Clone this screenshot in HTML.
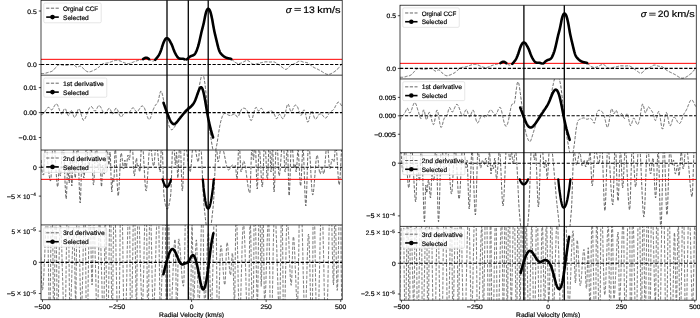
<!DOCTYPE html>
<html><head><meta charset="utf-8"><style>
html,body{margin:0;padding:0;background:#fff;}
svg{display:block;will-change:transform;}
text{font-family:"Liberation Sans",sans-serif;fill:#000;stroke:#000;stroke-width:0.18px;text-rendering:geometricPrecision;}
</style></head><body>
<svg width="700" height="318" viewBox="0 0 700 318">
<defs><filter id="tb" x="-5%" y="-20%" width="110%" height="140%"><feGaussianBlur stdDeviation="0.22"/></filter></defs>
<rect width="700" height="318" fill="#fff"/>
<clipPath id="cL0"><rect x="41.00" y="0.30" width="301.20" height="74.87"/></clipPath>
<clipPath id="cL1"><rect x="41.00" y="75.17" width="301.20" height="74.87"/></clipPath>
<clipPath id="cL2"><rect x="41.00" y="150.04" width="301.20" height="74.87"/></clipPath>
<clipPath id="cL3"><rect x="41.00" y="224.91" width="301.20" height="74.87"/></clipPath>
<g clip-path="url(#cL0)">
<path d="M41.0,73.5 L41.2,73.5 L41.3,73.5 L41.5,73.5 L41.7,73.5 L41.8,73.5 L42.0,73.5 L42.2,73.5 L42.3,73.5 L42.5,73.5 L42.7,73.5 L42.8,73.5 L43.0,73.5 L43.2,73.5 L43.3,73.5 L43.5,73.5 L43.7,73.5 L43.8,73.5 L44.0,73.5 L44.2,73.4 L44.3,73.4 L44.5,73.4 L44.7,73.4 L44.8,73.3 L45.0,73.3 L45.2,73.3 L45.3,73.2 L45.5,73.2 L45.7,73.2 L45.8,73.1 L46.0,73.1 L46.2,73.0 L46.3,73.0 L46.5,72.9 L46.7,72.9 L46.8,72.8 L47.0,72.8 L47.2,72.7 L47.3,72.7 L47.5,72.6 L47.7,72.6 L47.8,72.5 L48.0,72.5 L48.2,72.4 L48.3,72.4 L48.5,72.3 L48.7,72.3 L48.8,72.2 L49.0,72.2 L49.2,72.2 L49.3,72.1 L49.5,72.1 L49.7,72.0 L49.8,72.0 L50.0,72.0 L50.2,71.9 L50.3,71.9 L50.5,71.8 L50.7,71.8 L50.8,71.7 L51.0,71.7 L51.2,71.6 L51.3,71.5 L51.5,71.5 L51.7,71.4 L51.8,71.3 L52.0,71.2 L52.2,71.1 L52.3,71.0 L52.5,70.9 L52.7,70.8 L52.8,70.6 L53.0,70.5 L53.2,70.4 L53.3,70.2 L53.5,70.0 L53.7,69.9 L53.8,69.7 L54.0,69.5 L54.2,69.3 L54.3,69.1 L54.5,68.9 L54.7,68.7 L54.8,68.5 L55.0,68.3 L55.2,68.1 L55.3,67.9 L55.5,67.7 L55.7,67.5 L55.8,67.3 L56.0,67.1 L56.2,66.9 L56.3,66.7 L56.5,66.5 L56.7,66.3 L56.8,66.2 L57.0,66.0 L57.2,65.8 L57.3,65.7 L57.5,65.6 L57.7,65.4 L57.8,65.3 L58.0,65.2 L58.2,65.1 L58.3,65.0 L58.5,64.9 L58.7,64.9 L58.8,64.8 L59.0,64.8 L59.2,64.7 L59.3,64.7 L59.5,64.7 L59.7,64.7 L59.8,64.6 L60.0,64.6 L60.2,64.6 L60.3,64.7 L60.5,64.7 L60.7,64.7 L60.8,64.7 L61.0,64.7 L61.2,64.8 L61.3,64.8 L61.5,64.8 L61.7,64.9 L61.8,64.9 L62.0,64.9 L62.2,65.0 L62.3,65.0 L62.5,65.0 L62.7,65.1 L62.8,65.1 L63.0,65.1 L63.2,65.2 L63.3,65.2 L63.5,65.2 L63.7,65.3 L63.8,65.3 L64.0,65.3 L64.2,65.3 L64.3,65.3 L64.5,65.4 L64.7,65.4 L64.8,65.4 L65.0,65.4 L65.2,65.4 L65.3,65.4 L65.5,65.4 L65.7,65.4 L65.8,65.4 L66.0,65.4 L66.2,65.4 L66.4,65.4 L66.5,65.3 L66.7,65.3 L66.9,65.3 L67.0,65.3 L67.2,65.3 L67.4,65.2 L67.5,65.2 L67.7,65.2 L67.9,65.2 L68.0,65.1 L68.2,65.1 L68.4,65.1 L68.5,65.0 L68.7,65.0 L68.9,65.0 L69.0,65.0 L69.2,64.9 L69.4,64.9 L69.5,64.9 L69.7,64.8 L69.9,64.8 L70.0,64.8 L70.2,64.8 L70.4,64.7 L70.5,64.7 L70.7,64.7 L70.9,64.7 L71.0,64.7 L71.2,64.7 L71.4,64.7 L71.5,64.7 L71.7,64.7 L71.9,64.7 L72.0,64.7 L72.2,64.7 L72.4,64.7 L72.5,64.7 L72.7,64.7 L72.9,64.8 L73.0,64.8 L73.2,64.9 L73.4,64.9 L73.5,65.0 L73.7,65.0 L73.9,65.1 L74.0,65.2 L74.2,65.3 L74.4,65.4 L74.5,65.5 L74.7,65.6 L74.9,65.7 L75.0,65.8 L75.2,66.0 L75.4,66.1 L75.5,66.3 L75.7,66.4 L75.9,66.6 L76.0,66.7 L76.2,66.9 L76.4,67.0 L76.5,67.1 L76.7,67.2 L76.9,67.2 L77.0,67.2 L77.2,67.3 L77.4,67.2 L77.5,67.2 L77.7,67.2 L77.9,67.1 L78.0,67.0 L78.2,66.9 L78.4,66.8 L78.5,66.7 L78.7,66.6 L78.9,66.5 L79.0,66.4 L79.2,66.3 L79.4,66.3 L79.5,66.2 L79.7,66.1 L79.9,66.1 L80.0,66.0 L80.2,66.0 L80.4,66.0 L80.5,66.0 L80.7,66.1 L80.9,66.1 L81.0,66.2 L81.2,66.3 L81.4,66.4 L81.5,66.6 L81.7,66.7 L81.9,66.9 L82.0,67.0 L82.2,67.2 L82.4,67.4 L82.5,67.6 L82.7,67.7 L82.9,67.9 L83.0,68.1 L83.2,68.3 L83.4,68.5 L83.5,68.7 L83.7,68.9 L83.9,69.1 L84.0,69.3 L84.2,69.4 L84.4,69.6 L84.5,69.8 L84.7,69.9 L84.9,70.1 L85.0,70.2 L85.2,70.3 L85.4,70.5 L85.5,70.6 L85.7,70.7 L85.9,70.8 L86.0,70.9 L86.2,71.1 L86.4,71.2 L86.5,71.2 L86.7,71.3 L86.9,71.4 L87.0,71.5 L87.2,71.6 L87.4,71.6 L87.5,71.7 L87.7,71.7 L87.9,71.8 L88.0,71.8 L88.2,71.8 L88.4,71.9 L88.5,71.9 L88.7,71.9 L88.9,71.9 L89.0,71.9 L89.2,71.9 L89.4,71.9 L89.5,71.9 L89.7,71.8 L89.9,71.8 L90.0,71.8 L90.2,71.7 L90.4,71.7 L90.5,71.6 L90.7,71.6 L90.9,71.5 L91.0,71.5 L91.2,71.4 L91.4,71.4 L91.5,71.3 L91.7,71.2 L91.9,71.2 L92.0,71.1 L92.2,71.0 L92.4,70.9 L92.5,70.9 L92.7,70.8 L92.9,70.7 L93.0,70.6 L93.2,70.6 L93.4,70.5 L93.5,70.4 L93.7,70.3 L93.9,70.3 L94.0,70.2 L94.2,70.1 L94.4,70.0 L94.5,69.9 L94.7,69.9 L94.9,69.8 L95.0,69.7 L95.2,69.6 L95.4,69.5 L95.5,69.4 L95.7,69.4 L95.9,69.3 L96.0,69.2 L96.2,69.1 L96.4,69.0 L96.5,68.9 L96.7,68.8 L96.9,68.7 L97.0,68.6 L97.2,68.4 L97.4,68.3 L97.5,68.2 L97.7,68.1 L97.9,68.0 L98.0,67.8 L98.2,67.7 L98.4,67.5 L98.5,67.4 L98.7,67.2 L98.9,67.1 L99.0,66.9 L99.2,66.8 L99.4,66.6 L99.5,66.5 L99.7,66.3 L99.9,66.1 L100.0,66.0 L100.2,65.8 L100.4,65.7 L100.5,65.5 L100.7,65.4 L100.9,65.2 L101.0,65.1 L101.2,64.9 L101.4,64.8 L101.5,64.7 L101.7,64.5 L101.9,64.4 L102.0,64.3 L102.2,64.2 L102.4,64.1 L102.5,64.0 L102.7,63.9 L102.9,63.9 L103.0,63.8 L103.2,63.7 L103.4,63.7 L103.5,63.6 L103.7,63.6 L103.9,63.5 L104.0,63.5 L104.2,63.4 L104.4,63.4 L104.5,63.4 L104.7,63.3 L104.9,63.3 L105.0,63.3 L105.2,63.3 L105.4,63.2 L105.5,63.2 L105.7,63.2 L105.9,63.2 L106.0,63.2 L106.2,63.1 L106.4,63.1 L106.5,63.1 L106.7,63.1 L106.9,63.1 L107.0,63.0 L107.2,63.0 L107.4,63.0 L107.5,63.0 L107.7,62.9 L107.9,62.9 L108.0,62.9 L108.2,62.8 L108.4,62.8 L108.5,62.7 L108.7,62.7 L108.9,62.7 L109.0,62.6 L109.2,62.5 L109.4,62.5 L109.5,62.4 L109.7,62.4 L109.9,62.3 L110.0,62.3 L110.2,62.2 L110.4,62.1 L110.5,62.1 L110.7,62.0 L110.9,61.9 L111.0,61.9 L111.2,61.8 L111.4,61.7 L111.5,61.7 L111.7,61.6 L111.9,61.5 L112.0,61.5 L112.2,61.4 L112.4,61.3 L112.5,61.3 L112.7,61.2 L112.9,61.1 L113.0,61.1 L113.2,61.0 L113.4,61.0 L113.5,60.9 L113.7,60.8 L113.9,60.8 L114.0,60.7 L114.2,60.7 L114.4,60.6 L114.5,60.6 L114.7,60.6 L114.9,60.5 L115.0,60.5 L115.2,60.4 L115.4,60.4 L115.5,60.4 L115.7,60.3 L115.9,60.3 L116.0,60.3 L116.2,60.3 L116.4,60.3 L116.6,60.3 L116.7,60.3 L116.9,60.3 L117.1,60.3 L117.2,60.3 L117.4,60.3 L117.6,60.3 L117.7,60.3 L117.9,60.3 L118.1,60.4 L118.2,60.4 L118.4,60.4 L118.6,60.5 L118.7,60.5 L118.9,60.5 L119.1,60.6 L119.2,60.6 L119.4,60.7 L119.6,60.8 L119.7,60.8 L119.9,60.9 L120.1,60.9 L120.2,61.0 L120.4,61.1 L120.6,61.2 L120.7,61.2 L120.9,61.3 L121.1,61.4 L121.2,61.4 L121.4,61.5 L121.6,61.6 L121.7,61.7 L121.9,61.8 L122.1,61.8 L122.2,61.9 L122.4,62.0 L122.6,62.1 L122.7,62.1 L122.9,62.2 L123.1,62.3 L123.2,62.4 L123.4,62.4 L123.6,62.5 L123.7,62.6 L123.9,62.6 L124.1,62.7 L124.2,62.8 L124.4,62.8 L124.6,62.9 L124.7,63.0 L124.9,63.0 L125.1,63.1 L125.2,63.1 L125.4,63.2 L125.6,63.2 L125.7,63.3 L125.9,63.3 L126.1,63.3 L126.2,63.4 L126.4,63.4 L126.6,63.4 L126.7,63.5 L126.9,63.5 L127.1,63.5 L127.2,63.5 L127.4,63.6 L127.6,63.6 L127.7,63.6 L127.9,63.6 L128.1,63.6 L128.2,63.6 L128.4,63.6 L128.6,63.6 L128.7,63.6 L128.9,63.6 L129.1,63.5 L129.2,63.5 L129.4,63.5 L129.6,63.5 L129.7,63.4 L129.9,63.4 L130.1,63.3 L130.2,63.3 L130.4,63.2 L130.6,63.2 L130.7,63.1 L130.9,63.1 L131.1,63.0 L131.2,62.9 L131.4,62.9 L131.6,62.8 L131.7,62.8 L131.9,62.7 L132.1,62.6 L132.2,62.5 L132.4,62.5 L132.6,62.4 L132.7,62.3 L132.9,62.2 L133.1,62.2 L133.2,62.1 L133.4,62.0 L133.6,62.0 L133.7,61.9 L133.9,61.8 L134.1,61.7 L134.2,61.7 L134.4,61.6 L134.6,61.5 L134.7,61.5 L134.9,61.4 L135.1,61.3 L135.2,61.3 L135.4,61.2 L135.6,61.2 L135.7,61.1 L135.9,61.1 L136.1,61.0 L136.2,61.0 L136.4,60.9 L136.6,60.8 L136.7,60.8 L136.9,60.8 L137.1,60.7 L137.2,60.7 L137.4,60.6 L137.6,60.6 L137.7,60.5 L137.9,60.5 L138.1,60.4 L138.2,60.4 L138.4,60.4 L138.6,60.3 L138.7,60.3 L138.9,60.2 L139.1,60.2 L139.2,60.2 L139.4,60.1 L139.6,60.1 L139.7,60.0 L139.9,60.0 L140.1,60.0 L140.2,59.9 L140.4,59.9 L140.6,59.9 L140.7,59.8 L140.9,59.8 L141.1,59.8 L141.2,59.7 L141.4,59.7 L141.6,59.6 L141.7,59.6 L141.9,59.5 L142.1,59.5 L142.2,59.4 L142.4,59.4 L142.6,59.3 L142.7,59.2 L142.9,59.1 L143.1,59.1 L143.2,59.0 L143.4,58.9 L143.6,58.8 L143.7,58.7 L143.9,58.6 L144.1,58.5 L144.2,58.4 L144.4,58.3 L144.6,58.2 L144.7,58.1 L144.9,58.0 L145.1,58.0 L145.2,57.9 L145.4,57.8 L145.6,57.8 L145.7,57.7 L145.9,57.7 L146.1,57.7 L146.2,57.7 L146.4,57.7 L146.6,57.7 L146.7,57.8 L146.9,57.8 L147.1,57.9 L147.2,57.9 L147.4,58.0 L147.6,58.1 L147.7,58.2 L147.9,58.3 L148.1,58.4 L148.2,58.5 L148.4,58.6 L148.6,58.8 L148.7,58.9 L148.9,59.0 L149.1,59.2 L149.2,59.3 L149.4,59.4 L149.6,59.6 L149.7,59.7 L149.9,59.8 L150.1,60.0 L150.2,60.1 L150.4,60.2 L150.6,60.3 L150.7,60.4 L150.9,60.5 L151.1,60.6 L151.2,60.7 L151.4,60.8 L151.6,60.9 L151.7,60.9 L151.9,61.0 L152.1,61.0 L152.2,61.1 L152.4,61.1 L152.6,61.1 L152.7,61.1 L152.9,61.1 L153.1,61.0 L153.2,61.0 L153.4,61.0 L153.6,60.9 L153.7,60.8 L153.9,60.7 L154.1,60.7 L154.2,60.6 L154.4,60.5 L154.6,60.3 L154.7,60.2 L154.9,60.1 L155.1,59.9 L155.2,59.8 L155.4,59.6 L155.6,59.4 L155.7,59.2 L155.9,59.0 L156.1,58.8 L156.2,58.6 L156.4,58.4 L156.6,58.2 L156.7,58.0 L156.9,57.8 L157.1,57.6 L157.2,57.3 L157.4,57.1 L157.6,56.9 L157.7,56.7 L157.9,56.5 L158.1,56.2 L158.2,56.0 L158.4,55.8 L158.6,55.5 L158.7,55.3 L158.9,55.0 L159.1,54.7 L159.2,54.4 L159.4,54.0 L159.6,53.7 L159.7,53.3 L159.9,52.9 L160.1,52.5 L160.2,52.2 L160.4,51.8 L160.6,51.4 L160.7,50.9 L160.9,50.5 L161.1,50.1 L161.2,49.6 L161.4,49.1 L161.6,48.6 L161.7,48.0 L161.9,47.5 L162.1,47.0 L162.2,46.4 L162.4,45.9 L162.6,45.4 L162.7,44.9 L162.9,44.4 L163.1,43.9 L163.2,43.5 L163.4,43.0 L163.6,42.6 L163.7,42.2 L163.9,41.8 L164.1,41.5 L164.2,41.1 L164.4,40.8 L164.6,40.4 L164.7,40.1 L164.9,39.8 L165.1,39.6 L165.2,39.3 L165.4,39.1 L165.6,38.9 L165.7,38.7 L165.9,38.6 L166.1,38.5 L166.2,38.4 L166.4,38.3 L166.6,38.2 L166.8,38.2 L166.9,38.2 L167.1,38.2 L167.3,38.2 L167.4,38.3 L167.6,38.4 L167.8,38.4 L167.9,38.6 L168.1,38.7 L168.3,38.8 L168.4,39.0 L168.6,39.2 L168.8,39.4 L168.9,39.6 L169.1,39.8 L169.3,40.1 L169.4,40.3 L169.6,40.6 L169.8,40.9 L169.9,41.2 L170.1,41.5 L170.3,41.8 L170.4,42.1 L170.6,42.4 L170.8,42.7 L170.9,43.0 L171.1,43.3 L171.3,43.6 L171.4,44.0 L171.6,44.3 L171.8,44.7 L171.9,45.0 L172.1,45.4 L172.3,45.9 L172.4,46.3 L172.6,46.7 L172.8,47.2 L172.9,47.6 L173.1,48.1 L173.3,48.5 L173.4,49.0 L173.6,49.4 L173.8,49.9 L173.9,50.3 L174.1,50.7 L174.3,51.1 L174.4,51.5 L174.6,51.9 L174.8,52.2 L174.9,52.6 L175.1,52.9 L175.3,53.3 L175.4,53.6 L175.6,53.9 L175.8,54.2 L175.9,54.5 L176.1,54.8 L176.3,55.1 L176.4,55.4 L176.6,55.6 L176.8,55.9 L176.9,56.2 L177.1,56.4 L177.3,56.6 L177.4,56.9 L177.6,57.1 L177.8,57.3 L177.9,57.5 L178.1,57.7 L178.3,57.8 L178.4,58.0 L178.6,58.1 L178.8,58.2 L178.9,58.3 L179.1,58.4 L179.3,58.5 L179.4,58.5 L179.6,58.6 L179.8,58.6 L179.9,58.6 L180.1,58.7 L180.3,58.7 L180.4,58.7 L180.6,58.7 L180.8,58.7 L180.9,58.7 L181.1,58.7 L181.3,58.7 L181.4,58.7 L181.6,58.7 L181.8,58.7 L181.9,58.7 L182.1,58.7 L182.3,58.7 L182.4,58.7 L182.6,58.7 L182.8,58.8 L182.9,58.8 L183.1,58.8 L183.3,58.9 L183.4,58.9 L183.6,59.0 L183.8,59.0 L183.9,59.1 L184.1,59.1 L184.3,59.2 L184.4,59.3 L184.6,59.3 L184.8,59.4 L184.9,59.4 L185.1,59.5 L185.3,59.5 L185.4,59.6 L185.6,59.6 L185.8,59.6 L185.9,59.6 L186.1,59.6 L186.3,59.6 L186.4,59.5 L186.6,59.4 L186.8,59.4 L186.9,59.3 L187.1,59.1 L187.3,59.0 L187.4,58.9 L187.6,58.7 L187.8,58.5 L187.9,58.4 L188.1,58.2 L188.3,58.0 L188.4,57.9 L188.6,57.7 L188.8,57.6 L188.9,57.4 L189.1,57.3 L189.3,57.1 L189.4,57.0 L189.6,56.9 L189.8,56.8 L189.9,56.6 L190.1,56.5 L190.3,56.4 L190.4,56.4 L190.6,56.3 L190.8,56.2 L190.9,56.1 L191.1,56.0 L191.3,56.0 L191.4,55.9 L191.6,55.9 L191.8,55.8 L191.9,55.8 L192.1,55.7 L192.3,55.7 L192.4,55.6 L192.6,55.5 L192.8,55.5 L192.9,55.4 L193.1,55.4 L193.3,55.3 L193.4,55.2 L193.6,55.1 L193.8,55.0 L193.9,54.9 L194.1,54.8 L194.3,54.6 L194.4,54.5 L194.6,54.3 L194.8,54.1 L194.9,53.9 L195.1,53.6 L195.3,53.4 L195.4,53.1 L195.6,52.8 L195.8,52.5 L195.9,52.2 L196.1,51.8 L196.3,51.4 L196.4,51.1 L196.6,50.7 L196.8,50.2 L196.9,49.8 L197.1,49.4 L197.3,48.9 L197.4,48.4 L197.6,47.9 L197.8,47.4 L197.9,46.9 L198.1,46.4 L198.3,45.8 L198.4,45.2 L198.6,44.6 L198.8,44.0 L198.9,43.3 L199.1,42.6 L199.3,42.0 L199.4,41.2 L199.6,40.5 L199.8,39.8 L199.9,39.0 L200.1,38.3 L200.3,37.5 L200.4,36.7 L200.6,36.0 L200.8,35.2 L200.9,34.5 L201.1,33.7 L201.3,33.0 L201.4,32.3 L201.6,31.6 L201.8,30.9 L201.9,30.2 L202.1,29.6 L202.3,28.9 L202.4,28.3 L202.6,27.7 L202.8,27.0 L202.9,26.4 L203.1,25.7 L203.3,25.1 L203.4,24.4 L203.6,23.7 L203.8,22.9 L203.9,22.1 L204.1,21.3 L204.3,20.5 L204.4,19.6 L204.6,18.8 L204.8,17.9 L204.9,17.1 L205.1,16.2 L205.3,15.4 L205.4,14.7 L205.6,14.0 L205.8,13.3 L205.9,12.7 L206.1,12.2 L206.3,11.7 L206.4,11.2 L206.6,10.8 L206.8,10.4 L206.9,10.0 L207.1,9.7 L207.3,9.5 L207.4,9.2 L207.6,9.1 L207.8,8.9 L207.9,8.9 L208.1,8.8 L208.3,8.8 L208.4,8.8 L208.6,8.9 L208.8,9.0 L208.9,9.1 L209.1,9.3 L209.3,9.5 L209.4,9.8 L209.6,10.0 L209.8,10.3 L209.9,10.7 L210.1,11.1 L210.3,11.6 L210.4,12.1 L210.6,12.6 L210.8,13.2 L210.9,13.8 L211.1,14.5 L211.3,15.2 L211.4,15.9 L211.6,16.6 L211.8,17.4 L211.9,18.2 L212.1,19.0 L212.3,19.9 L212.4,20.8 L212.6,21.7 L212.8,22.7 L212.9,23.7 L213.1,24.7 L213.3,25.6 L213.4,26.6 L213.6,27.5 L213.8,28.4 L213.9,29.2 L214.1,30.1 L214.3,30.9 L214.4,31.7 L214.6,32.4 L214.8,33.2 L214.9,33.9 L215.1,34.6 L215.3,35.3 L215.4,36.1 L215.6,36.7 L215.8,37.4 L215.9,38.1 L216.1,38.8 L216.3,39.5 L216.4,40.2 L216.6,40.9 L216.8,41.6 L217.0,42.3 L217.1,43.0 L217.3,43.7 L217.5,44.4 L217.6,45.1 L217.8,45.7 L218.0,46.4 L218.1,47.0 L218.3,47.7 L218.5,48.3 L218.6,48.8 L218.8,49.4 L219.0,49.9 L219.1,50.3 L219.3,50.8 L219.5,51.2 L219.6,51.5 L219.8,51.9 L220.0,52.2 L220.1,52.4 L220.3,52.7 L220.5,53.0 L220.6,53.2 L220.8,53.4 L221.0,53.6 L221.1,53.8 L221.3,54.0 L221.5,54.2 L221.6,54.3 L221.8,54.5 L222.0,54.7 L222.1,54.9 L222.3,55.0 L222.5,55.2 L222.6,55.3 L222.8,55.5 L223.0,55.6 L223.1,55.8 L223.3,55.9 L223.5,56.1 L223.6,56.2 L223.8,56.3 L224.0,56.4 L224.1,56.6 L224.3,56.7 L224.5,56.8 L224.6,56.9 L224.8,57.0 L225.0,57.1 L225.1,57.2 L225.3,57.3 L225.5,57.4 L225.6,57.4 L225.8,57.5 L226.0,57.6 L226.1,57.7 L226.3,57.7 L226.5,57.8 L226.6,57.8 L226.8,57.9 L227.0,57.9 L227.1,58.0 L227.3,58.0 L227.5,58.1 L227.6,58.1 L227.8,58.2 L228.0,58.2 L228.1,58.3 L228.3,58.3 L228.5,58.3 L228.6,58.4 L228.8,58.4 L229.0,58.4 L229.1,58.5 L229.3,58.5 L229.5,58.5 L229.6,58.5 L229.8,58.6 L230.0,58.6 L230.1,58.6 L230.3,58.7 L230.5,58.7 L230.6,58.8 L230.8,58.8 L231.0,58.9 L231.1,59.0 L231.3,59.1 L231.5,59.2 L231.6,59.3 L231.8,59.5 L232.0,59.6 L232.1,59.8 L232.3,59.9 L232.5,60.1 L232.6,60.2 L232.8,60.4 L233.0,60.6 L233.1,60.7 L233.3,60.9 L233.5,61.0 L233.6,61.2 L233.8,61.3 L234.0,61.5 L234.1,61.6 L234.3,61.7 L234.5,61.9 L234.6,62.0 L234.8,62.1 L235.0,62.2 L235.1,62.3 L235.3,62.4 L235.5,62.5 L235.6,62.6 L235.8,62.7 L236.0,62.8 L236.1,62.9 L236.3,63.0 L236.5,63.0 L236.6,63.1 L236.8,63.2 L237.0,63.2 L237.1,63.3 L237.3,63.3 L237.5,63.4 L237.6,63.4 L237.8,63.4 L238.0,63.5 L238.1,63.5 L238.3,63.5 L238.5,63.5 L238.6,63.5 L238.8,63.5 L239.0,63.5 L239.1,63.5 L239.3,63.5 L239.5,63.5 L239.6,63.4 L239.8,63.4 L240.0,63.4 L240.1,63.3 L240.3,63.3 L240.5,63.3 L240.6,63.2 L240.8,63.2 L241.0,63.1 L241.1,63.0 L241.3,63.0 L241.5,62.9 L241.6,62.9 L241.8,62.8 L242.0,62.7 L242.1,62.6 L242.3,62.6 L242.5,62.5 L242.6,62.4 L242.8,62.3 L243.0,62.2 L243.1,62.1 L243.3,62.1 L243.5,62.0 L243.6,61.9 L243.8,61.8 L244.0,61.7 L244.1,61.6 L244.3,61.5 L244.5,61.4 L244.6,61.3 L244.8,61.2 L245.0,61.2 L245.1,61.1 L245.3,61.0 L245.5,60.9 L245.6,60.9 L245.8,60.8 L246.0,60.8 L246.1,60.7 L246.3,60.7 L246.5,60.6 L246.6,60.6 L246.8,60.6 L247.0,60.6 L247.1,60.5 L247.3,60.5 L247.5,60.6 L247.6,60.6 L247.8,60.6 L248.0,60.7 L248.1,60.7 L248.3,60.8 L248.5,60.9 L248.6,60.9 L248.8,61.0 L249.0,61.1 L249.1,61.3 L249.3,61.4 L249.5,61.5 L249.6,61.6 L249.8,61.8 L250.0,61.9 L250.1,62.0 L250.3,62.2 L250.5,62.3 L250.6,62.5 L250.8,62.6 L251.0,62.8 L251.1,62.9 L251.3,63.1 L251.5,63.2 L251.6,63.3 L251.8,63.4 L252.0,63.6 L252.1,63.7 L252.3,63.8 L252.5,63.9 L252.6,64.0 L252.8,64.1 L253.0,64.1 L253.1,64.2 L253.3,64.2 L253.5,64.3 L253.6,64.3 L253.8,64.3 L254.0,64.3 L254.1,64.3 L254.3,64.3 L254.5,64.3 L254.6,64.3 L254.8,64.3 L255.0,64.3 L255.1,64.2 L255.3,64.2 L255.5,64.2 L255.6,64.1 L255.8,64.1 L256.0,64.0 L256.1,64.0 L256.3,63.9 L256.5,63.9 L256.6,63.8 L256.8,63.8 L257.0,63.7 L257.1,63.7 L257.3,63.6 L257.5,63.6 L257.6,63.6 L257.8,63.5 L258.0,63.5 L258.1,63.4 L258.3,63.4 L258.5,63.3 L258.6,63.3 L258.8,63.3 L259.0,63.2 L259.1,63.2 L259.3,63.2 L259.5,63.1 L259.6,63.1 L259.8,63.1 L260.0,63.0 L260.1,63.0 L260.3,62.9 L260.5,62.9 L260.6,62.9 L260.8,62.8 L261.0,62.8 L261.1,62.8 L261.3,62.7 L261.5,62.7 L261.6,62.6 L261.8,62.6 L262.0,62.6 L262.1,62.5 L262.3,62.5 L262.5,62.4 L262.6,62.4 L262.8,62.3 L263.0,62.3 L263.1,62.3 L263.3,62.2 L263.5,62.2 L263.6,62.1 L263.8,62.1 L264.0,62.1 L264.1,62.0 L264.3,62.0 L264.5,62.0 L264.6,61.9 L264.8,61.9 L265.0,61.9 L265.1,61.9 L265.3,61.8 L265.5,61.8 L265.6,61.8 L265.8,61.8 L266.0,61.8 L266.1,61.8 L266.3,61.8 L266.5,61.8 L266.6,61.8 L266.8,61.8 L267.0,61.8 L267.2,61.8 L267.3,61.8 L267.5,61.8 L267.7,61.8 L267.8,61.9 L268.0,61.9 L268.2,61.9 L268.3,61.9 L268.5,61.9 L268.7,61.9 L268.8,61.9 L269.0,62.0 L269.2,62.0 L269.3,62.0 L269.5,62.0 L269.7,62.0 L269.8,62.0 L270.0,62.0 L270.2,62.0 L270.3,62.0 L270.5,62.0 L270.7,62.0 L270.8,62.0 L271.0,62.0 L271.2,62.0 L271.3,62.0 L271.5,61.9 L271.7,61.9 L271.8,61.9 L272.0,61.9 L272.2,61.9 L272.3,61.9 L272.5,61.8 L272.7,61.8 L272.8,61.8 L273.0,61.8 L273.2,61.8 L273.3,61.8 L273.5,61.8 L273.7,61.9 L273.8,61.9 L274.0,61.9 L274.2,62.0 L274.3,62.0 L274.5,62.1 L274.7,62.1 L274.8,62.2 L275.0,62.3 L275.2,62.4 L275.3,62.5 L275.5,62.5 L275.7,62.6 L275.8,62.8 L276.0,62.9 L276.2,63.0 L276.3,63.1 L276.5,63.2 L276.7,63.3 L276.8,63.5 L277.0,63.6 L277.2,63.7 L277.3,63.8 L277.5,63.9 L277.7,64.1 L277.8,64.2 L278.0,64.3 L278.2,64.4 L278.3,64.5 L278.5,64.7 L278.7,64.8 L278.8,64.9 L279.0,65.0 L279.2,65.1 L279.3,65.2 L279.5,65.3 L279.7,65.4 L279.8,65.5 L280.0,65.6 L280.2,65.8 L280.3,65.9 L280.5,66.0 L280.7,66.1 L280.8,66.2 L281.0,66.3 L281.2,66.5 L281.3,66.6 L281.5,66.7 L281.7,66.8 L281.8,67.0 L282.0,67.1 L282.2,67.2 L282.3,67.4 L282.5,67.5 L282.7,67.6 L282.8,67.8 L283.0,67.9 L283.2,68.1 L283.3,68.2 L283.5,68.3 L283.7,68.5 L283.8,68.6 L284.0,68.7 L284.2,68.8 L284.3,68.9 L284.5,69.0 L284.7,69.1 L284.8,69.2 L285.0,69.2 L285.2,69.3 L285.3,69.3 L285.5,69.4 L285.7,69.4 L285.8,69.4 L286.0,69.4 L286.2,69.3 L286.3,69.3 L286.5,69.2 L286.7,69.2 L286.8,69.1 L287.0,69.0 L287.2,68.8 L287.3,68.7 L287.5,68.6 L287.7,68.4 L287.8,68.3 L288.0,68.1 L288.2,67.9 L288.3,67.7 L288.5,67.6 L288.7,67.4 L288.8,67.2 L289.0,67.0 L289.2,66.8 L289.3,66.7 L289.5,66.5 L289.7,66.3 L289.8,66.1 L290.0,66.0 L290.2,65.8 L290.3,65.7 L290.5,65.6 L290.7,65.4 L290.8,65.3 L291.0,65.2 L291.2,65.1 L291.3,65.0 L291.5,64.9 L291.7,64.8 L291.8,64.7 L292.0,64.7 L292.2,64.6 L292.3,64.5 L292.5,64.4 L292.7,64.4 L292.8,64.3 L293.0,64.2 L293.2,64.2 L293.3,64.1 L293.5,64.1 L293.7,64.0 L293.8,63.9 L294.0,63.9 L294.2,63.8 L294.3,63.7 L294.5,63.7 L294.7,63.6 L294.8,63.5 L295.0,63.4 L295.2,63.4 L295.3,63.3 L295.5,63.2 L295.7,63.1 L295.8,63.0 L296.0,62.9 L296.2,62.8 L296.3,62.7 L296.5,62.6 L296.7,62.5 L296.8,62.4 L297.0,62.3 L297.2,62.2 L297.3,62.0 L297.5,61.9 L297.7,61.8 L297.8,61.8 L298.0,61.7 L298.2,61.6 L298.3,61.5 L298.5,61.4 L298.7,61.3 L298.8,61.3 L299.0,61.2 L299.2,61.2 L299.3,61.1 L299.5,61.1 L299.7,61.1 L299.8,61.1 L300.0,61.1 L300.2,61.1 L300.3,61.1 L300.5,61.1 L300.7,61.2 L300.8,61.2 L301.0,61.2 L301.2,61.3 L301.3,61.3 L301.5,61.4 L301.7,61.4 L301.8,61.5 L302.0,61.6 L302.2,61.6 L302.3,61.7 L302.5,61.8 L302.7,61.8 L302.8,61.9 L303.0,61.9 L303.2,62.0 L303.3,62.0 L303.5,62.1 L303.7,62.1 L303.8,62.2 L304.0,62.2 L304.2,62.3 L304.3,62.3 L304.5,62.3 L304.7,62.3 L304.8,62.3 L305.0,62.3 L305.2,62.4 L305.3,62.4 L305.5,62.4 L305.7,62.4 L305.8,62.4 L306.0,62.4 L306.2,62.5 L306.3,62.5 L306.5,62.5 L306.7,62.5 L306.8,62.6 L307.0,62.6 L307.2,62.7 L307.3,62.7 L307.5,62.8 L307.7,62.9 L307.8,63.0 L308.0,63.1 L308.2,63.2 L308.3,63.3 L308.5,63.4 L308.7,63.5 L308.8,63.7 L309.0,63.8 L309.2,64.0 L309.3,64.1 L309.5,64.2 L309.7,64.4 L309.8,64.5 L310.0,64.7 L310.2,64.8 L310.3,65.0 L310.5,65.1 L310.7,65.3 L310.8,65.4 L311.0,65.6 L311.2,65.7 L311.3,65.8 L311.5,65.9 L311.7,66.1 L311.8,66.2 L312.0,66.3 L312.2,66.4 L312.3,66.5 L312.5,66.6 L312.7,66.7 L312.8,66.8 L313.0,66.9 L313.2,67.0 L313.3,67.1 L313.5,67.2 L313.7,67.3 L313.8,67.4 L314.0,67.5 L314.2,67.6 L314.3,67.7 L314.5,67.8 L314.7,67.8 L314.8,67.9 L315.0,68.0 L315.2,68.1 L315.3,68.2 L315.5,68.2 L315.7,68.3 L315.8,68.4 L316.0,68.5 L316.2,68.6 L316.3,68.6 L316.5,68.7 L316.7,68.8 L316.8,68.9 L317.0,69.0 L317.2,69.0 L317.4,69.1 L317.5,69.2 L317.7,69.3 L317.9,69.3 L318.0,69.4 L318.2,69.5 L318.4,69.6 L318.5,69.7 L318.7,69.7 L318.9,69.8 L319.0,69.9 L319.2,70.0 L319.4,70.1 L319.5,70.2 L319.7,70.3 L319.9,70.3 L320.0,70.4 L320.2,70.5 L320.4,70.6 L320.5,70.7 L320.7,70.8 L320.9,70.9 L321.0,71.0 L321.2,71.1 L321.4,71.2 L321.5,71.3 L321.7,71.4 L321.9,71.5 L322.0,71.6 L322.2,71.8 L322.4,71.9 L322.5,72.0 L322.7,72.1 L322.9,72.2 L323.0,72.3 L323.2,72.4 L323.4,72.5 L323.5,72.6 L323.7,72.7 L323.9,72.8 L324.0,72.9 L324.2,73.0 L324.4,73.1 L324.5,73.2 L324.7,73.3 L324.9,73.4 L325.0,73.5 L325.2,73.6 L325.4,73.7 L325.5,73.8 L325.7,73.8 L325.9,73.9 L326.0,74.0 L326.2,74.0 L326.4,74.1 L326.5,74.2 L326.7,74.2 L326.9,74.2 L327.0,74.3 L327.2,74.3 L327.4,74.4 L327.5,74.4 L327.7,74.4 L327.9,74.4 L328.0,74.4 L328.2,74.4 L328.4,74.4 L328.5,74.4 L328.7,74.4 L328.9,74.3 L329.0,74.3 L329.2,74.3 L329.4,74.2 L329.5,74.2 L329.7,74.2 L329.9,74.1 L330.0,74.0 L330.2,74.0 L330.4,73.9 L330.5,73.9 L330.7,73.8 L330.9,73.7 L331.0,73.6 L331.2,73.6 L331.4,73.5 L331.5,73.4 L331.7,73.3 L331.9,73.2 L332.0,73.1 L332.2,73.0 L332.4,73.0 L332.5,72.9 L332.7,72.8 L332.9,72.7 L333.0,72.6 L333.2,72.5 L333.4,72.4 L333.5,72.3 L333.7,72.2 L333.9,72.1 L334.0,71.9 L334.2,71.8 L334.4,71.7 L334.5,71.6 L334.7,71.5 L334.9,71.4 L335.0,71.2 L335.2,71.1 L335.4,71.0 L335.5,70.8 L335.7,70.7 L335.9,70.6 L336.0,70.4 L336.2,70.3 L336.4,70.1 L336.5,70.0 L336.7,69.8 L336.9,69.7 L337.0,69.5 L337.2,69.4 L337.4,69.2 L337.5,69.0 L337.7,68.9 L337.9,68.7 L338.0,68.5 L338.2,68.3 L338.4,68.1 L338.5,68.0 L338.7,67.8 L338.9,67.6 L339.0,67.4 L339.2,67.2 L339.4,67.0 L339.5,66.8 L339.7,66.6 L339.9,66.4 L340.0,66.2 L340.2,66.0 L340.4,65.8 L340.5,65.6 L340.7,65.4 L340.9,65.2 L341.0,65.0 L341.2,64.8 L341.4,64.6 L341.5,64.4 L341.7,64.1 L341.9,63.9 L342.0,63.7 L342.2,63.5" stroke="#555" stroke-width="0.9" fill="none" stroke-dasharray="3.2 1.5"/>
<line x1="41.00" x2="342.20" y1="64.47" y2="64.47" stroke="#000" stroke-width="1.1" fill="none" stroke-dasharray="3.3 1.6"/>
<line x1="41.00" x2="342.20" y1="59.34" y2="59.34" stroke="#f00" stroke-width="1.0"/>
<path d="M143.07,59.07 L143.23,58.98 L143.40,58.89 L143.57,58.79 L143.73,58.69 L143.90,58.59 L144.07,58.49 L144.24,58.39 L144.40,58.30 L144.57,58.20 L144.74,58.11 L144.90,58.03 L145.07,57.95 L145.24,57.89 L145.40,57.83 L145.57,57.78 L145.74,57.74 L145.90,57.71 L146.07,57.70 L146.24,57.70 L146.40,57.71 L146.57,57.73 L146.74,57.77 L146.90,57.82 L147.07,57.88 L147.24,57.95 L147.40,58.02 L147.57,58.11 L147.74,58.20 L147.90,58.31 L148.07,58.41 L148.24,58.53 L148.40,58.64 L148.57,58.77 L148.74,58.89 L148.90,59.02 L149.07,59.16" stroke="#000" stroke-width="2.6" fill="none" stroke-linejoin="round" stroke-linecap="round"/>
<path d="M155.24,59.76 L155.41,59.59 L155.58,59.41 L155.74,59.23 L155.91,59.03 L156.08,58.83 L156.24,58.63 L156.41,58.42 L156.58,58.20 L156.74,57.99 L156.91,57.77 L157.08,57.55 L157.24,57.33 L157.41,57.12 L157.58,56.90 L157.74,56.68 L157.91,56.47 L158.08,56.25 L158.24,56.02 L158.41,55.78 L158.58,55.53 L158.74,55.26 L158.91,54.98 L159.08,54.68 L159.25,54.35 L159.41,54.02 L159.58,53.66 L159.75,53.30 L159.91,52.93 L160.08,52.55 L160.25,52.16 L160.41,51.77 L160.58,51.37 L160.75,50.95 L160.91,50.51 L161.08,50.06 L161.25,49.58 L161.41,49.08 L161.58,48.56 L161.75,48.03 L161.91,47.49 L162.08,46.95 L162.25,46.41 L162.41,45.88 L162.58,45.36 L162.75,44.86 L162.91,44.37 L163.08,43.91 L163.25,43.46 L163.41,43.02 L163.58,42.61 L163.75,42.21 L163.91,41.82 L164.08,41.45 L164.25,41.10 L164.42,40.76 L164.58,40.43 L164.75,40.13 L164.92,39.84 L165.08,39.57 L165.25,39.32 L165.42,39.10 L165.58,38.91 L165.75,38.73 L165.92,38.59 L166.08,38.46 L166.25,38.37 L166.42,38.29 L166.58,38.24 L166.75,38.21 L166.92,38.19 L167.08,38.21 L167.25,38.24 L167.42,38.29 L167.58,38.36 L167.75,38.45 L167.92,38.56 L168.08,38.69 L168.25,38.83 L168.42,39.00 L168.58,39.18 L168.75,39.38 L168.92,39.60 L169.09,39.83 L169.25,40.07 L169.42,40.33 L169.59,40.60 L169.75,40.88 L169.92,41.17 L170.09,41.47 L170.25,41.77 L170.42,42.08 L170.59,42.39 L170.75,42.70 L170.92,43.01 L171.09,43.32 L171.25,43.64 L171.42,43.97 L171.59,44.31 L171.75,44.67 L171.92,45.05 L172.09,45.44 L172.25,45.86 L172.42,46.29 L172.59,46.73 L172.75,47.18 L172.92,47.63 L173.09,48.09 L173.25,48.55 L173.42,49.00 L173.59,49.45 L173.75,49.88 L173.92,50.31 L174.09,50.72 L174.26,51.12 L174.42,51.50 L174.59,51.88 L174.76,52.24 L174.92,52.60 L175.09,52.94 L175.26,53.27 L175.42,53.60 L175.59,53.91 L175.76,54.22 L175.92,54.52 L176.09,54.81 L176.26,55.10 L176.42,55.38 L176.59,55.65 L176.76,55.91 L176.92,56.17 L177.09,56.41 L177.26,56.65 L177.42,56.88 L177.59,57.09 L177.76,57.29 L177.92,57.48 L178.09,57.66 L178.26,57.82 L178.42,57.96 L178.59,58.09 L178.76,58.21 L178.92,58.31 L179.09,58.39 L179.26,58.46 L179.43,58.52 L179.59,58.57 L179.76,58.61 L179.93,58.64 L180.09,58.66 L180.26,58.68 L180.43,58.69 L180.59,58.70 L180.76,58.70 L180.93,58.70 L181.09,58.70 L181.26,58.70 L181.43,58.70 L181.59,58.70 L181.76,58.70 L181.93,58.70 L182.09,58.71 L182.26,58.72 L182.43,58.73 L182.59,58.75 L182.76,58.77 L182.93,58.79 L183.09,58.83 L183.26,58.86 L183.43,58.91 L183.59,58.96 L183.76,59.01 L183.93,59.07 L184.10,59.14 L184.26,59.20 L184.43,59.27 L184.60,59.33" stroke="#000" stroke-width="2.6" fill="none" stroke-linejoin="round" stroke-linecap="round"/>
<path d="M186.60,59.45 L186.76,59.37 L186.93,59.26 L187.10,59.14 L187.26,59.01 L187.43,58.86 L187.60,58.70 L187.76,58.54 L187.93,58.37 L188.10,58.20 L188.26,58.03 L188.43,57.87 L188.60,57.71 L188.76,57.55 L188.93,57.40 L189.10,57.26 L189.27,57.13 L189.43,57.00 L189.60,56.88 L189.77,56.76 L189.93,56.65 L190.10,56.55 L190.27,56.45 L190.43,56.35 L190.60,56.27 L190.77,56.19 L190.93,56.11 L191.10,56.04 L191.27,55.97 L191.43,55.92 L191.60,55.86 L191.77,55.81 L191.93,55.75 L192.10,55.70 L192.27,55.65 L192.43,55.60 L192.60,55.54 L192.77,55.49 L192.93,55.42 L193.10,55.35 L193.27,55.28 L193.43,55.19 L193.60,55.10 L193.77,55.00 L193.93,54.88 L194.10,54.75 L194.27,54.61 L194.44,54.45 L194.60,54.28 L194.77,54.09 L194.94,53.88 L195.10,53.65 L195.27,53.39 L195.44,53.12 L195.60,52.82 L195.77,52.50 L195.94,52.17 L196.10,51.81 L196.27,51.44 L196.44,51.05 L196.60,50.65 L196.77,50.23 L196.94,49.80 L197.10,49.36 L197.27,48.91 L197.44,48.43 L197.60,47.95 L197.77,47.44 L197.94,46.92 L198.10,46.38 L198.27,45.81 L198.44,45.22 L198.60,44.61 L198.77,43.98 L198.94,43.32 L199.10,42.65 L199.27,41.95 L199.44,41.24 L199.61,40.52 L199.77,39.78 L199.94,39.03 L200.11,38.27 L200.27,37.51 L200.44,36.74 L200.61,35.97 L200.77,35.21 L200.94,34.45 L201.11,33.71 L201.27,32.97 L201.44,32.25 L201.61,31.56 L201.77,30.88 L201.94,30.21 L202.11,29.56 L202.27,28.92 L202.44,28.29 L202.61,27.65 L202.77,27.02 L202.94,26.38 L203.11,25.73 L203.27,25.06 L203.44,24.38 L203.61,23.66 L203.77,22.92 L203.94,22.13 L204.11,21.32 L204.28,20.48 L204.44,19.63 L204.61,18.77 L204.78,17.91 L204.94,17.06 L205.11,16.23 L205.28,15.43 L205.44,14.67 L205.61,13.96 L205.78,13.31 L205.94,12.71 L206.11,12.16 L206.28,11.66 L206.44,11.20 L206.61,10.78 L206.78,10.39 L206.94,10.04 L207.11,9.73 L207.28,9.47 L207.44,9.25 L207.61,9.07 L207.78,8.94 L207.94,8.85 L208.11,8.81 L208.28,8.80 L208.44,8.84 L208.61,8.91 L208.78,9.01 L208.94,9.15 L209.11,9.32 L209.28,9.52 L209.45,9.75 L209.61,10.03 L209.78,10.34 L209.95,10.70 L210.11,11.11 L210.28,11.56 L210.45,12.05 L210.61,12.59 L210.78,13.17 L210.95,13.79 L211.11,14.45 L211.28,15.15 L211.45,15.88 L211.61,16.63 L211.78,17.41 L211.95,18.20 L212.11,19.01 L212.28,19.86 L212.45,20.76 L212.61,21.71 L212.78,22.70 L212.95,23.69 L213.11,24.67 L213.28,25.63 L213.45,26.57 L213.61,27.48 L213.78,28.37 L213.95,29.24 L214.11,30.07 L214.28,30.89 L214.45,31.67 L214.62,32.44 L214.78,33.19 L214.95,33.92 L215.12,34.64 L215.28,35.35 L215.45,36.05 L215.62,36.75 L215.78,37.44 L215.95,38.13 L216.12,38.82 L216.28,39.51 L216.45,40.21 L216.62,40.91 L216.78,41.61 L216.95,42.31 L217.12,43.01 L217.28,43.70 L217.45,44.39 L217.62,45.07 L217.78,45.74 L217.95,46.40 L218.12,47.04 L218.28,47.66 L218.45,48.25 L218.62,48.82 L218.78,49.36 L218.95,49.86 L219.12,50.33 L219.29,50.76 L219.45,51.15 L219.62,51.52 L219.79,51.85 L219.95,52.16 L220.12,52.45 L220.29,52.71 L220.45,52.96 L220.62,53.19 L220.79,53.40 L220.95,53.60 L221.12,53.80 L221.29,53.98 L221.45,54.17 L221.62,54.35 L221.79,54.52 L221.95,54.70 L222.12,54.86 L222.29,55.03 L222.45,55.19 L222.62,55.34 L222.79,55.50 L222.95,55.64 L223.12,55.79 L223.29,55.93 L223.45,56.06 L223.62,56.19 L223.79,56.32 L223.95,56.44 L224.12,56.56 L224.29,56.68 L224.46,56.79 L224.62,56.89 L224.79,56.99 L224.96,57.09 L225.12,57.18 L225.29,57.27 L225.46,57.35 L225.62,57.43 L225.79,57.51 L225.96,57.58 L226.12,57.65 L226.29,57.72 L226.46,57.78 L226.62,57.84 L226.79,57.89 L226.96,57.95 L227.12,58.00 L227.29,58.05 L227.46,58.09 L227.62,58.14 L227.79,58.18 L227.96,58.22 L228.12,58.26 L228.29,58.29 L228.46,58.33 L228.62,58.36 L228.79,58.39 L228.96,58.42 L229.12,58.45 L229.29,58.48 L229.46,58.51 L229.63,58.54 L229.79,58.57 L229.96,58.60 L230.13,58.63 L230.29,58.68 L230.46,58.72 L230.63,58.78 L230.79,58.84 L230.96,58.91 L231.13,59.00 L231.29,59.10" stroke="#000" stroke-width="2.6" fill="none" stroke-linejoin="round" stroke-linecap="round"/>
</g>
<g clip-path="url(#cL1)">
<path d="M41.1,115.0 L41.3,114.9 L41.4,114.8 L41.6,114.7 L41.8,114.6 L41.9,114.5 L42.1,114.4 L42.3,114.3 L42.4,114.2 L42.6,114.1 L42.8,113.9 L42.9,113.8 L43.1,113.7 L43.3,113.5 L43.4,113.4 L43.6,113.2 L43.8,113.1 L43.9,112.9 L44.1,112.7 L44.3,112.5 L44.4,112.3 L44.6,112.1 L44.8,111.9 L44.9,111.6 L45.1,111.4 L45.3,111.1 L45.4,110.9 L45.6,110.6 L45.8,110.3 L45.9,110.1 L46.1,109.8 L46.3,109.6 L46.4,109.3 L46.6,109.1 L46.8,108.8 L46.9,108.6 L47.1,108.4 L47.3,108.2 L47.4,108.0 L47.6,107.9 L47.8,107.8 L47.9,107.6 L48.1,107.5 L48.3,107.5 L48.4,107.4 L48.6,107.4 L48.8,107.5 L48.9,107.5 L49.1,107.6 L49.3,107.7 L49.4,107.9 L49.6,108.1 L49.8,108.3 L49.9,108.5 L50.1,108.7 L50.3,108.9 L50.4,109.1 L50.6,109.3 L50.8,109.5 L50.9,109.6 L51.1,109.8 L51.3,109.9 L51.4,109.9 L51.6,109.9 L51.8,109.9 L51.9,109.8 L52.1,109.7 L52.3,109.5 L52.4,109.3 L52.6,109.1 L52.8,108.9 L52.9,108.6 L53.1,108.3 L53.3,108.1 L53.4,107.8 L53.6,107.4 L53.8,107.1 L53.9,106.8 L54.1,106.5 L54.3,106.2 L54.4,105.9 L54.6,105.6 L54.8,105.3 L54.9,105.0 L55.1,104.8 L55.3,104.5 L55.4,104.3 L55.6,104.2 L55.8,104.0 L55.9,103.9 L56.1,103.9 L56.3,103.8 L56.4,103.8 L56.6,103.9 L56.8,104.0 L56.9,104.2 L57.1,104.4 L57.3,104.6 L57.4,104.9 L57.6,105.2 L57.8,105.6 L57.9,105.9 L58.1,106.3 L58.3,106.8 L58.4,107.2 L58.6,107.7 L58.8,108.1 L58.9,108.6 L59.1,109.1 L59.3,109.6 L59.4,110.0 L59.6,110.5 L59.8,111.0 L59.9,111.4 L60.1,111.8 L60.3,112.2 L60.4,112.6 L60.6,113.0 L60.8,113.2 L60.9,113.5 L61.1,113.7 L61.3,113.8 L61.4,113.9 L61.6,113.9 L61.8,113.9 L61.9,113.7 L62.1,113.5 L62.3,113.3 L62.4,113.0 L62.6,112.7 L62.8,112.3 L62.9,111.9 L63.1,111.5 L63.3,111.1 L63.4,110.7 L63.6,110.3 L63.8,109.9 L63.9,109.6 L64.1,109.2 L64.3,109.0 L64.4,108.7 L64.6,108.6 L64.8,108.5 L64.9,108.5 L65.1,108.5 L65.3,108.7 L65.4,108.9 L65.6,109.2 L65.8,109.5 L65.9,109.9 L66.1,110.4 L66.3,110.9 L66.5,111.4 L66.6,111.9 L66.8,112.4 L67.0,112.9 L67.1,113.4 L67.3,113.9 L67.5,114.3 L67.6,114.7 L67.8,115.0 L68.0,115.3 L68.1,115.5 L68.3,115.6 L68.5,115.7 L68.6,115.6 L68.8,115.4 L69.0,115.1 L69.1,114.8 L69.3,114.4 L69.5,113.9 L69.6,113.4 L69.8,112.9 L70.0,112.4 L70.1,111.9 L70.3,111.5 L70.5,111.1 L70.6,110.8 L70.8,110.5 L71.0,110.4 L71.1,110.3 L71.3,110.4 L71.5,110.5 L71.6,110.7 L71.8,111.0 L72.0,111.4 L72.1,111.8 L72.3,112.2 L72.5,112.7 L72.6,113.2 L72.8,113.7 L73.0,114.2 L73.1,114.7 L73.3,115.2 L73.5,115.7 L73.6,116.1 L73.8,116.5 L74.0,116.8 L74.1,117.1 L74.3,117.3 L74.5,117.4 L74.6,117.5 L74.8,117.4 L75.0,117.3 L75.1,117.2 L75.3,117.0 L75.5,116.7 L75.6,116.4 L75.8,116.0 L76.0,115.6 L76.1,115.2 L76.3,114.7 L76.5,114.2 L76.6,113.7 L76.8,113.1 L77.0,112.6 L77.1,112.1 L77.3,111.6 L77.5,111.1 L77.6,110.6 L77.8,110.2 L78.0,109.8 L78.1,109.5 L78.3,109.2 L78.5,108.9 L78.6,108.8 L78.8,108.7 L79.0,108.7 L79.1,108.8 L79.3,109.0 L79.5,109.2 L79.6,109.5 L79.8,109.9 L80.0,110.3 L80.1,110.8 L80.3,111.3 L80.5,111.8 L80.6,112.4 L80.8,113.0 L81.0,113.6 L81.1,114.2 L81.3,114.8 L81.5,115.4 L81.6,116.0 L81.8,116.6 L82.0,117.2 L82.1,117.7 L82.3,118.2 L82.5,118.7 L82.6,119.1 L82.8,119.4 L83.0,119.7 L83.1,119.9 L83.3,120.1 L83.5,120.2 L83.6,120.2 L83.8,120.2 L84.0,120.1 L84.1,120.0 L84.3,119.9 L84.5,119.7 L84.6,119.4 L84.8,119.2 L85.0,118.8 L85.1,118.5 L85.3,118.2 L85.5,117.8 L85.6,117.4 L85.8,116.9 L86.0,116.5 L86.1,116.0 L86.3,115.6 L86.5,115.1 L86.6,114.7 L86.8,114.2 L87.0,113.7 L87.1,113.3 L87.3,112.8 L87.5,112.4 L87.6,111.9 L87.8,111.5 L88.0,111.1 L88.1,110.7 L88.3,110.3 L88.5,109.9 L88.6,109.5 L88.8,109.2 L89.0,108.9 L89.1,108.5 L89.3,108.3 L89.5,108.0 L89.6,107.7 L89.8,107.5 L90.0,107.3 L90.1,107.1 L90.3,106.9 L90.5,106.8 L90.6,106.7 L90.8,106.6 L91.0,106.6 L91.1,106.6 L91.3,106.6 L91.5,106.6 L91.6,106.7 L91.8,106.8 L92.0,107.0 L92.1,107.2 L92.3,107.4 L92.5,107.6 L92.6,107.9 L92.8,108.2 L93.0,108.5 L93.1,108.8 L93.3,109.1 L93.5,109.4 L93.6,109.7 L93.8,109.9 L94.0,110.2 L94.1,110.4 L94.3,110.6 L94.5,110.8 L94.6,110.9 L94.8,111.0 L95.0,111.0 L95.1,111.0 L95.3,110.9 L95.5,110.8 L95.6,110.6 L95.8,110.4 L96.0,110.2 L96.1,109.9 L96.3,109.6 L96.5,109.3 L96.6,109.0 L96.8,108.7 L97.0,108.3 L97.1,108.0 L97.3,107.7 L97.5,107.3 L97.6,107.0 L97.8,106.7 L98.0,106.4 L98.1,106.2 L98.3,106.0 L98.5,105.8 L98.6,105.6 L98.8,105.5 L99.0,105.5 L99.1,105.5 L99.3,105.5 L99.5,105.6 L99.6,105.7 L99.8,105.9 L100.0,106.0 L100.1,106.3 L100.3,106.5 L100.5,106.8 L100.6,107.1 L100.8,107.4 L101.0,107.7 L101.1,108.0 L101.3,108.4 L101.5,108.7 L101.6,109.1 L101.8,109.5 L102.0,109.8 L102.1,110.2 L102.3,110.5 L102.5,110.8 L102.6,111.2 L102.8,111.5 L103.0,111.8 L103.1,112.0 L103.3,112.3 L103.5,112.5 L103.6,112.8 L103.8,112.9 L104.0,113.1 L104.1,113.3 L104.3,113.4 L104.5,113.5 L104.6,113.6 L104.8,113.6 L105.0,113.6 L105.1,113.6 L105.3,113.6 L105.5,113.5 L105.6,113.3 L105.8,113.2 L106.0,113.0 L106.1,112.8 L106.3,112.5 L106.5,112.3 L106.6,112.0 L106.8,111.7 L107.0,111.4 L107.1,111.1 L107.3,110.7 L107.5,110.4 L107.6,110.1 L107.8,109.8 L108.0,109.5 L108.1,109.3 L108.3,109.0 L108.5,108.8 L108.6,108.6 L108.8,108.5 L109.0,108.4 L109.1,108.3 L109.3,108.3 L109.5,108.4 L109.6,108.5 L109.8,108.6 L110.0,108.8 L110.1,109.1 L110.3,109.4 L110.5,109.7 L110.6,110.1 L110.8,110.5 L111.0,110.9 L111.1,111.3 L111.3,111.7 L111.5,112.1 L111.6,112.4 L111.8,112.8 L112.0,113.1 L112.1,113.4 L112.3,113.6 L112.5,113.8 L112.6,113.9 L112.8,114.0 L113.0,114.0 L113.1,113.9 L113.3,113.7 L113.5,113.4 L113.6,113.1 L113.8,112.7 L114.0,112.3 L114.1,111.9 L114.3,111.4 L114.5,110.9 L114.6,110.5 L114.8,110.0 L115.0,109.6 L115.1,109.2 L115.3,108.9 L115.5,108.6 L115.6,108.4 L115.8,108.3 L116.0,108.2 L116.1,108.2 L116.3,108.3 L116.5,108.4 L116.7,108.5 L116.8,108.7 L117.0,108.9 L117.2,109.2 L117.3,109.5 L117.5,109.9 L117.7,110.2 L117.8,110.6 L118.0,111.0 L118.2,111.4 L118.3,111.9 L118.5,112.3 L118.7,112.7 L118.8,113.2 L119.0,113.6 L119.2,114.0 L119.3,114.4 L119.5,114.8 L119.7,115.2 L119.8,115.6 L120.0,115.9 L120.2,116.2 L120.3,116.4 L120.5,116.6 L120.7,116.8 L120.8,116.9 L121.0,117.0 L121.2,117.0 L121.3,117.0 L121.5,116.9 L121.7,116.7 L121.8,116.5 L122.0,116.3 L122.2,116.1 L122.3,115.8 L122.5,115.5 L122.7,115.2 L122.8,114.9 L123.0,114.6 L123.2,114.4 L123.3,114.1 L123.5,113.8 L123.7,113.6 L123.8,113.3 L124.0,113.2 L124.2,113.0 L124.3,112.9 L124.5,112.7 L124.7,112.7 L124.8,112.6 L125.0,112.5 L125.2,112.5 L125.3,112.5 L125.5,112.5 L125.7,112.5 L125.8,112.5 L126.0,112.5 L126.2,112.5 L126.3,112.5 L126.5,112.6 L126.7,112.6 L126.8,112.6 L127.0,112.7 L127.2,112.7 L127.3,112.7 L127.5,112.7 L127.7,112.8 L127.8,112.8 L128.0,112.7 L128.2,112.7 L128.3,112.7 L128.5,112.6 L128.7,112.6 L128.8,112.5 L129.0,112.4 L129.2,112.3 L129.3,112.2 L129.5,112.0 L129.7,111.8 L129.8,111.7 L130.0,111.4 L130.2,111.2 L130.3,111.0 L130.5,110.7 L130.7,110.4 L130.8,110.2 L131.0,109.9 L131.2,109.6 L131.3,109.4 L131.5,109.1 L131.7,108.9 L131.8,108.7 L132.0,108.5 L132.2,108.3 L132.3,108.1 L132.5,108.0 L132.7,107.9 L132.8,107.8 L133.0,107.8 L133.2,107.8 L133.3,107.8 L133.5,107.9 L133.7,108.1 L133.8,108.2 L134.0,108.4 L134.2,108.6 L134.3,108.9 L134.5,109.1 L134.7,109.4 L134.8,109.7 L135.0,109.9 L135.2,110.2 L135.3,110.5 L135.5,110.7 L135.7,110.9 L135.8,111.2 L136.0,111.4 L136.2,111.5 L136.3,111.7 L136.5,111.8 L136.7,111.8 L136.8,111.8 L137.0,111.8 L137.2,111.7 L137.3,111.7 L137.5,111.5 L137.7,111.4 L137.8,111.2 L138.0,111.0 L138.2,110.8 L138.3,110.6 L138.5,110.3 L138.7,110.1 L138.8,109.8 L139.0,109.5 L139.2,109.3 L139.3,109.0 L139.5,108.7 L139.7,108.5 L139.8,108.2 L140.0,108.0 L140.2,107.7 L140.3,107.5 L140.5,107.3 L140.7,107.1 L140.8,106.9 L141.0,106.7 L141.2,106.6 L141.3,106.4 L141.5,106.3 L141.7,106.2 L141.8,106.1 L142.0,106.0 L142.2,106.0 L142.3,106.0 L142.5,106.0 L142.7,106.0 L142.8,106.1 L143.0,106.2 L143.2,106.3 L143.3,106.4 L143.5,106.6 L143.7,106.8 L143.8,107.1 L144.0,107.3 L144.2,107.6 L144.3,108.0 L144.5,108.3 L144.7,108.7 L144.8,109.1 L145.0,109.5 L145.2,110.0 L145.3,110.4 L145.5,110.9 L145.7,111.4 L145.8,111.9 L146.0,112.4 L146.2,112.9 L146.3,113.4 L146.5,114.0 L146.7,114.5 L146.8,115.0 L147.0,115.5 L147.2,116.0 L147.3,116.5 L147.5,117.0 L147.7,117.4 L147.8,117.8 L148.0,118.2 L148.2,118.6 L148.3,118.9 L148.5,119.1 L148.7,119.3 L148.8,119.5 L149.0,119.6 L149.2,119.6 L149.3,119.6 L149.5,119.5 L149.7,119.3 L149.8,119.1 L150.0,118.9 L150.2,118.6 L150.3,118.2 L150.5,117.8 L150.7,117.4 L150.8,116.9 L151.0,116.5 L151.2,116.0 L151.3,115.5 L151.5,114.9 L151.7,114.4 L151.8,113.8 L152.0,113.3 L152.2,112.8 L152.3,112.3 L152.5,111.8 L152.7,111.3 L152.8,110.8 L153.0,110.3 L153.2,109.9 L153.3,109.4 L153.5,109.0 L153.7,108.6 L153.8,108.2 L154.0,107.8 L154.2,107.4 L154.3,107.1 L154.5,106.7 L154.7,106.4 L154.8,106.1 L155.0,105.9 L155.2,105.6 L155.3,105.4 L155.5,105.1 L155.7,104.9 L155.8,104.7 L156.0,104.6 L156.2,104.4 L156.3,104.3 L156.5,104.1 L156.7,103.9 L156.8,103.8 L157.0,103.5 L157.2,103.3 L157.3,103.1 L157.5,102.8 L157.7,102.4 L157.8,102.0 L158.0,101.5 L158.2,101.0 L158.3,100.4 L158.5,99.8 L158.7,99.1 L158.8,98.3 L159.0,97.5 L159.2,96.7 L159.3,95.9 L159.5,95.1 L159.7,94.4 L159.8,93.7 L160.0,93.0 L160.2,92.4 L160.3,91.9 L160.5,91.5 L160.7,91.2 L160.8,91.1 L161.0,91.0 L161.2,91.1 L161.3,91.3 L161.5,91.6 L161.7,92.0 L161.8,92.5 L162.0,93.0 L162.2,93.6 L162.3,94.3 L162.5,95.0 L162.7,95.7 L162.8,96.4 L163.0,97.2 L163.2,98.0 L163.3,98.8 L163.5,99.7 L163.7,100.6 L163.8,101.4 L164.0,102.3 L164.2,103.2 L164.3,104.2 L164.5,105.1 L164.7,106.0 L164.8,106.9 L165.0,107.9 L165.2,108.8 L165.3,109.7 L165.5,110.6 L165.7,111.5 L165.8,112.4 L166.0,113.3 L166.2,114.2 L166.3,115.0 L166.5,115.9 L166.7,116.7 L166.9,117.5 L167.0,118.3 L167.2,119.0 L167.4,119.8 L167.5,120.5 L167.7,121.2 L167.9,121.9 L168.0,122.5 L168.2,123.1 L168.4,123.7 L168.5,124.3 L168.7,124.9 L168.9,125.4 L169.0,125.9 L169.2,126.3 L169.4,126.8 L169.5,127.2 L169.7,127.6 L169.9,127.9 L170.0,128.2 L170.2,128.5 L170.4,128.7 L170.5,129.0 L170.7,129.1 L170.9,129.3 L171.0,129.4 L171.2,129.5 L171.4,129.6 L171.5,129.7 L171.7,129.7 L171.9,129.7 L172.0,129.7 L172.2,129.6 L172.4,129.5 L172.5,129.4 L172.7,129.3 L172.9,129.2 L173.0,129.0 L173.2,128.8 L173.4,128.6 L173.5,128.4 L173.7,128.2 L173.9,128.0 L174.0,127.7 L174.2,127.5 L174.4,127.2 L174.5,127.0 L174.7,126.7 L174.9,126.4 L175.0,126.2 L175.2,125.9 L175.4,125.6 L175.5,125.3 L175.7,125.1 L175.9,124.8 L176.0,124.5 L176.2,124.3 L176.4,124.0 L176.5,123.7 L176.7,123.4 L176.9,123.2 L177.0,122.9 L177.2,122.7 L177.4,122.4 L177.5,122.1 L177.7,121.9 L177.9,121.6 L178.0,121.3 L178.2,121.1 L178.4,120.8 L178.5,120.5 L178.7,120.3 L178.9,120.0 L179.0,119.8 L179.2,119.5 L179.4,119.2 L179.5,119.0 L179.7,118.7 L179.9,118.4 L180.0,118.2 L180.2,117.9 L180.4,117.7 L180.5,117.4 L180.7,117.1 L180.9,116.8 L181.0,116.6 L181.2,116.3 L181.4,116.0 L181.5,115.8 L181.7,115.5 L181.9,115.2 L182.0,115.0 L182.2,114.7 L182.4,114.4 L182.5,114.1 L182.7,113.9 L182.9,113.6 L183.0,113.3 L183.2,113.1 L183.4,112.8 L183.5,112.5 L183.7,112.3 L183.9,112.0 L184.0,111.8 L184.2,111.5 L184.4,111.3 L184.5,111.0 L184.7,110.8 L184.9,110.6 L185.0,110.3 L185.2,110.1 L185.4,109.9 L185.5,109.7 L185.7,109.5 L185.9,109.2 L186.0,109.0 L186.2,108.9 L186.4,108.7 L186.5,108.5 L186.7,108.3 L186.9,108.1 L187.0,108.0 L187.2,107.8 L187.4,107.6 L187.5,107.5 L187.7,107.3 L187.9,107.2 L188.0,107.1 L188.2,106.9 L188.4,106.8 L188.5,106.7 L188.7,106.5 L188.9,106.4 L189.0,106.3 L189.2,106.2 L189.4,106.0 L189.5,105.9 L189.7,105.8 L189.9,105.7 L190.0,105.6 L190.2,105.5 L190.4,105.4 L190.5,105.3 L190.7,105.2 L190.9,105.1 L191.0,105.0 L191.2,104.9 L191.4,104.8 L191.5,104.7 L191.7,104.6 L191.9,104.5 L192.0,104.4 L192.2,104.3 L192.4,104.1 L192.5,104.0 L192.7,103.9 L192.9,103.8 L193.0,103.7 L193.2,103.5 L193.4,103.4 L193.5,103.2 L193.7,103.1 L193.9,102.9 L194.0,102.7 L194.2,102.5 L194.4,102.3 L194.5,102.0 L194.7,101.8 L194.9,101.5 L195.0,101.2 L195.2,100.9 L195.4,100.6 L195.5,100.2 L195.7,99.9 L195.9,99.5 L196.0,99.0 L196.2,98.6 L196.4,98.1 L196.5,97.6 L196.7,97.1 L196.9,96.5 L197.0,95.9 L197.2,95.3 L197.4,94.6 L197.5,94.0 L197.7,93.3 L197.9,92.6 L198.0,91.9 L198.2,91.1 L198.4,90.4 L198.5,89.6 L198.7,88.8 L198.9,88.0 L199.0,87.2 L199.2,86.4 L199.4,85.6 L199.5,84.8 L199.7,84.0 L199.9,83.1 L200.0,82.3 L200.2,81.5 L200.4,80.7 L200.5,79.9 L200.7,79.1 L200.9,78.3 L201.0,77.6 L201.2,76.9 L201.4,76.3 L201.5,75.7 L201.7,75.2 L201.9,74.8 L202.0,74.5 L202.2,74.2 L202.4,74.1 L202.5,74.0 L202.7,74.0 L202.9,74.2 L203.0,74.4 L203.2,74.8 L203.4,75.2 L203.5,75.8 L203.7,76.4 L203.9,77.2 L204.0,78.0 L204.2,78.9 L204.4,79.9 L204.5,81.0 L204.7,82.1 L204.9,83.3 L205.0,84.6 L205.2,86.0 L205.4,87.5 L205.5,89.0 L205.7,90.5 L205.9,92.2 L206.0,93.8 L206.2,95.5 L206.4,97.3 L206.5,99.1 L206.7,100.8 L206.9,102.6 L207.0,104.4 L207.2,106.2 L207.4,108.0 L207.5,109.8 L207.7,111.6 L207.9,113.3 L208.0,115.0 L208.2,116.6 L208.4,118.2 L208.5,119.8 L208.7,121.3 L208.9,122.8 L209.0,124.2 L209.2,125.5 L209.4,126.9 L209.5,128.2 L209.7,129.4 L209.9,130.7 L210.0,131.9 L210.2,133.1 L210.4,134.2 L210.5,135.4 L210.7,136.5 L210.9,137.6 L211.0,138.7 L211.2,139.8 L211.4,140.9 L211.5,141.9 L211.7,143.0 L211.9,144.0 L212.0,145.1 L212.2,146.0 L212.4,147.0 L212.5,147.9 L212.7,148.7 L212.9,149.5 L213.0,150.2 L213.2,150.9 L213.4,151.4 L213.5,151.9 L213.7,152.2 L213.9,152.5 L214.0,152.7 L214.2,152.8 L214.4,152.8 L214.5,152.7 L214.7,152.5 L214.9,152.3 L215.0,151.9 L215.2,151.5 L215.4,151.1 L215.5,150.5 L215.7,149.9 L215.9,149.3 L216.0,148.5 L216.2,147.8 L216.4,146.9 L216.5,146.1 L216.7,145.2 L216.9,144.2 L217.1,143.2 L217.2,142.2 L217.4,141.1 L217.6,140.0 L217.7,139.0 L217.9,137.8 L218.1,136.7 L218.2,135.6 L218.4,134.5 L218.6,133.4 L218.7,132.3 L218.9,131.2 L219.1,130.2 L219.2,129.2 L219.4,128.2 L219.6,127.2 L219.7,126.3 L219.9,125.4 L220.1,124.6 L220.2,123.8 L220.4,123.0 L220.6,122.2 L220.7,121.5 L220.9,120.9 L221.1,120.3 L221.2,119.7 L221.4,119.1 L221.6,118.5 L221.7,118.0 L221.9,117.6 L222.1,117.1 L222.2,116.7 L222.4,116.3 L222.6,115.9 L222.7,115.6 L222.9,115.3 L223.1,115.0 L223.2,114.8 L223.4,114.5 L223.6,114.3 L223.7,114.1 L223.9,114.0 L224.1,113.8 L224.2,113.7 L224.4,113.6 L224.6,113.5 L224.7,113.5 L224.9,113.5 L225.1,113.4 L225.2,113.5 L225.4,113.5 L225.6,113.5 L225.7,113.6 L225.9,113.6 L226.1,113.7 L226.2,113.8 L226.4,113.9 L226.6,113.9 L226.7,114.0 L226.9,114.1 L227.1,114.3 L227.2,114.4 L227.4,114.5 L227.6,114.6 L227.7,114.7 L227.9,114.7 L228.1,114.8 L228.2,114.9 L228.4,115.0 L228.6,115.1 L228.7,115.2 L228.9,115.2 L229.1,115.3 L229.2,115.4 L229.4,115.4 L229.6,115.4 L229.7,115.5 L229.9,115.5 L230.1,115.5 L230.2,115.6 L230.4,115.6 L230.6,115.6 L230.7,115.5 L230.9,115.5 L231.1,115.5 L231.2,115.4 L231.4,115.4 L231.6,115.3 L231.7,115.2 L231.9,115.2 L232.1,115.1 L232.2,115.0 L232.4,114.8 L232.6,114.7 L232.7,114.6 L232.9,114.5 L233.1,114.4 L233.2,114.3 L233.4,114.2 L233.6,114.2 L233.7,114.1 L233.9,114.1 L234.1,114.0 L234.2,114.0 L234.4,114.0 L234.6,114.1 L234.7,114.2 L234.9,114.2 L235.1,114.4 L235.2,114.5 L235.4,114.7 L235.6,114.9 L235.7,115.1 L235.9,115.4 L236.1,115.6 L236.2,115.8 L236.4,116.1 L236.6,116.3 L236.7,116.5 L236.9,116.7 L237.1,116.8 L237.2,116.9 L237.4,117.0 L237.6,117.0 L237.7,117.0 L237.9,116.9 L238.1,116.8 L238.2,116.6 L238.4,116.3 L238.6,116.1 L238.7,115.7 L238.9,115.4 L239.1,115.0 L239.2,114.6 L239.4,114.2 L239.6,113.8 L239.7,113.4 L239.9,112.9 L240.1,112.5 L240.2,112.1 L240.4,111.7 L240.6,111.3 L240.7,110.9 L240.9,110.5 L241.1,110.2 L241.2,109.9 L241.4,109.6 L241.6,109.3 L241.7,109.1 L241.9,108.9 L242.1,108.8 L242.2,108.6 L242.4,108.5 L242.6,108.4 L242.7,108.3 L242.9,108.3 L243.1,108.2 L243.2,108.2 L243.4,108.2 L243.6,108.2 L243.7,108.2 L243.9,108.2 L244.1,108.3 L244.2,108.3 L244.4,108.3 L244.6,108.4 L244.7,108.4 L244.9,108.5 L245.1,108.6 L245.2,108.6 L245.4,108.7 L245.6,108.8 L245.7,108.9 L245.9,109.0 L246.1,109.2 L246.2,109.3 L246.4,109.5 L246.6,109.7 L246.7,109.9 L246.9,110.1 L247.1,110.4 L247.2,110.7 L247.4,111.0 L247.6,111.4 L247.7,111.8 L247.9,112.2 L248.1,112.6 L248.2,113.1 L248.4,113.6 L248.6,114.2 L248.7,114.7 L248.9,115.3 L249.1,115.9 L249.2,116.4 L249.4,117.0 L249.6,117.5 L249.7,118.1 L249.9,118.6 L250.1,119.0 L250.2,119.4 L250.4,119.8 L250.6,120.1 L250.7,120.3 L250.9,120.4 L251.1,120.5 L251.2,120.5 L251.4,120.4 L251.6,120.2 L251.7,119.9 L251.9,119.6 L252.1,119.2 L252.2,118.7 L252.4,118.2 L252.6,117.7 L252.7,117.1 L252.9,116.5 L253.1,115.8 L253.2,115.2 L253.4,114.5 L253.6,113.8 L253.7,113.2 L253.9,112.5 L254.1,111.9 L254.2,111.3 L254.4,110.7 L254.6,110.2 L254.7,109.6 L254.9,109.2 L255.1,108.7 L255.2,108.4 L255.4,108.1 L255.6,107.8 L255.7,107.6 L255.9,107.5 L256.1,107.4 L256.2,107.4 L256.4,107.5 L256.6,107.7 L256.7,107.9 L256.9,108.2 L257.1,108.6 L257.2,108.9 L257.4,109.3 L257.6,109.7 L257.7,110.0 L257.9,110.3 L258.1,110.6 L258.2,110.9 L258.4,111.0 L258.6,111.1 L258.7,111.1 L258.9,111.0 L259.1,110.9 L259.2,110.7 L259.4,110.5 L259.6,110.3 L259.7,110.0 L259.9,109.8 L260.1,109.5 L260.2,109.2 L260.4,109.0 L260.6,108.8 L260.7,108.6 L260.9,108.5 L261.1,108.4 L261.2,108.3 L261.4,108.4 L261.6,108.4 L261.7,108.5 L261.9,108.7 L262.1,108.9 L262.2,109.1 L262.4,109.3 L262.6,109.6 L262.7,109.9 L262.9,110.2 L263.1,110.5 L263.2,110.8 L263.4,111.1 L263.6,111.4 L263.7,111.7 L263.9,111.9 L264.1,112.2 L264.2,112.4 L264.4,112.6 L264.6,112.8 L264.7,112.9 L264.9,113.0 L265.1,113.1 L265.2,113.2 L265.4,113.2 L265.6,113.2 L265.7,113.2 L265.9,113.1 L266.1,113.1 L266.2,113.0 L266.4,112.9 L266.6,112.8 L266.7,112.7 L266.9,112.6 L267.1,112.5 L267.3,112.3 L267.4,112.2 L267.6,112.1 L267.8,112.0 L267.9,111.9 L268.1,111.7 L268.3,111.6 L268.4,111.5 L268.6,111.5 L268.8,111.4 L268.9,111.3 L269.1,111.2 L269.3,111.2 L269.4,111.1 L269.6,111.1 L269.8,111.0 L269.9,111.0 L270.1,111.0 L270.3,110.9 L270.4,110.9 L270.6,110.9 L270.8,110.9 L270.9,110.9 L271.1,111.0 L271.3,111.0 L271.4,111.0 L271.6,111.0 L271.8,111.1 L271.9,111.1 L272.1,111.2 L272.3,111.3 L272.4,111.4 L272.6,111.5 L272.8,111.6 L272.9,111.8 L273.1,112.0 L273.3,112.2 L273.4,112.4 L273.6,112.7 L273.8,113.0 L273.9,113.3 L274.1,113.7 L274.3,114.1 L274.4,114.5 L274.6,115.0 L274.8,115.4 L274.9,115.9 L275.1,116.3 L275.3,116.7 L275.4,117.1 L275.6,117.5 L275.8,117.9 L275.9,118.1 L276.1,118.4 L276.3,118.6 L276.4,118.7 L276.6,118.7 L276.8,118.6 L276.9,118.5 L277.1,118.3 L277.3,118.1 L277.4,117.8 L277.6,117.5 L277.8,117.1 L277.9,116.7 L278.1,116.4 L278.3,116.0 L278.4,115.6 L278.6,115.3 L278.8,115.0 L278.9,114.8 L279.1,114.6 L279.3,114.5 L279.4,114.4 L279.6,114.4 L279.8,114.5 L279.9,114.6 L280.1,114.8 L280.3,115.0 L280.4,115.2 L280.6,115.5 L280.8,115.8 L280.9,116.1 L281.1,116.4 L281.3,116.7 L281.4,117.1 L281.6,117.4 L281.8,117.6 L281.9,117.9 L282.1,118.2 L282.3,118.4 L282.4,118.5 L282.6,118.6 L282.8,118.7 L282.9,118.7 L283.1,118.6 L283.3,118.5 L283.4,118.4 L283.6,118.1 L283.8,117.9 L283.9,117.5 L284.1,117.1 L284.3,116.7 L284.4,116.3 L284.6,115.7 L284.8,115.2 L284.9,114.6 L285.1,114.0 L285.3,113.3 L285.4,112.6 L285.6,111.8 L285.8,111.1 L285.9,110.3 L286.1,109.5 L286.3,108.8 L286.4,108.0 L286.6,107.3 L286.8,106.7 L286.9,106.0 L287.1,105.5 L287.3,105.0 L287.4,104.6 L287.6,104.3 L287.8,104.1 L287.9,104.0 L288.1,104.0 L288.3,104.2 L288.4,104.4 L288.6,104.8 L288.8,105.2 L288.9,105.7 L289.1,106.3 L289.3,106.8 L289.4,107.4 L289.6,108.0 L289.8,108.6 L289.9,109.2 L290.1,109.7 L290.3,110.2 L290.4,110.7 L290.6,111.0 L290.8,111.3 L290.9,111.4 L291.1,111.5 L291.3,111.5 L291.4,111.5 L291.6,111.4 L291.8,111.2 L291.9,111.0 L292.1,110.7 L292.3,110.4 L292.4,110.1 L292.6,109.7 L292.8,109.4 L292.9,109.0 L293.1,108.6 L293.3,108.2 L293.4,107.8 L293.6,107.4 L293.8,107.1 L293.9,106.7 L294.1,106.4 L294.3,106.1 L294.4,105.9 L294.6,105.7 L294.8,105.5 L294.9,105.4 L295.1,105.3 L295.3,105.2 L295.4,105.1 L295.6,105.1 L295.8,105.1 L295.9,105.1 L296.1,105.2 L296.3,105.3 L296.4,105.4 L296.6,105.6 L296.8,105.8 L296.9,106.0 L297.1,106.3 L297.3,106.5 L297.4,106.9 L297.6,107.2 L297.8,107.6 L297.9,108.0 L298.1,108.4 L298.3,108.8 L298.4,109.3 L298.6,109.8 L298.8,110.3 L298.9,110.9 L299.1,111.4 L299.3,112.0 L299.4,112.5 L299.6,113.0 L299.8,113.4 L299.9,113.9 L300.1,114.3 L300.3,114.6 L300.4,114.9 L300.6,115.1 L300.8,115.2 L300.9,115.3 L301.1,115.3 L301.3,115.1 L301.4,114.9 L301.6,114.7 L301.8,114.4 L301.9,114.0 L302.1,113.6 L302.3,113.2 L302.4,112.7 L302.6,112.3 L302.8,111.8 L302.9,111.4 L303.1,111.0 L303.3,110.7 L303.4,110.4 L303.6,110.1 L303.8,110.0 L303.9,109.9 L304.1,109.9 L304.3,110.0 L304.4,110.2 L304.6,110.5 L304.8,110.9 L304.9,111.4 L305.1,112.0 L305.3,112.7 L305.4,113.4 L305.6,114.2 L305.8,115.0 L305.9,115.8 L306.1,116.6 L306.3,117.4 L306.4,118.1 L306.6,118.9 L306.8,119.6 L306.9,120.2 L307.1,120.8 L307.3,121.3 L307.4,121.7 L307.6,122.0 L307.8,122.2 L307.9,122.2 L308.1,122.1 L308.3,121.9 L308.4,121.5 L308.6,121.1 L308.8,120.6 L308.9,120.0 L309.1,119.3 L309.3,118.6 L309.4,117.9 L309.6,117.1 L309.8,116.3 L309.9,115.6 L310.1,114.8 L310.3,114.1 L310.4,113.4 L310.6,112.8 L310.8,112.2 L310.9,111.7 L311.1,111.3 L311.3,111.0 L311.4,110.9 L311.6,110.8 L311.8,110.8 L311.9,111.0 L312.1,111.2 L312.3,111.5 L312.4,111.9 L312.6,112.3 L312.8,112.7 L312.9,113.2 L313.1,113.8 L313.3,114.3 L313.4,114.9 L313.6,115.5 L313.8,116.0 L313.9,116.6 L314.1,117.1 L314.3,117.5 L314.4,118.0 L314.6,118.4 L314.8,118.7 L314.9,118.9 L315.1,119.1 L315.3,119.2 L315.4,119.2 L315.6,119.2 L315.8,119.2 L315.9,119.1 L316.1,118.9 L316.3,118.7 L316.4,118.5 L316.6,118.3 L316.8,118.0 L316.9,117.7 L317.1,117.4 L317.3,117.1 L317.5,116.8 L317.6,116.5 L317.8,116.2 L318.0,115.9 L318.1,115.6 L318.3,115.3 L318.5,115.1 L318.6,114.9 L318.8,114.7 L319.0,114.5 L319.1,114.3 L319.3,114.2 L319.5,114.1 L319.6,114.0 L319.8,113.9 L320.0,113.8 L320.1,113.8 L320.3,113.8 L320.5,113.8 L320.6,113.8 L320.8,113.9 L321.0,113.9 L321.1,114.0 L321.3,114.1 L321.5,114.2 L321.6,114.3 L321.8,114.5 L322.0,114.6 L322.1,114.8 L322.3,115.0 L322.5,115.2 L322.6,115.4 L322.8,115.6 L323.0,115.8 L323.1,116.0 L323.3,116.2 L323.5,116.4 L323.6,116.6 L323.8,116.8 L324.0,117.0 L324.1,117.2 L324.3,117.3 L324.5,117.5 L324.6,117.6 L324.8,117.8 L325.0,117.8 L325.1,117.9 L325.3,118.0 L325.5,118.0 L325.6,118.0 L325.8,118.0 L326.0,117.9 L326.1,117.8 L326.3,117.7 L326.5,117.6 L326.6,117.4 L326.8,117.2 L327.0,116.9 L327.1,116.7 L327.3,116.4 L327.5,116.2 L327.6,115.9 L327.8,115.6 L328.0,115.3 L328.1,115.0 L328.3,114.7 L328.5,114.4 L328.6,114.1 L328.8,113.8 L329.0,113.5 L329.1,113.2 L329.3,113.0 L329.5,112.8 L329.6,112.5 L329.8,112.3 L330.0,112.2 L330.1,112.0 L330.3,111.9 L330.5,111.7 L330.6,111.6 L330.8,111.5 L331.0,111.4 L331.1,111.3 L331.3,111.2 L331.5,111.1 L331.6,111.0 L331.8,110.9 L332.0,110.8 L332.1,110.7 L332.3,110.6 L332.5,110.5 L332.6,110.4 L332.8,110.3 L333.0,110.1 L333.1,110.0 L333.3,109.8 L333.5,109.6 L333.6,109.4 L333.8,109.2 L334.0,109.0 L334.1,108.7 L334.3,108.4 L334.5,108.1 L334.6,107.8 L334.8,107.5 L335.0,107.2 L335.1,106.9 L335.3,106.5 L335.5,106.2 L335.6,105.9 L335.8,105.5 L336.0,105.2 L336.1,104.9 L336.3,104.6 L336.5,104.3 L336.6,104.0 L336.8,103.7 L337.0,103.4 L337.1,103.2 L337.3,103.0 L337.5,102.8 L337.6,102.6 L337.8,102.5 L338.0,102.4 L338.1,102.3 L338.3,102.2 L338.5,102.2 L338.6,102.2 L338.8,102.3 L339.0,102.4 L339.1,102.5 L339.3,102.6 L339.5,102.7 L339.6,102.9 L339.8,103.1 L340.0,103.3 L340.1,103.5 L340.3,103.7 L340.5,103.9 L340.6,104.2 L340.8,104.5 L341.0,104.7 L341.1,105.0 L341.3,105.3 L341.5,105.6 L341.6,105.9 L341.8,106.1 L342.0,106.4 L342.1,106.7 L342.3,107.0" stroke="#555" stroke-width="0.9" fill="none" stroke-dasharray="3.2 1.5"/>
<line x1="41.00" x2="342.20" y1="112.61" y2="112.61" stroke="#000" stroke-width="1.1" fill="none" stroke-dasharray="3.3 1.6"/>
<path d="M163.50,102.80 L163.67,103.27 L163.84,103.73 L164.00,104.20 L164.17,104.66 L164.34,105.12 L164.51,105.59 L164.67,106.05 L164.84,106.52 L165.01,106.98 L165.18,107.44 L165.34,107.90 L165.51,108.37 L165.68,108.83 L165.85,109.29 L166.01,109.75 L166.18,110.20 L166.35,110.66 L166.52,111.12 L166.68,111.57 L166.85,112.03 L167.02,112.48 L167.19,112.93 L167.35,113.38 L167.52,113.83 L167.69,114.28 L167.86,114.72 L168.02,115.16 L168.19,115.59 L168.36,116.02 L168.53,116.45 L168.69,116.86 L168.86,117.27 L169.03,117.68 L169.20,118.07 L169.36,118.46 L169.53,118.84 L169.70,119.21 L169.87,119.57 L170.04,119.91 L170.20,120.25 L170.37,120.58 L170.54,120.89 L170.71,121.19 L170.87,121.47 L171.04,121.74 L171.21,122.00 L171.38,122.25 L171.54,122.48 L171.71,122.70 L171.88,122.90 L172.05,123.08 L172.21,123.26 L172.38,123.41 L172.55,123.56 L172.72,123.68 L172.88,123.79 L173.05,123.89 L173.22,123.97 L173.39,124.03 L173.55,124.08 L173.72,124.11 L173.89,124.12 L174.06,124.12 L174.22,124.10 L174.39,124.06 L174.56,124.00 L174.73,123.93 L174.89,123.85 L175.06,123.75 L175.23,123.64 L175.40,123.52 L175.56,123.38 L175.73,123.23 L175.90,123.08 L176.07,122.91 L176.24,122.74 L176.40,122.56 L176.57,122.37 L176.74,122.18 L176.91,121.98 L177.07,121.78 L177.24,121.57 L177.41,121.37 L177.58,121.16 L177.74,120.95 L177.91,120.73 L178.08,120.52 L178.25,120.31 L178.41,120.10 L178.58,119.89 L178.75,119.68 L178.92,119.47 L179.08,119.25 L179.25,119.04 L179.42,118.83 L179.59,118.62 L179.75,118.41 L179.92,118.19 L180.09,117.98 L180.26,117.77 L180.42,117.56 L180.59,117.35 L180.76,117.14 L180.93,116.93 L181.09,116.72 L181.26,116.51 L181.43,116.30 L181.60,116.09 L181.76,115.88 L181.93,115.68 L182.10,115.47 L182.27,115.26 L182.44,115.06 L182.60,114.85 L182.77,114.65 L182.94,114.44 L183.11,114.24 L183.27,114.04 L183.44,113.84 L183.61,113.64 L183.78,113.44 L183.94,113.25 L184.11,113.05 L184.28,112.86 L184.45,112.66 L184.61,112.47 L184.78,112.28 L184.95,112.10 L185.12,111.91 L185.28,111.73 L185.45,111.55 L185.62,111.37 L185.79,111.19 L185.95,111.02 L186.12,110.85 L186.29,110.68 L186.46,110.51 L186.62,110.35 L186.79,110.19 L186.96,110.03 L187.13,109.88 L187.29,109.72 L187.46,109.57 L187.63,109.43 L187.80,109.28 L187.96,109.14 L188.13,109.00 L188.30,108.86 L188.47,108.72 L188.64,108.58 L188.80,108.44 L188.97,108.30 L189.14,108.16 L189.31,108.02 L189.47,107.88 L189.64,107.74 L189.81,107.60 L189.98,107.45 L190.14,107.31 L190.31,107.16 L190.48,107.01 L190.65,106.86 L190.81,106.70 L190.98,106.54 L191.15,106.38 L191.32,106.21 L191.48,106.04 L191.65,105.86 L191.82,105.68 L191.99,105.49 L192.15,105.30 L192.32,105.10 L192.49,104.90 L192.66,104.69 L192.82,104.47 L192.99,104.24 L193.16,104.01 L193.33,103.76 L193.49,103.51 L193.66,103.24 L193.83,102.97 L194.00,102.68 L194.16,102.39 L194.33,102.08 L194.50,101.76 L194.67,101.42 L194.84,101.08 L195.00,100.71 L195.17,100.34 L195.34,99.95 L195.51,99.54 L195.67,99.12 L195.84,98.69 L196.01,98.25 L196.18,97.79 L196.34,97.33 L196.51,96.86 L196.68,96.38 L196.85,95.90 L197.01,95.42 L197.18,94.93 L197.35,94.45 L197.52,93.96 L197.68,93.48 L197.85,93.01 L198.02,92.54 L198.19,92.08 L198.35,91.62 L198.52,91.18 L198.69,90.75 L198.86,90.33 L199.02,89.93 L199.19,89.55 L199.36,89.19 L199.53,88.86 L199.69,88.55 L199.86,88.27 L200.03,88.01 L200.20,87.79 L200.36,87.61 L200.53,87.46 L200.70,87.35 L200.87,87.28 L201.04,87.25 L201.20,87.27 L201.37,87.33 L201.54,87.45 L201.71,87.61 L201.87,87.82 L202.04,88.08 L202.21,88.38 L202.38,88.74 L202.54,89.14 L202.71,89.58 L202.88,90.07 L203.05,90.61 L203.21,91.19 L203.38,91.82 L203.55,92.49 L203.72,93.20 L203.88,93.96 L204.05,94.75 L204.22,95.58 L204.39,96.44 L204.55,97.33 L204.72,98.25 L204.89,99.18 L205.06,100.14 L205.22,101.11 L205.39,102.09 L205.56,103.08 L205.73,104.08 L205.89,105.07 L206.06,106.07 L206.23,107.06 L206.40,108.05 L206.56,109.03 L206.73,110.00 L206.90,110.97 L207.07,111.93 L207.24,112.88 L207.40,113.81 L207.57,114.74 L207.74,115.65 L207.91,116.55 L208.07,117.43 L208.24,118.30 L208.41,119.15 L208.58,119.98 L208.74,120.80 L208.91,121.60 L209.08,122.38 L209.25,123.15 L209.41,123.90 L209.58,124.64 L209.75,125.36 L209.92,126.07 L210.08,126.76 L210.25,127.44 L210.42,128.11 L210.59,128.76 L210.75,129.41 L210.92,130.03 L211.09,130.65 L211.26,131.26 L211.42,131.86 L211.59,132.45 L211.76,133.03 L211.93,133.60 L212.09,134.17 L212.26,134.73 L212.43,135.29 L212.60,135.85 L212.76,136.40 L212.93,136.95 L213.10,137.50" stroke="#000" stroke-width="2.6" fill="none" stroke-linejoin="round" stroke-linecap="round"/>
</g>
<g clip-path="url(#cL2)">
<path d="M41.0,160.0 L41.2,163.0 L41.4,165.6 L41.6,167.8 L41.8,169.7 L42.0,171.2 L42.2,172.3 L42.4,173.3 L42.6,174.0 L42.8,174.4 L43.0,174.7 L43.2,174.9 L43.4,175.0 L43.6,174.8 L43.8,173.5 L44.0,171.2 L44.2,168.0 L44.4,164.2 L44.6,160.0 L44.8,155.6 L45.0,151.3 L45.2,147.2 L45.4,143.7 L45.6,140.9 L45.8,139.0 L46.0,138.4 L46.2,139.0 L46.4,140.6 L46.6,143.0 L46.8,146.1 L47.0,149.5 L47.2,153.1 L47.4,156.7 L47.6,160.0 L47.8,162.8 L48.0,165.0 L48.2,166.8 L48.4,168.6 L48.6,170.4 L48.8,172.1 L49.0,173.8 L49.2,175.4 L49.4,176.8 L49.6,178.1 L49.8,179.2 L50.0,180.0 L50.2,180.6 L50.4,181.0 L50.6,180.9 L50.8,179.8 L51.0,177.8 L51.2,175.1 L51.4,171.8 L51.6,168.0 L51.8,163.9 L52.0,159.7 L52.2,155.4 L52.4,151.3 L52.6,147.6 L52.8,144.2 L53.0,141.5 L53.2,139.5 L53.4,138.5 L53.6,138.4 L53.8,139.1 L54.0,140.2 L54.2,141.9 L54.4,144.1 L54.6,146.6 L54.8,149.4 L55.0,152.5 L55.2,155.8 L55.4,159.2 L55.6,162.7 L55.8,166.1 L56.0,169.5 L56.2,172.8 L56.4,175.9 L56.6,178.7 L56.8,181.3 L57.0,183.4 L57.2,185.1 L57.4,186.3 L57.6,186.9 L57.8,186.8 L58.0,185.0 L58.2,182.1 L58.4,178.4 L58.6,174.7 L58.8,171.3 L59.0,168.9 L59.2,168.0 L59.4,168.7 L59.6,170.4 L59.8,172.5 L60.0,174.5 L60.2,175.8 L60.4,175.9 L60.6,174.8 L60.8,172.9 L61.0,170.3 L61.2,167.1 L61.4,163.6 L61.6,159.9 L61.8,156.1 L62.0,152.4 L62.2,149.1 L62.4,146.2 L62.6,143.9 L62.8,142.4 L63.0,141.9 L63.2,142.5 L63.4,144.3 L63.6,147.1 L63.8,150.8 L64.0,155.1 L64.2,159.9 L64.4,165.1 L64.6,170.4 L64.8,175.8 L65.0,180.9 L65.2,185.7 L65.4,190.1 L65.6,193.7 L65.8,196.5 L66.0,198.4 L66.2,199.0 L66.4,197.5 L66.6,193.7 L66.8,188.2 L67.0,182.0 L67.2,175.8 L67.4,170.3 L67.6,166.5 L67.8,165.0 L68.0,166.0 L68.2,168.6 L68.4,172.1 L68.6,175.9 L68.8,179.4 L69.0,182.0 L69.2,183.0 L69.4,181.5 L69.6,177.8 L69.8,172.8 L70.0,167.6 L70.2,163.1 L70.4,160.4 L70.6,160.4 L70.8,163.5 L71.0,168.6 L71.2,174.5 L71.4,180.1 L71.6,184.3 L71.8,186.0 L72.0,184.6 L72.2,181.0 L72.4,175.7 L72.6,169.6 L72.8,163.3 L73.0,157.5 L73.2,153.0 L73.4,150.4 L73.6,150.3 L73.8,152.3 L74.0,155.8 L74.2,160.3 L74.4,165.2 L74.6,170.0 L74.8,174.1 L75.0,176.9 L75.2,178.0 L75.4,177.3 L75.6,175.3 L75.8,172.4 L76.0,168.7 L76.2,164.6 L76.4,160.2 L76.6,155.9 L76.8,152.0 L77.0,148.7 L77.2,146.2 L77.4,144.8 L77.6,144.8 L77.8,146.6 L78.0,149.9 L78.2,154.3 L78.4,159.7 L78.6,165.8 L78.8,172.2 L79.0,178.7 L79.2,184.9 L79.4,190.7 L79.6,195.6 L79.8,199.5 L80.0,202.1 L80.2,203.0 L80.4,201.5 L80.6,197.6 L80.8,191.9 L81.0,185.1 L81.2,177.9 L81.4,171.1 L81.6,165.4 L81.8,161.5 L82.0,160.0 L82.2,160.6 L82.4,162.1 L82.6,164.3 L82.8,166.9 L83.0,169.7 L83.2,172.5 L83.4,174.9 L83.6,176.8 L83.8,177.9 L84.0,177.9 L84.2,176.9 L84.4,175.0 L84.6,172.5 L84.8,169.5 L85.0,166.2 L85.2,162.7 L85.4,159.2 L85.6,155.9 L85.8,152.9 L86.0,150.4 L86.2,148.5 L86.4,147.5 L86.6,147.5 L86.8,148.2 L87.0,149.5 L87.2,151.3 L87.4,153.5 L87.6,155.9 L87.8,158.3 L88.0,160.7 L88.2,163.0 L88.4,165.0 L88.6,166.6 L88.8,167.6 L89.0,168.0 L89.2,167.3 L89.4,165.4 L89.6,162.7 L89.8,159.4 L90.0,155.7 L90.2,152.1 L90.4,148.7 L90.6,146.0 L90.8,144.1 L91.0,143.4 L91.2,144.2 L91.4,146.3 L91.6,149.5 L91.8,153.5 L92.0,158.1 L92.2,163.0 L92.4,167.9 L92.6,172.7 L92.8,177.0 L93.0,180.7 L93.2,183.3 L93.4,184.8 L93.6,184.8 L93.8,183.3 L94.0,180.6 L94.2,177.0 L94.4,172.6 L94.6,167.8 L94.8,162.8 L95.0,157.9 L95.2,153.3 L95.4,149.2 L95.6,146.0 L95.8,143.9 L96.0,143.1 L96.2,143.6 L96.4,145.0 L96.6,147.0 L96.8,149.6 L97.0,152.6 L97.2,155.8 L97.4,159.0 L97.6,162.1 L97.8,164.9 L98.0,167.2 L98.2,168.9 L98.4,169.9 L98.6,169.8 L98.8,168.4 L99.0,166.0 L99.2,163.3 L99.4,160.7 L99.6,158.8 L99.8,158.0 L100.0,159.1 L100.2,162.1 L100.4,166.3 L100.6,171.2 L100.8,176.3 L101.0,180.9 L101.2,184.6 L101.4,186.7 L101.6,186.6 L101.8,184.0 L102.0,179.7 L102.2,174.7 L102.4,170.0 L102.6,166.4 L102.8,165.0 L103.0,165.6 L103.2,167.0 L103.4,169.0 L103.6,171.0 L103.8,172.8 L104.0,173.8 L104.2,173.9 L104.4,173.2 L104.6,171.9 L104.8,170.1 L105.0,167.9 L105.2,165.5 L105.4,162.8 L105.6,160.1 L105.8,157.4 L106.0,154.8 L106.2,152.4 L106.4,150.4 L106.6,148.9 L106.8,147.9 L107.0,147.5 L107.2,148.0 L107.4,149.3 L107.6,151.3 L107.8,153.7 L108.0,156.2 L108.2,158.8 L108.4,161.2 L108.6,163.2 L108.8,164.5 L109.0,165.0 L109.2,163.6 L109.4,160.4 L109.6,156.6 L109.8,153.4 L110.0,152.0 L110.2,153.4 L110.4,157.0 L110.6,162.4 L110.8,168.7 L111.0,175.3 L111.2,181.6 L111.4,187.0 L111.6,190.6 L111.8,192.0 L112.0,190.5 L112.2,187.1 L112.4,182.9 L112.6,179.5 L112.8,178.0 L113.0,178.4 L113.2,179.4 L113.4,180.6 L113.6,181.6 L113.8,182.0 L114.0,180.1 L114.2,175.2 L114.4,168.4 L114.6,161.1 L114.8,154.3 L115.0,149.4 L115.2,147.5 L115.4,148.1 L115.6,149.8 L115.8,152.5 L116.0,156.0 L116.2,160.0 L116.4,164.5 L116.6,169.3 L116.8,174.2 L117.0,178.9 L117.2,183.4 L117.4,187.5 L117.6,191.0 L117.8,193.6 L118.0,195.4 L118.2,196.0 L118.4,195.5 L118.6,193.9 L118.8,191.5 L119.0,188.5 L119.2,184.9 L119.4,180.9 L119.6,176.6 L119.8,172.4 L120.0,168.1 L120.2,164.1 L120.4,160.5 L120.6,157.5 L120.8,155.1 L121.0,153.5 L121.2,153.0 L121.4,153.3 L121.6,154.2 L121.8,155.5 L122.0,157.1 L122.2,159.0 L122.4,161.0 L122.6,163.0 L122.8,164.9 L123.0,166.5 L123.2,167.8 L123.4,168.7 L123.6,169.0 L123.8,168.3 L124.0,166.7 L124.2,164.5 L124.4,162.3 L124.6,160.7 L124.8,160.0 L125.0,160.4 L125.2,161.4 L125.4,162.8 L125.6,164.2 L125.8,165.6 L126.0,166.6 L126.2,167.0 L126.4,166.6 L126.6,165.5 L126.8,163.9 L127.0,162.0 L127.2,160.0 L127.4,158.1 L127.6,156.5 L127.8,155.4 L128.0,155.0 L128.2,155.3 L128.4,156.1 L128.6,157.2 L128.8,158.4 L129.0,159.3 L129.2,159.9 L129.4,159.9 L129.6,159.0 L129.8,157.3 L130.0,155.1 L130.2,152.4 L130.4,149.5 L130.6,146.5 L130.8,143.6 L131.0,141.0 L131.2,138.7 L131.4,137.1 L131.6,136.2 L131.8,136.2 L132.0,137.5 L132.2,139.9 L132.4,143.2 L132.6,147.1 L132.8,151.5 L133.0,156.0 L133.2,160.6 L133.4,165.0 L133.6,168.9 L133.8,172.1 L134.0,174.5 L134.2,175.8 L134.4,175.9 L134.6,175.1 L134.8,173.6 L135.0,171.7 L135.2,169.4 L135.4,167.0 L135.6,164.6 L135.8,162.3 L136.0,160.4 L136.2,158.9 L136.4,158.1 L136.6,158.3 L136.8,159.9 L137.0,162.5 L137.2,165.1 L137.4,166.7 L137.6,166.9 L137.8,166.2 L138.0,165.4 L138.2,165.0 L138.4,165.3 L138.6,166.2 L138.8,167.5 L139.0,168.8 L139.2,170.2 L139.4,171.3 L139.6,171.9 L139.8,171.8 L140.0,170.5 L140.2,168.1 L140.4,165.0 L140.6,161.2 L140.8,157.1 L141.0,153.0 L141.2,149.1 L141.4,145.6 L141.6,142.8 L141.8,140.9 L142.0,140.2 L142.2,140.6 L142.4,141.6 L142.6,143.2 L142.8,145.3 L143.0,147.8 L143.2,150.7 L143.4,153.9 L143.6,157.4 L143.8,161.0 L144.0,164.7 L144.2,168.4 L144.4,172.0 L144.6,175.6 L144.8,178.9 L145.0,182.0 L145.2,184.7 L145.4,187.1 L145.6,188.9 L145.8,190.2 L146.0,190.9 L146.2,190.9 L146.4,190.3 L146.6,189.0 L146.8,187.3 L147.0,185.1 L147.2,182.5 L147.4,179.6 L147.6,176.5 L147.8,173.2 L148.0,169.8 L148.2,166.4 L148.4,163.0 L148.6,159.7 L148.8,156.6 L149.0,153.7 L149.2,151.1 L149.4,148.9 L149.6,147.2 L149.8,146.0 L150.0,145.3 L150.2,145.3 L150.4,145.6 L150.6,146.3 L150.8,147.3 L151.0,148.5 L151.2,149.9 L151.4,151.4 L151.6,153.0 L151.8,154.7 L152.0,156.5 L152.2,158.2 L152.4,159.8 L152.6,161.4 L152.8,162.8 L153.0,163.9 L153.2,164.9 L153.4,165.6 L153.6,166.0 L153.8,165.9 L154.0,165.1 L154.2,163.6 L154.4,161.6 L154.6,159.2 L154.8,156.5 L155.0,153.7 L155.2,151.0 L155.4,148.4 L155.6,146.2 L155.8,144.4 L156.0,143.2 L156.2,142.8 L156.4,143.0 L156.6,143.6 L156.8,144.6 L157.0,145.9 L157.2,147.4 L157.4,149.1 L157.6,151.0 L157.8,153.1 L158.0,155.2 L158.2,157.4 L158.4,159.6 L158.6,161.7 L158.8,163.8 L159.0,165.7 L159.2,167.4 L159.4,169.0 L159.6,170.2 L159.8,171.2 L160.0,171.8 L160.2,172.0 L160.4,170.5 L160.6,166.4 L160.8,160.7 L161.0,154.2 L161.2,147.6 L161.4,141.9 L161.6,137.9 L161.8,136.3 L162.0,137.6 L162.2,141.1 L162.4,146.4 L162.6,152.9 L162.8,160.3 L163.0,168.0 L163.2,175.7 L163.4,182.8 L163.6,188.8 L163.8,193.4 L164.0,196.0 L164.2,197.4 L164.4,198.8 L164.6,200.1 L164.8,201.4 L165.0,202.5 L165.2,203.6 L165.4,204.6 L165.6,205.5 L165.8,206.3 L166.0,207.0 L166.2,207.6 L166.4,208.1 L166.6,208.5 L166.8,208.8 L167.0,208.9 L167.2,209.0 L167.4,208.9 L167.6,208.8 L167.8,208.5 L168.0,208.2 L168.2,207.7 L168.4,207.1 L168.6,206.5 L168.8,205.8 L169.0,205.0 L169.2,204.1 L169.4,203.1 L169.6,202.1 L169.8,201.0 L170.0,199.8 L170.2,198.6 L170.4,197.3 L170.6,196.0 L170.8,193.9 L171.0,190.3 L171.2,185.7 L171.4,180.2 L171.6,174.1 L171.8,167.7 L172.0,161.2 L172.2,155.1 L172.4,149.4 L172.6,144.5 L172.8,140.7 L173.0,138.2 L173.2,137.3 L173.4,137.9 L173.6,139.5 L173.8,141.9 L174.0,145.0 L174.2,148.4 L174.4,152.0 L174.6,155.6 L174.8,158.9 L175.0,161.6 L175.2,163.7 L175.4,164.8 L175.6,164.6 L175.8,162.2 L176.0,158.5 L176.2,154.8 L176.4,152.4 L176.6,152.4 L176.8,155.5 L177.0,160.6 L177.2,166.5 L177.4,172.1 L177.6,176.3 L177.8,178.0 L178.0,177.1 L178.2,174.5 L178.4,170.7 L178.6,166.0 L178.8,160.7 L179.0,155.2 L179.2,150.0 L179.4,145.2 L179.6,141.4 L179.8,138.8 L180.0,137.9 L180.2,139.0 L180.4,142.2 L180.6,146.9 L180.8,152.7 L181.0,159.3 L181.2,166.2 L181.4,173.0 L181.6,179.2 L181.8,184.6 L182.0,188.5 L182.2,190.7 L182.4,190.8 L182.6,189.4 L182.8,186.7 L183.0,183.0 L183.2,178.6 L183.4,173.7 L183.6,168.5 L183.8,163.2 L184.0,158.1 L184.2,153.4 L184.4,149.3 L184.6,146.2 L184.8,144.1 L185.0,143.3 L185.2,143.5 L185.4,143.8 L185.6,144.4 L185.8,145.2 L186.0,146.2 L186.2,147.3 L186.4,148.6 L186.6,150.0 L186.8,151.5 L187.0,153.1 L187.2,154.7 L187.4,156.4 L187.6,158.1 L187.8,159.8 L188.0,161.4 L188.2,163.0 L188.4,164.6 L188.6,166.0 L188.8,167.4 L189.0,168.6 L189.2,169.6 L189.4,170.5 L189.6,171.2 L189.8,171.7 L190.0,172.0 L190.2,171.9 L190.4,171.4 L190.6,170.3 L190.8,168.9 L191.0,167.1 L191.2,165.0 L191.4,162.7 L191.6,160.2 L191.8,157.7 L192.0,155.1 L192.2,152.6 L192.4,150.3 L192.6,148.0 L192.8,146.1 L193.0,144.5 L193.2,143.2 L193.4,142.4 L193.6,142.1 L193.8,142.2 L194.0,142.5 L194.2,143.0 L194.4,143.7 L194.6,144.4 L194.8,145.3 L195.0,146.4 L195.2,147.5 L195.4,148.6 L195.6,149.9 L195.8,151.1 L196.0,152.4 L196.2,153.6 L196.4,154.9 L196.6,156.1 L196.8,157.2 L197.0,158.3 L197.2,159.2 L197.4,160.1 L197.6,160.8 L197.8,161.4 L198.0,161.8 L198.2,162.0 L198.4,161.8 L198.6,160.5 L198.8,158.2 L199.0,155.2 L199.2,151.8 L199.4,148.4 L199.6,145.1 L199.8,142.4 L200.0,140.6 L200.2,139.9 L200.4,140.3 L200.6,141.6 L200.8,143.5 L201.0,146.1 L201.2,149.2 L201.4,152.7 L201.6,156.7 L201.8,161.0 L202.0,165.5 L202.2,170.1 L202.4,174.8 L202.6,179.5 L202.8,184.1 L203.0,188.5 L203.2,192.7 L203.4,196.5 L203.6,199.8 L203.8,202.7 L204.0,205.0 L204.2,207.0 L204.4,208.9 L204.6,210.9 L204.8,212.8 L205.0,214.8 L205.2,216.7 L205.4,218.5 L205.6,220.3 L205.8,222.1 L206.0,223.8 L206.2,225.4 L206.4,226.9 L206.6,228.3 L206.8,229.7 L207.0,230.9 L207.2,232.0 L207.4,233.0 L207.6,233.9 L207.8,234.6 L208.0,235.2 L208.2,235.6 L208.4,235.9 L208.6,236.0 L208.8,235.9 L209.0,235.7 L209.2,235.3 L209.4,234.7 L209.6,234.1 L209.8,233.2 L210.0,232.3 L210.2,231.2 L210.4,230.1 L210.6,228.8 L210.8,227.4 L211.0,226.0 L211.2,224.4 L211.4,222.8 L211.6,221.1 L211.8,219.4 L212.0,217.6 L212.2,215.7 L212.4,213.8 L212.6,211.9 L212.8,210.0 L213.0,208.0 L213.2,206.0 L213.4,203.9 L213.6,201.1 L213.8,197.7 L214.0,193.7 L214.2,189.3 L214.4,184.5 L214.6,179.6 L214.8,174.6 L215.0,169.7 L215.2,165.0 L215.4,160.6 L215.6,156.6 L215.8,153.2 L216.0,150.4 L216.2,148.5 L216.4,147.4 L216.6,147.5 L216.8,148.8 L217.0,151.1 L217.2,153.9 L217.4,156.8 L217.6,159.4 L217.8,161.3 L218.0,162.0 L218.2,161.8 L218.4,161.4 L218.6,160.8 L218.8,159.9 L219.0,158.8 L219.2,157.6 L219.4,156.4 L219.6,155.0 L219.8,153.7 L220.0,152.3 L220.2,151.0 L220.4,149.7 L220.6,148.6 L220.8,147.7 L221.0,146.9 L221.2,146.3 L221.4,146.0 L221.6,146.0 L221.8,146.1 L222.0,146.3 L222.2,146.7 L222.4,147.1 L222.6,147.6 L222.8,148.2 L223.0,148.8 L223.2,149.6 L223.4,150.3 L223.6,151.2 L223.8,152.1 L224.0,153.0 L224.2,154.0 L224.4,154.9 L224.6,156.0 L224.8,157.0 L225.0,158.0 L225.2,159.0 L225.4,160.0 L225.6,161.1 L225.8,162.0 L226.0,163.0 L226.2,163.9 L226.4,164.8 L226.6,165.7 L226.8,166.4 L227.0,167.2 L227.2,167.8 L227.4,168.4 L227.6,168.9 L227.8,169.3 L228.0,169.7 L228.2,169.9 L228.4,170.0 L228.6,170.0 L228.8,169.9 L229.0,169.8 L229.2,169.6 L229.4,169.4 L229.6,169.1 L229.8,168.8 L230.0,168.4 L230.2,168.1 L230.4,167.7 L230.6,167.3 L230.8,166.9 L231.0,166.6 L231.2,166.2 L231.4,165.9 L231.6,165.6 L231.8,165.4 L232.0,165.2 L232.2,165.1 L232.4,165.0 L232.6,165.0 L232.8,165.3 L233.0,165.8 L233.2,166.4 L233.4,166.9 L233.6,167.5 L233.8,167.9 L234.0,168.0 L234.2,167.8 L234.4,167.2 L234.6,166.5 L234.8,165.8 L235.0,165.2 L235.2,165.0 L235.4,165.5 L235.6,166.8 L235.8,168.6 L236.0,170.8 L236.2,173.2 L236.4,175.4 L236.6,177.2 L236.8,178.5 L237.0,179.0 L237.2,178.0 L237.4,175.4 L237.6,171.5 L237.8,166.8 L238.0,161.5 L238.2,156.2 L238.4,151.1 L238.6,146.8 L238.8,143.5 L239.0,141.6 L239.2,141.6 L239.4,143.2 L239.6,146.2 L239.8,150.0 L240.0,154.4 L240.2,159.0 L240.4,163.4 L240.6,167.2 L240.8,170.1 L241.0,171.8 L241.2,172.0 L241.4,171.6 L241.6,170.9 L241.8,170.0 L242.0,169.0 L242.2,167.8 L242.4,166.5 L242.6,165.2 L242.8,164.0 L243.0,163.0 L243.2,162.1 L243.4,161.4 L243.6,161.0 L243.8,161.0 L244.0,161.2 L244.2,161.6 L244.4,162.2 L244.6,162.9 L244.8,163.7 L245.0,164.7 L245.2,165.9 L245.4,167.1 L245.6,168.4 L245.8,169.8 L246.0,171.2 L246.2,172.7 L246.4,174.3 L246.6,175.8 L246.8,177.4 L247.0,179.0 L247.2,180.5 L247.4,182.0 L247.6,183.5 L247.8,184.9 L248.0,186.3 L248.2,187.6 L248.4,188.7 L248.6,189.8 L248.8,190.7 L249.0,191.5 L249.2,192.1 L249.4,192.6 L249.6,192.9 L249.8,193.0 L250.0,191.9 L250.2,188.8 L250.4,184.2 L250.6,178.5 L250.8,172.2 L251.0,165.6 L251.2,159.3 L251.4,153.6 L251.6,149.0 L251.8,145.9 L252.0,144.8 L252.2,145.5 L252.4,147.5 L252.6,150.1 L252.8,153.2 L253.0,156.1 L253.2,158.4 L253.4,159.8 L253.6,159.7 L253.8,157.7 L254.0,154.2 L254.2,149.9 L254.4,145.4 L254.6,141.4 L254.8,138.6 L255.0,137.5 L255.2,138.7 L255.4,142.0 L255.6,146.9 L255.8,153.0 L256.0,159.7 L256.2,166.7 L256.4,173.5 L256.6,179.6 L256.8,184.5 L257.0,187.8 L257.2,189.0 L257.4,187.8 L257.6,184.7 L257.8,180.0 L258.0,174.3 L258.2,168.1 L258.4,162.0 L258.6,156.3 L258.8,151.6 L259.0,148.4 L259.2,147.3 L259.4,147.7 L259.6,149.1 L259.8,151.2 L260.0,153.8 L260.2,157.0 L260.4,160.5 L260.6,164.3 L260.8,168.1 L261.0,171.9 L261.2,175.5 L261.4,178.9 L261.6,181.8 L261.8,184.2 L262.0,186.0 L262.2,186.9 L262.4,186.8 L262.6,185.0 L262.8,181.7 L263.0,177.3 L263.2,172.1 L263.4,166.4 L263.6,160.5 L263.8,154.8 L264.0,149.6 L264.2,145.2 L264.4,141.9 L264.6,140.1 L264.8,140.1 L265.0,141.3 L265.2,143.5 L265.4,146.6 L265.6,150.3 L265.8,154.4 L266.0,158.8 L266.2,163.3 L266.4,167.6 L266.6,171.5 L266.8,174.9 L267.0,177.6 L267.2,179.4 L267.4,180.0 L267.6,178.8 L267.8,175.6 L268.0,170.8 L268.2,165.1 L268.4,158.8 L268.6,152.5 L268.8,146.8 L269.0,142.0 L269.2,138.8 L269.4,137.6 L269.6,139.1 L269.8,143.0 L270.0,148.5 L270.2,154.8 L270.4,161.1 L270.6,166.6 L270.8,170.5 L271.0,172.0 L271.2,170.9 L271.4,167.8 L271.6,163.6 L271.8,158.7 L272.0,153.8 L272.2,149.5 L272.4,146.5 L272.6,145.3 L272.8,147.9 L273.0,154.6 L273.2,163.7 L273.4,173.6 L273.6,182.7 L273.8,189.4 L274.0,192.0 L274.2,191.1 L274.4,188.8 L274.6,185.1 L274.8,180.4 L275.0,175.0 L275.2,169.2 L275.4,163.1 L275.6,157.1 L275.8,151.5 L276.0,146.4 L276.2,142.2 L276.4,139.2 L276.6,137.5 L276.8,137.5 L277.0,139.0 L277.2,141.6 L277.4,145.3 L277.6,149.5 L277.8,154.2 L278.0,159.1 L278.2,163.8 L278.4,168.0 L278.6,171.7 L278.8,174.3 L279.0,175.8 L279.2,175.9 L279.4,175.4 L279.6,174.3 L279.8,172.9 L280.0,171.0 L280.2,168.9 L280.4,166.5 L280.6,163.8 L280.8,161.1 L281.0,158.2 L281.2,155.3 L281.4,152.5 L281.6,149.7 L281.8,147.1 L282.0,144.7 L282.2,142.5 L282.4,140.7 L282.6,139.2 L282.8,138.2 L283.0,137.6 L283.2,137.8 L283.4,139.7 L283.6,143.0 L283.8,147.3 L284.0,152.2 L284.2,157.4 L284.4,162.3 L284.6,166.6 L284.8,169.9 L285.0,171.8 L285.2,171.9 L285.4,171.0 L285.6,169.3 L285.8,167.0 L286.0,164.3 L286.2,161.4 L286.4,158.4 L286.6,155.5 L286.8,152.8 L287.0,150.5 L287.2,148.9 L287.4,147.9 L287.6,148.4 L287.8,152.3 L288.0,159.0 L288.2,167.4 L288.4,176.4 L288.6,184.8 L288.8,191.6 L289.0,195.5 L289.2,195.7 L289.4,193.8 L289.6,190.1 L289.8,185.2 L290.0,179.3 L290.2,172.8 L290.4,166.1 L290.6,159.4 L290.8,153.2 L291.0,147.7 L291.2,143.4 L291.4,140.6 L291.6,139.6 L291.8,140.0 L292.0,141.4 L292.2,143.4 L292.4,146.0 L292.6,148.9 L292.8,152.1 L293.0,155.4 L293.2,158.6 L293.4,161.6 L293.6,164.2 L293.8,166.2 L294.0,167.5 L294.2,168.0 L294.4,167.6 L294.6,166.6 L294.8,165.4 L295.0,164.4 L295.2,164.0 L295.4,164.8 L295.6,166.8 L295.8,169.2 L296.0,171.2 L296.2,172.0 L296.4,171.2 L296.6,169.2 L296.8,166.3 L297.0,162.8 L297.2,159.2 L297.4,155.7 L297.6,152.8 L297.8,150.8 L298.0,150.0 L298.2,150.6 L298.4,152.3 L298.6,154.9 L298.8,158.1 L299.0,161.9 L299.2,165.9 L299.4,170.1 L299.6,174.1 L299.8,177.9 L300.0,181.1 L300.2,183.7 L300.4,185.4 L300.6,186.0 L300.8,185.3 L301.0,183.2 L301.2,180.1 L301.4,176.2 L301.6,171.7 L301.8,167.0 L302.0,162.3 L302.2,157.9 L302.4,154.0 L302.6,150.8 L302.8,148.8 L303.0,148.0 L303.2,148.9 L303.4,151.2 L303.6,154.9 L303.8,159.5 L304.0,164.9 L304.2,170.8 L304.4,177.0 L304.6,183.2 L304.8,189.1 L305.0,194.5 L305.2,199.2 L305.4,202.8 L305.6,205.2 L305.8,206.0 L306.0,205.1 L306.2,202.5 L306.4,198.4 L306.6,193.3 L306.8,187.3 L307.0,180.8 L307.2,174.0 L307.4,167.2 L307.6,160.7 L307.8,154.7 L308.0,149.6 L308.2,145.5 L308.4,142.9 L308.6,142.0 L308.8,142.4 L309.0,143.4 L309.2,145.1 L309.4,147.3 L309.6,149.9 L309.8,153.0 L310.0,156.3 L310.2,159.9 L310.4,163.7 L310.6,167.5 L310.8,171.4 L311.0,175.2 L311.2,178.9 L311.4,182.4 L311.6,185.6 L311.8,188.5 L312.0,190.9 L312.2,192.8 L312.4,194.2 L312.6,194.9 L312.8,194.9 L313.0,194.5 L313.2,193.6 L313.4,192.3 L313.6,190.7 L313.8,188.7 L314.0,186.6 L314.2,184.2 L314.4,181.7 L314.6,179.1 L314.8,176.4 L315.0,173.6 L315.2,170.9 L315.4,168.3 L315.6,165.8 L315.8,163.4 L316.0,161.2 L316.2,159.3 L316.4,157.7 L316.6,156.4 L316.8,155.5 L317.0,155.1 L317.2,155.1 L317.4,155.5 L317.6,156.4 L317.8,157.6 L318.0,159.1 L318.2,160.8 L318.4,162.6 L318.6,164.5 L318.8,166.4 L319.0,168.2 L319.2,169.9 L319.4,171.4 L319.6,172.6 L319.8,173.5 L320.0,173.9 L320.2,174.0 L320.4,173.6 L320.6,173.1 L320.8,172.3 L321.0,171.4 L321.2,170.6 L321.4,169.7 L321.6,168.9 L321.8,168.4 L322.0,168.0 L322.2,168.1 L322.4,168.6 L322.6,169.4 L322.8,170.4 L323.0,171.6 L323.2,172.6 L323.4,173.4 L323.6,173.9 L323.8,173.9 L324.0,173.4 L324.2,172.3 L324.4,170.8 L324.6,168.9 L324.8,166.7 L325.0,164.3 L325.2,161.7 L325.4,159.1 L325.6,156.4 L325.8,153.8 L326.0,151.3 L326.2,149.0 L326.4,146.9 L326.6,145.2 L326.8,143.9 L327.0,143.1 L327.2,142.8 L327.4,143.2 L327.6,144.5 L327.8,146.3 L328.0,148.7 L328.2,151.4 L328.4,154.4 L328.6,157.4 L328.8,160.4 L329.0,163.1 L329.2,165.5 L329.4,167.3 L329.6,168.6 L329.8,169.0 L330.0,168.8 L330.2,168.3 L330.4,167.4 L330.6,166.4 L330.8,165.2 L331.0,164.0 L331.2,162.8 L331.4,161.6 L331.6,160.6 L331.8,159.7 L332.0,159.2 L332.2,159.0 L332.4,159.1 L332.6,159.5 L332.8,159.9 L333.0,160.5 L333.2,161.1 L333.4,161.5 L333.6,161.9 L333.8,162.0 L334.0,161.5 L334.2,160.3 L334.4,158.5 L334.6,156.2 L334.8,153.8 L335.0,151.4 L335.2,149.1 L335.4,147.3 L335.6,146.1 L335.8,145.6 L336.0,146.0 L336.2,147.1 L336.4,148.8 L336.6,151.1 L336.8,153.8 L337.0,156.9 L337.2,160.1 L337.4,163.6 L337.6,167.0 L337.8,170.5 L338.0,173.7 L338.2,176.8 L338.4,179.5 L338.6,181.8 L338.8,183.5 L339.0,184.6 L339.2,185.0 L339.4,184.5 L339.6,183.1 L339.8,181.0 L340.0,178.2 L340.2,175.0 L340.4,171.4 L340.6,167.5 L340.8,163.6 L341.0,159.7 L341.2,155.9 L341.4,152.5 L341.6,149.4 L341.8,147.0 L342.0,145.2 L342.2,144.3 L342.4,144.2 L342.6,144.4 L342.8,145.0 L343.0,145.7 L343.2,146.8 L343.4,148.2 L343.6,149.8 L343.8,151.7 L344.0,154.0 L344.2,156.5 L344.4,159.4 L344.6,162.6 L344.8,166.1" stroke="#555" stroke-width="0.9" fill="none" stroke-dasharray="3.2 1.5"/>
<line x1="41.00" x2="342.20" y1="167.32" y2="167.32" stroke="#000" stroke-width="1.1" fill="none" stroke-dasharray="3.3 1.6"/>
<line x1="41.00" x2="342.20" y1="179.35" y2="179.35" stroke="#f00" stroke-width="1.0"/>
<path d="M162.6,179.4 L162.8,180.1 L163.0,180.8 L163.2,181.5 L163.5,182.1 L163.7,182.7 L163.9,183.2 L164.1,183.7 L164.3,184.2 L164.5,184.6 L164.7,185.0 L164.9,185.4 L165.2,185.7 L165.4,186.0 L165.6,186.3 L165.8,186.5 L166.0,186.7 L166.2,186.8 L166.4,186.9 L166.6,187.0 L166.9,187.0 L167.1,187.0 L167.3,186.9 L167.5,186.8 L167.7,186.7 L167.9,186.5 L168.1,186.3 L168.3,186.0 L168.6,185.7 L168.8,185.3 L169.0,184.9 L169.2,184.5 L169.4,184.0 L169.6,183.5 L169.8,182.9 L170.0,182.3 L170.3,181.6 L170.5,180.9 L170.7,180.1 L170.9,179.4" stroke="#000" stroke-width="2.3" fill="none" stroke-linejoin="round" stroke-linecap="round"/>
<path d="M202.8,179.4 L203.1,182.4 L203.4,185.2 L203.6,187.9 L203.9,190.5 L204.2,192.8 L204.5,195.0 L204.8,197.1 L205.1,199.0 L205.3,200.7 L205.6,202.2 L205.9,203.6 L206.2,204.8 L206.5,205.8 L206.7,206.7 L207.0,207.4 L207.3,208.0 L207.6,208.3 L207.9,208.5 L208.2,208.6 L208.4,208.5 L208.7,208.3 L209.0,207.9 L209.3,207.3 L209.6,206.7 L209.9,205.8 L210.1,204.9 L210.4,203.8 L210.7,202.5 L211.0,201.1 L211.3,199.6 L211.5,197.9 L211.8,196.1 L212.1,194.1 L212.4,192.0 L212.7,189.8 L213.0,187.4 L213.2,184.9 L213.5,182.2 L213.8,179.4" stroke="#000" stroke-width="2.3" fill="none" stroke-linejoin="round" stroke-linecap="round"/>
</g>
<g clip-path="url(#cL3)">
<path d="M38.0,191.1 L38.2,191.9 L38.5,194.3 L38.8,198.2 L39.0,203.4 L39.2,209.8 L39.5,217.3 L39.8,225.5 L40.0,234.1 L40.2,243.0 L40.5,251.8 L40.8,260.2 L41.0,268.0 L41.2,274.9 L41.5,280.7 L41.8,285.2 L42.0,288.3 L42.2,289.8 L42.5,289.8 L42.8,288.8 L43.0,286.9 L43.2,284.1 L43.5,280.5 L43.8,276.1 L44.0,271.2 L44.2,265.8 L44.5,260.0 L44.8,254.0 L45.0,248.0 L45.2,242.0 L45.5,236.3 L45.8,231.0 L46.0,226.2 L46.2,222.1 L46.5,218.7 L46.8,216.1 L47.0,214.4 L47.2,213.7 L47.5,215.3 L47.8,222.7 L48.0,235.4 L48.2,251.9 L48.5,270.4 L48.8,288.9 L49.0,305.4 L49.2,318.0 L49.5,325.4 L49.8,326.5 L50.0,318.2 L50.2,300.6 L50.5,276.1 L50.8,248.3 L51.0,221.0 L51.2,198.2 L51.5,183.1 L51.8,177.8 L52.0,182.3 L52.2,195.4 L52.5,215.4 L52.8,239.9 L53.0,266.0 L53.2,290.5 L53.5,310.6 L53.8,323.7 L54.0,328.4 L54.2,319.7 L54.5,295.3 L54.8,261.0 L55.0,225.1 L55.2,196.3 L55.5,181.4 L55.8,183.0 L56.0,197.4 L56.2,221.9 L56.5,251.8 L56.8,282.0 L57.0,307.0 L57.2,322.3 L57.5,325.5 L57.8,322.4 L58.0,315.6 L58.2,305.6 L58.5,293.2 L58.8,279.4 L59.0,265.2 L59.2,251.7 L59.5,240.1 L59.8,231.2 L60.0,225.6 L60.2,224.0 L60.5,224.8 L60.8,227.2 L61.0,231.0 L61.2,236.1 L61.5,242.3 L61.8,249.4 L62.0,257.4 L62.2,265.7 L62.5,274.4 L62.8,283.0 L63.0,291.2 L63.2,299.0 L63.5,305.9 L63.8,311.9 L64.0,316.6 L64.2,320.1 L64.5,322.0 L64.8,322.5 L65.0,319.8 L65.2,313.5 L65.5,303.7 L65.8,291.2 L66.0,276.7 L66.2,260.9 L66.5,244.9 L66.8,229.6 L67.0,216.0 L67.2,204.7 L67.5,196.5 L67.8,191.9 L68.0,191.3 L68.2,198.0 L68.5,212.1 L68.8,231.9 L69.0,254.5 L69.2,276.9 L69.5,296.2 L69.8,309.7 L70.0,315.5 L70.2,315.0 L70.5,312.4 L70.8,307.9 L71.0,301.7 L71.2,294.1 L71.5,285.5 L71.8,276.2 L72.0,266.7 L72.2,257.5 L72.5,248.9 L72.8,241.4 L73.0,235.2 L73.2,230.7 L73.5,228.2 L73.8,227.7 L74.0,231.6 L74.2,240.3 L74.5,252.6 L74.8,266.7 L75.0,280.4 L75.2,291.9 L75.5,299.3 L75.8,301.7 L76.0,293.8 L76.2,273.5 L76.5,245.8 L76.8,217.1 L77.0,194.4 L77.2,183.0 L77.5,182.9 L77.8,185.6 L78.0,190.7 L78.2,197.7 L78.5,206.6 L78.8,216.9 L79.0,228.2 L79.2,240.3 L79.5,252.5 L79.8,264.5 L80.0,275.9 L80.2,286.1 L80.5,294.8 L80.8,301.7 L81.0,306.6 L81.2,309.2 L81.5,309.4 L81.8,306.9 L82.0,301.5 L82.2,293.6 L82.5,283.7 L82.8,272.2 L83.0,259.8 L83.2,247.2 L83.5,234.9 L83.8,223.8 L84.0,214.3 L84.2,207.0 L84.5,202.3 L84.8,200.5 L85.0,204.4 L85.2,218.3 L85.5,240.1 L85.8,266.8 L86.0,294.3 L86.2,318.7 L86.5,336.5 L86.8,345.1 L87.0,344.5 L87.2,338.7 L87.5,328.4 L87.8,314.4 L88.0,297.6 L88.2,279.1 L88.5,260.4 L88.8,242.6 L89.0,227.0 L89.2,214.7 L89.5,206.6 L89.8,203.2 L90.0,204.6 L90.2,210.6 L90.5,220.3 L90.8,232.8 L91.0,246.6 L91.2,260.2 L91.5,271.9 L91.8,280.5 L92.0,285.0 L92.2,284.2 L92.5,275.3 L92.8,260.2 L93.0,243.0 L93.2,228.2 L93.5,219.9 L93.8,219.3 L94.0,221.4 L94.2,225.4 L94.5,231.2 L94.8,238.5 L95.0,247.1 L95.2,256.7 L95.5,266.9 L95.8,277.3 L96.0,287.5 L96.2,297.2 L96.5,305.9 L96.8,313.3 L97.0,319.3 L97.2,323.4 L97.5,325.7 L97.8,325.1 L98.0,313.7 L98.2,291.9 L98.5,265.1 L98.8,239.7 L99.0,222.1 L99.2,216.4 L99.5,217.3 L99.8,219.8 L100.0,223.8 L100.2,229.2 L100.5,235.9 L100.8,243.5 L101.0,251.9 L101.2,260.8 L101.5,270.0 L101.8,279.1 L102.0,287.9 L102.2,296.1 L102.5,303.4 L102.8,309.6 L103.0,314.6 L103.2,318.1 L103.5,320.1 L103.8,320.1 L104.0,310.4 L104.2,290.2 L104.5,264.4 L104.8,239.3 L105.0,221.0 L105.2,213.8 L105.5,217.5 L105.8,229.0 L106.0,246.8 L106.2,268.6 L106.5,291.5 L106.8,312.5 L107.0,328.9 L107.2,338.6 L107.5,340.4 L107.8,336.5 L108.0,327.9 L108.2,315.3 L108.5,299.5 L108.8,281.4 L109.0,262.4 L109.2,243.5 L109.5,226.1 L109.8,211.3 L110.0,200.0 L110.2,193.0 L110.5,190.8 L110.8,200.3 L111.0,225.0 L111.2,258.6 L111.5,292.4 L111.8,317.9 L112.0,328.4 L112.2,325.2 L112.5,314.3 L112.8,297.0 L113.0,275.5 L113.2,252.5 L113.5,230.7 L113.8,212.8 L114.0,201.1 L114.2,197.0 L114.5,198.3 L114.8,202.1 L115.0,208.4 L115.2,216.9 L115.5,227.3 L115.8,239.3 L116.0,252.3 L116.2,265.9 L116.5,279.7 L116.8,293.1 L117.0,305.7 L117.2,316.9 L117.5,326.4 L117.8,333.8 L118.0,338.9 L118.2,341.5 L118.5,341.1 L118.8,335.0 L119.0,323.3 L119.2,306.9 L119.5,287.0 L119.8,265.1 L120.0,242.8 L120.2,221.8 L120.5,203.7 L120.8,189.8 L121.0,181.1 L121.2,178.3 L121.5,180.6 L121.8,186.9 L122.0,196.9 L122.2,210.1 L122.5,225.8 L122.8,243.2 L123.0,261.4 L123.2,279.5 L123.5,296.5 L123.8,311.5 L124.0,323.8 L124.2,332.8 L124.5,337.9 L124.8,339.1 L125.0,337.4 L125.2,333.7 L125.5,327.9 L125.8,320.2 L126.0,311.0 L126.2,300.4 L126.5,288.8 L126.8,276.5 L127.0,264.0 L127.2,251.5 L127.5,239.5 L127.8,228.4 L128.0,218.4 L128.2,209.9 L128.5,203.2 L128.8,198.3 L129.0,195.6 L129.2,195.5 L129.5,206.6 L129.8,230.4 L130.0,261.7 L130.2,293.8 L130.5,319.7 L130.8,333.9 L131.0,335.0 L131.2,331.1 L131.5,323.7 L131.8,313.1 L132.0,300.0 L132.2,284.9 L132.5,268.8 L132.8,252.4 L133.0,236.6 L133.2,222.3 L133.5,210.1 L133.8,200.8 L134.0,194.8 L134.2,192.4 L134.5,195.3 L134.8,205.3 L135.0,221.1 L135.2,240.7 L135.5,261.5 L135.8,280.7 L136.0,295.8 L136.2,304.8 L136.5,306.3 L136.8,296.8 L137.0,277.2 L137.2,252.5 L137.5,228.5 L137.8,211.1 L138.0,204.6 L138.2,205.4 L138.5,207.8 L138.8,211.9 L139.0,217.3 L139.2,224.1 L139.5,231.8 L139.8,240.4 L140.0,249.4 L140.2,258.7 L140.5,267.8 L140.8,276.6 L141.0,284.6 L141.2,291.7 L141.5,297.5 L141.8,302.0 L142.0,304.9 L142.2,306.2 L142.5,305.6 L142.8,302.3 L143.0,296.6 L143.2,288.7 L143.5,278.9 L143.8,267.7 L144.0,255.6 L144.2,243.3 L144.5,231.2 L144.8,219.9 L145.0,210.1 L145.2,202.0 L145.5,196.1 L145.8,192.8 L146.0,192.2 L146.2,199.3 L146.5,215.3 L146.8,237.6 L147.0,262.9 L147.2,287.2 L147.5,306.8 L147.8,318.7 L148.0,321.1 L148.2,315.1 L148.5,302.0 L148.8,283.6 L149.0,262.3 L149.2,240.7 L149.5,221.8 L149.8,207.9 L150.0,201.0 L150.2,201.0 L150.5,204.6 L150.8,211.2 L151.0,220.5 L151.2,231.9 L151.5,244.8 L151.8,258.2 L152.0,271.5 L152.2,283.9 L152.5,294.6 L152.8,303.0 L153.0,308.6 L153.2,311.0 L153.5,310.7 L153.8,308.8 L154.0,305.6 L154.2,301.0 L154.5,295.2 L154.8,288.3 L155.0,280.6 L155.2,272.1 L155.5,263.2 L155.8,254.1 L156.0,245.0 L156.2,236.1 L156.5,227.6 L156.8,219.9 L157.0,213.0 L157.2,207.2 L157.5,202.7 L157.8,199.4 L158.0,197.6 L158.2,197.4 L158.5,203.1 L158.8,215.8 L159.0,233.6 L159.2,254.3 L159.5,275.1 L159.8,293.2 L160.0,306.3 L160.2,312.6 L160.5,312.5 L160.8,309.9 L161.0,305.3 L161.2,298.7 L161.5,290.4 L161.8,280.6 L162.0,269.8 L162.2,258.2 L162.5,246.2 L162.8,234.3 L163.0,222.8 L163.2,212.1 L163.5,202.7 L163.8,194.7 L164.0,188.4 L164.2,184.2 L164.5,182.0 L164.8,183.2 L165.0,194.3 L165.2,214.7 L165.5,241.6 L165.8,271.3 L166.0,299.7 L166.2,322.9 L166.5,337.6 L166.8,341.9 L167.0,332.3 L167.2,309.5 L167.5,278.4 L167.8,246.2 L168.0,220.0 L168.2,205.9 L168.5,205.6 L168.8,212.9 L169.0,226.0 L169.2,243.4 L169.5,262.9 L169.8,282.0 L170.0,298.2 L170.2,309.7 L170.5,314.9 L170.8,314.8 L171.0,313.4 L171.2,310.8 L171.5,307.3 L171.8,302.9 L172.0,297.6 L172.2,291.8 L172.5,285.5 L172.8,279.0 L173.0,272.4 L173.2,265.9 L173.5,259.8 L173.8,254.2 L174.0,249.3 L174.2,245.2 L174.5,242.1 L174.8,240.1 L175.0,239.2 L175.2,240.9 L175.5,249.7 L175.8,264.3 L176.0,281.9 L176.2,299.3 L176.5,313.4 L176.8,321.4 L177.0,322.0 L177.2,313.9 L177.5,298.6 L177.8,279.6 L178.0,260.8 L178.2,246.2 L178.5,239.2 L178.8,238.9 L179.0,239.6 L179.2,241.0 L179.5,242.9 L179.8,245.3 L180.0,248.1 L180.2,251.3 L180.5,254.9 L180.8,258.6 L181.0,262.4 L181.2,266.2 L181.5,269.9 L181.8,273.4 L182.0,276.7 L182.2,279.6 L182.5,282.0 L182.8,283.9 L183.0,285.3 L183.2,286.1 L183.5,286.1 L183.8,283.9 L184.0,278.6 L184.2,270.7 L184.5,260.5 L184.8,248.8 L185.0,236.1 L185.2,223.2 L185.5,210.8 L185.8,199.8 L186.0,190.6 L186.2,183.9 L186.5,180.0 L186.8,179.3 L187.0,182.8 L187.2,190.8 L187.5,203.0 L187.8,218.6 L188.0,236.6 L188.2,256.2 L188.5,276.0 L188.8,295.1 L189.0,312.4 L189.2,326.7 L189.5,337.4 L189.8,343.8 L190.0,345.4 L190.2,340.0 L190.5,326.9 L190.8,307.9 L191.0,285.6 L191.2,263.2 L191.5,243.9 L191.8,230.2 L192.0,224.1 L192.2,227.2 L192.5,240.5 L192.8,260.2 L193.0,280.8 L193.2,296.4 L193.5,302.8 L193.8,301.9 L194.0,298.6 L194.2,293.2 L194.5,286.2 L194.8,278.1 L195.0,269.5 L195.2,261.0 L195.5,253.2 L195.8,246.9 L196.0,242.3 L196.2,239.9 L196.5,240.1 L196.8,244.1 L197.0,251.8 L197.2,262.2 L197.5,274.1 L197.8,286.1 L198.0,296.8 L198.2,305.0 L198.5,309.6 L198.8,310.3 L199.0,308.5 L199.2,304.5 L199.5,298.6 L199.8,291.0 L200.0,282.0 L200.2,272.1 L200.5,261.5 L200.8,250.8 L201.0,240.4 L201.2,230.7 L201.5,222.1 L201.8,215.0 L202.0,209.7 L202.2,206.3 L202.5,205.1 L202.8,208.0 L203.0,217.0 L203.2,230.9 L203.5,248.0 L203.8,266.0 L204.0,282.7 L204.2,296.0 L204.5,304.0 L204.8,305.9 L205.0,304.7 L205.2,301.9 L205.5,297.5 L205.8,291.9 L206.0,285.2 L206.2,277.8 L206.5,270.0 L206.8,262.1 L207.0,254.6 L207.2,247.7 L207.5,241.8 L207.8,237.2 L208.0,234.0 L208.2,232.5 L208.5,232.8 L208.8,235.8 L209.0,241.5 L209.2,249.3 L209.5,258.7 L209.8,268.9 L210.0,279.3 L210.2,289.1 L210.5,297.4 L210.8,303.8 L211.0,307.6 L211.2,308.7 L211.5,307.4 L211.8,304.0 L212.0,298.6 L212.2,291.5 L212.5,282.7 L212.8,272.7 L213.0,261.7 L213.2,250.1 L213.5,238.3 L213.8,226.6 L214.0,215.5 L214.2,205.3 L214.5,196.3 L214.8,188.8 L215.0,183.0 L215.2,179.2 L215.5,177.5 L215.8,180.3 L216.0,194.2 L216.2,217.7 L216.5,247.1 L216.8,278.0 L217.0,305.8 L217.2,326.3 L217.5,336.4 L217.8,336.5 L218.0,333.6 L218.2,328.3 L218.5,320.9 L218.8,311.9 L219.0,301.7 L219.2,291.0 L219.5,280.2 L219.8,270.1 L220.0,261.1 L220.2,253.8 L220.5,248.7 L220.8,245.9 L221.0,245.5 L221.2,246.2 L221.5,247.6 L221.8,249.7 L222.0,252.5 L222.2,255.8 L222.5,259.4 L222.8,263.2 L223.0,267.2 L223.2,271.0 L223.5,274.6 L223.8,277.9 L224.0,280.6 L224.2,282.8 L224.5,284.2 L224.8,284.9 L225.0,284.4 L225.2,281.5 L225.5,276.2 L225.8,269.4 L226.0,261.8 L226.2,254.5 L226.5,248.3 L226.8,244.0 L227.0,242.3 L227.2,242.6 L227.5,243.7 L227.8,245.7 L228.0,248.3 L228.2,251.5 L228.5,255.0 L228.8,258.8 L229.0,262.5 L229.2,266.1 L229.5,269.2 L229.8,271.8 L230.0,273.8 L230.2,274.9 L230.5,275.1 L230.8,274.0 L231.0,271.3 L231.2,267.5 L231.5,263.2 L231.8,259.0 L232.0,255.6 L232.2,253.4 L232.5,253.0 L232.8,255.4 L233.0,261.0 L233.2,268.9 L233.5,278.1 L233.8,287.1 L234.0,294.8 L234.2,299.9 L234.5,301.8 L234.8,297.2 L235.0,283.3 L235.2,263.2 L235.5,241.6 L235.8,223.2 L236.0,212.3 L236.2,210.8 L236.5,213.4 L236.8,218.7 L237.0,226.5 L237.2,236.3 L237.5,247.6 L237.8,259.8 L238.0,272.3 L238.2,284.3 L238.5,295.2 L238.8,304.5 L239.0,311.5 L239.2,316.1 L239.5,317.9 L239.8,317.1 L240.0,314.5 L240.2,310.1 L240.5,304.1 L240.8,296.8 L241.0,288.4 L241.2,279.3 L241.5,269.8 L241.8,260.4 L242.0,251.4 L242.2,243.1 L242.5,236.0 L242.8,230.3 L243.0,226.2 L243.2,223.8 L243.5,223.4 L243.8,224.5 L244.0,227.1 L244.2,231.0 L244.5,236.1 L244.8,242.3 L245.0,249.5 L245.2,257.4 L245.5,265.9 L245.8,274.7 L246.0,283.5 L246.2,292.2 L246.5,300.5 L246.8,308.1 L247.0,315.0 L247.2,320.8 L247.5,325.4 L247.8,328.8 L248.0,330.8 L248.2,331.3 L248.5,325.6 L248.8,311.5 L249.0,291.3 L249.2,268.6 L249.5,247.0 L249.8,230.3 L250.0,221.2 L250.2,220.7 L250.5,225.3 L250.8,234.1 L251.0,246.4 L251.2,261.2 L251.5,277.5 L251.8,294.0 L252.0,309.3 L252.2,322.4 L252.5,332.2 L252.8,338.0 L253.0,339.0 L253.2,325.4 L253.5,296.1 L253.8,258.6 L254.0,222.4 L254.2,196.5 L254.5,187.4 L254.8,189.7 L255.0,196.0 L255.2,206.0 L255.5,218.8 L255.8,233.6 L256.0,249.2 L256.2,264.5 L256.5,278.4 L256.8,289.9 L257.0,298.0 L257.2,302.3 L257.5,302.0 L257.8,294.4 L258.0,280.0 L258.2,260.8 L258.5,239.2 L258.8,218.1 L259.0,200.3 L259.2,188.3 L259.5,183.4 L259.8,187.4 L260.0,200.7 L260.2,220.7 L260.5,243.6 L260.8,264.7 L261.0,279.9 L261.2,286.3 L261.5,281.6 L261.8,265.3 L262.0,242.1 L262.2,218.5 L262.5,201.0 L262.8,194.7 L263.0,199.5 L263.2,212.7 L263.5,232.1 L263.8,254.3 L264.0,275.4 L264.2,291.7 L264.5,300.4 L264.8,301.2 L265.0,299.5 L265.2,296.4 L265.5,291.8 L265.8,286.1 L266.0,279.4 L266.2,271.9 L266.5,263.9 L266.8,255.9 L267.0,247.9 L267.2,240.5 L267.5,233.7 L267.8,228.0 L268.0,223.5 L268.2,220.3 L268.5,218.7 L268.8,219.3 L269.0,226.1 L269.2,239.2 L269.5,257.1 L269.8,277.7 L270.0,298.6 L270.2,317.6 L270.5,332.3 L270.8,341.1 L271.0,343.2 L271.2,340.9 L271.5,335.7 L271.8,327.7 L272.0,317.4 L272.2,305.1 L272.5,291.5 L272.8,277.2 L273.0,262.8 L273.2,249.0 L273.5,236.3 L273.8,225.5 L274.0,216.9 L274.2,211.0 L274.5,208.0 L274.8,207.9 L275.0,209.3 L275.2,211.9 L275.5,215.8 L275.8,220.8 L276.0,226.8 L276.2,233.6 L276.5,241.1 L276.8,249.1 L277.0,257.3 L277.2,265.6 L277.5,273.8 L277.8,281.6 L278.0,288.8 L278.2,295.3 L278.5,300.9 L278.8,305.4 L279.0,308.8 L279.2,310.9 L279.5,311.7 L279.8,309.1 L280.0,300.7 L280.2,287.2 L280.5,270.3 L280.8,251.7 L281.0,233.6 L281.2,217.9 L281.5,206.3 L281.8,200.2 L282.0,200.9 L282.2,211.7 L282.5,231.4 L282.8,257.0 L283.0,284.3 L283.2,309.0 L283.5,327.0 L283.8,335.5 L284.0,335.1 L284.2,331.3 L284.5,324.5 L284.8,315.2 L285.0,303.8 L285.2,290.9 L285.5,277.3 L285.8,263.7 L286.0,250.7 L286.2,239.2 L286.5,229.6 L286.8,222.6 L287.0,218.5 L287.2,217.5 L287.5,218.4 L287.8,220.6 L288.0,223.9 L288.2,228.2 L288.5,233.5 L288.8,239.4 L289.0,245.8 L289.2,252.4 L289.5,259.0 L289.8,265.2 L290.0,271.0 L290.2,276.0 L290.5,280.1 L290.8,283.0 L291.0,284.8 L291.2,285.3 L291.5,283.4 L291.8,278.5 L292.0,271.2 L292.2,262.6 L292.5,253.7 L292.8,245.8 L293.0,239.9 L293.2,236.8 L293.5,236.7 L293.8,238.0 L294.0,240.5 L294.2,244.1 L294.5,248.7 L294.8,254.2 L295.0,260.2 L295.2,266.6 L295.5,273.1 L295.8,279.5 L296.0,285.5 L296.2,291.0 L296.5,295.6 L296.8,299.3 L297.0,301.8 L297.2,303.2 L297.5,303.0 L297.8,299.1 L298.0,291.1 L298.2,279.7 L298.5,265.6 L298.8,249.9 L299.0,233.7 L299.2,218.1 L299.5,204.2 L299.8,193.0 L300.0,185.3 L300.2,181.7 L300.5,181.8 L300.8,184.0 L301.0,187.9 L301.2,193.6 L301.5,200.7 L301.8,209.2 L302.0,218.9 L302.2,229.3 L302.5,240.3 L302.8,251.6 L303.0,262.8 L303.2,273.6 L303.5,283.7 L303.8,292.9 L304.0,300.9 L304.2,307.5 L304.5,312.5 L304.8,315.8 L305.0,317.2 L305.2,316.7 L305.5,314.1 L305.8,309.5 L306.0,303.2 L306.2,295.6 L306.5,286.9 L306.8,277.7 L307.0,268.3 L307.2,259.3 L307.5,251.2 L307.8,244.2 L308.0,238.9 L308.2,235.5 L308.5,234.0 L308.8,234.9 L309.0,238.4 L309.2,244.3 L309.5,252.3 L309.8,262.1 L310.0,273.1 L310.2,284.8 L310.5,296.5 L310.8,307.8 L311.0,317.9 L311.2,326.5 L311.5,333.0 L311.8,337.2 L312.0,338.8 L312.2,330.1 L312.5,302.5 L312.8,264.1 L313.0,225.8 L313.2,198.8 L313.5,190.7 L313.8,192.8 L314.0,198.0 L314.2,206.1 L314.5,216.8 L314.8,229.6 L315.0,244.0 L315.2,259.3 L315.5,274.8 L315.8,289.9 L316.0,303.9 L316.2,316.2 L316.5,326.2 L316.8,333.6 L317.0,338.0 L317.2,339.2 L317.5,337.9 L317.8,334.6 L318.0,329.4 L318.2,322.5 L318.5,314.0 L318.8,304.2 L319.0,293.5 L319.2,282.1 L319.5,270.3 L319.8,258.6 L320.0,247.3 L320.2,236.7 L320.5,227.1 L320.8,218.8 L321.0,212.1 L321.2,207.2 L321.5,204.2 L321.8,203.2 L322.0,204.4 L322.2,207.8 L322.5,213.4 L322.8,221.0 L323.0,230.2 L323.2,240.8 L323.5,252.3 L323.8,264.5 L324.0,276.8 L324.2,288.8 L324.5,300.1 L324.8,310.4 L325.0,319.1 L325.2,326.1 L325.5,331.1 L325.8,333.9 L326.0,334.5 L326.2,333.0 L326.5,329.7 L326.8,324.6 L327.0,317.8 L327.2,309.6 L327.5,300.2 L327.8,289.8 L328.0,278.7 L328.2,267.2 L328.5,255.6 L328.8,244.3 L329.0,233.5 L329.2,223.6 L329.5,214.7 L329.8,207.3 L330.0,201.3 L330.2,197.1 L330.5,194.7 L330.8,194.3 L331.0,196.8 L331.2,202.5 L331.5,211.0 L331.8,221.6 L332.0,233.6 L332.2,246.1 L332.5,258.0 L332.8,268.6 L333.0,277.0 L333.2,282.6 L333.5,285.0 L333.8,281.1 L334.0,266.4 L334.2,245.3 L334.5,224.1 L334.8,209.2 L335.0,205.2 L335.2,208.5 L335.5,216.5 L335.8,228.2 L336.0,242.2 L336.2,256.8 L336.5,270.4 L336.8,281.3 L337.0,288.2 L337.2,290.4 L337.5,288.2 L337.8,282.2 L338.0,273.0 L338.2,261.1 L338.5,247.4 L338.8,232.9 L339.0,218.5 L339.2,205.5 L339.5,194.5 L339.8,186.5 L340.0,182.1 L340.2,182.0 L340.5,192.9 L340.8,214.5 L341.0,242.3 L341.2,270.1 L341.5,292.2 L341.8,303.6" stroke="#666" stroke-width="0.85" fill="none" stroke-dasharray="3.2 1.5"/>
<line x1="41.00" x2="342.20" y1="262.35" y2="262.35" stroke="#000" stroke-width="1.1" fill="none" stroke-dasharray="3.3 1.6"/>
<path d="M163.40,274.30 L163.57,273.61 L163.73,272.92 L163.90,272.24 L164.07,271.55 L164.24,270.87 L164.40,270.18 L164.57,269.50 L164.74,268.83 L164.91,268.16 L165.07,267.49 L165.24,266.82 L165.41,266.16 L165.57,265.51 L165.74,264.86 L165.91,264.22 L166.08,263.58 L166.24,262.95 L166.41,262.33 L166.58,261.72 L166.74,261.11 L166.91,260.52 L167.08,259.93 L167.25,259.35 L167.41,258.79 L167.58,258.23 L167.75,257.68 L167.92,257.15 L168.08,256.63 L168.25,256.12 L168.42,255.63 L168.58,255.15 L168.75,254.68 L168.92,254.23 L169.09,253.79 L169.25,253.37 L169.42,252.96 L169.59,252.57 L169.75,252.20 L169.92,251.85 L170.09,251.51 L170.26,251.20 L170.42,250.90 L170.59,250.62 L170.76,250.37 L170.93,250.13 L171.09,249.92 L171.26,249.73 L171.43,249.56 L171.59,249.42 L171.76,249.30 L171.93,249.20 L172.10,249.13 L172.26,249.09 L172.43,249.07 L172.60,249.08 L172.76,249.11 L172.93,249.16 L173.10,249.24 L173.27,249.34 L173.43,249.46 L173.60,249.61 L173.77,249.77 L173.94,249.96 L174.10,250.16 L174.27,250.38 L174.44,250.62 L174.60,250.87 L174.77,251.14 L174.94,251.43 L175.11,251.73 L175.27,252.05 L175.44,252.38 L175.61,252.72 L175.77,253.07 L175.94,253.44 L176.11,253.81 L176.28,254.19 L176.44,254.58 L176.61,254.98 L176.78,255.38 L176.95,255.78 L177.11,256.19 L177.28,256.59 L177.45,257.00 L177.61,257.41 L177.78,257.81 L177.95,258.21 L178.12,258.61 L178.28,259.00 L178.45,259.39 L178.62,259.76 L178.78,260.13 L178.95,260.49 L179.12,260.84 L179.29,261.18 L179.45,261.50 L179.62,261.81 L179.79,262.11 L179.96,262.40 L180.12,262.67 L180.29,262.92 L180.46,263.16 L180.62,263.37 L180.79,263.57 L180.96,263.76 L181.13,263.92 L181.29,264.06 L181.46,264.18 L181.63,264.27 L181.79,264.35 L181.96,264.40 L182.13,264.44 L182.30,264.45 L182.46,264.46 L182.63,264.44 L182.80,264.42 L182.97,264.38 L183.13,264.33 L183.30,264.28 L183.47,264.21 L183.63,264.14 L183.80,264.06 L183.97,263.98 L184.14,263.90 L184.30,263.82 L184.47,263.74 L184.64,263.66 L184.80,263.58 L184.97,263.51 L185.14,263.45 L185.31,263.39 L185.47,263.33 L185.64,263.28 L185.81,263.23 L185.98,263.17 L186.14,263.12 L186.31,263.07 L186.48,263.01 L186.64,262.94 L186.81,262.87 L186.98,262.79 L187.15,262.71 L187.31,262.61 L187.48,262.50 L187.65,262.38 L187.81,262.24 L187.98,262.09 L188.15,261.92 L188.32,261.73 L188.48,261.52 L188.65,261.29 L188.82,261.05 L188.99,260.78 L189.15,260.51 L189.32,260.22 L189.49,259.91 L189.65,259.61 L189.82,259.29 L189.99,258.97 L190.16,258.66 L190.32,258.34 L190.49,258.02 L190.66,257.71 L190.82,257.41 L190.99,257.12 L191.16,256.84 L191.33,256.58 L191.49,256.33 L191.66,256.10 L191.83,255.89 L192.00,255.70 L192.16,255.54 L192.33,255.41 L192.50,255.30 L192.66,255.23 L192.83,255.20 L193.00,255.19 L193.17,255.23 L193.33,255.30 L193.50,255.40 L193.67,255.54 L193.83,255.71 L194.00,255.92 L194.17,256.16 L194.34,256.43 L194.50,256.74 L194.67,257.07 L194.84,257.44 L195.01,257.84 L195.17,258.27 L195.34,258.73 L195.51,259.22 L195.67,259.73 L195.84,260.28 L196.01,260.86 L196.18,261.46 L196.34,262.09 L196.51,262.74 L196.68,263.41 L196.84,264.11 L197.01,264.83 L197.18,265.57 L197.35,266.33 L197.51,267.10 L197.68,267.90 L197.85,268.71 L198.02,269.53 L198.18,270.37 L198.35,271.22 L198.52,272.09 L198.68,272.96 L198.85,273.85 L199.02,274.73 L199.19,275.62 L199.35,276.51 L199.52,277.39 L199.69,278.26 L199.85,279.13 L200.02,279.97 L200.19,280.81 L200.36,281.62 L200.52,282.41 L200.69,283.17 L200.86,283.90 L201.03,284.60 L201.19,285.27 L201.36,285.90 L201.53,286.48 L201.69,287.02 L201.86,287.52 L202.03,287.97 L202.20,288.36 L202.36,288.70 L202.53,288.98 L202.70,289.20 L202.86,289.35 L203.03,289.44 L203.20,289.47 L203.37,289.44 L203.53,289.35 L203.70,289.21 L203.87,289.01 L204.04,288.75 L204.20,288.45 L204.37,288.10 L204.54,287.71 L204.70,287.27 L204.87,286.79 L205.04,286.27 L205.21,285.71 L205.37,285.11 L205.54,284.46 L205.71,283.77 L205.87,283.05 L206.04,282.27 L206.21,281.46 L206.38,280.60 L206.54,279.69 L206.71,278.75 L206.88,277.75 L207.05,276.71 L207.21,275.63 L207.38,274.50 L207.55,273.34 L207.71,272.14 L207.88,270.91 L208.05,269.64 L208.22,268.36 L208.38,267.05 L208.55,265.73 L208.72,264.38 L208.88,263.03 L209.05,261.67 L209.22,260.30 L209.39,258.93 L209.55,257.56 L209.72,256.20 L209.89,254.84 L210.06,253.50 L210.22,252.17 L210.39,250.86 L210.56,249.58 L210.72,248.33 L210.89,247.11 L211.06,245.92 L211.23,244.78 L211.39,243.68 L211.56,242.62 L211.73,241.62 L211.89,240.66 L212.06,239.74 L212.23,238.86 L212.40,238.01 L212.56,237.18 L212.73,236.38 L212.90,235.59 L213.07,234.82 L213.23,234.06 L213.40,233.30" stroke="#000" stroke-width="2.6" fill="none" stroke-linejoin="round" stroke-linecap="round"/>
</g>
<line x1="167.00" x2="167.00" y1="0.30" y2="299.78" stroke="#000" stroke-width="1.3"/>
<line x1="188.30" x2="188.30" y1="0.30" y2="299.78" stroke="#000" stroke-width="1.3"/>
<line x1="208.20" x2="208.20" y1="0.30" y2="299.78" stroke="#000" stroke-width="1.3"/>
<rect x="41.00" y="0.30" width="301.20" height="299.48" fill="none" stroke="#000" stroke-width="0.72"/>
<line x1="41.00" x2="342.20" y1="75.17" y2="75.17" stroke="#000" stroke-width="0.75"/>
<line x1="41.00" x2="342.20" y1="150.04" y2="150.04" stroke="#000" stroke-width="0.75"/>
<line x1="41.00" x2="342.20" y1="224.91" y2="224.91" stroke="#000" stroke-width="0.75"/>
<rect x="43.80" y="3.00" width="57.40" height="19.80" rx="1.3" fill="#fff" fill-opacity="0.8" stroke="#d9d9d9" stroke-width="0.65"/>
<line x1="46.20" x2="58.80" y1="8.20" y2="8.20" stroke="#555" stroke-width="0.9" fill="none" stroke-dasharray="3.2 1.5"/>
<line x1="46.20" x2="58.80" y1="17.10" y2="17.10" stroke="#000" stroke-width="1.6"/>
<circle cx="52.50" cy="17.10" r="2.30" fill="#000"/>
<text x="63.00" y="10.80" font-size="6.55" text-anchor="start" textLength="35.25" lengthAdjust="spacingAndGlyphs" filter="url(#tb)">Orginal CCF</text>
<text x="63.00" y="19.70" font-size="6.55" text-anchor="start" textLength="25.79" lengthAdjust="spacingAndGlyphs" filter="url(#tb)">Selected</text>
<rect x="43.80" y="78.00" width="63.00" height="19.20" rx="1.3" fill="#fff" fill-opacity="0.8" stroke="#d9d9d9" stroke-width="0.65"/>
<line x1="46.20" x2="58.80" y1="83.20" y2="83.20" stroke="#555" stroke-width="0.9" fill="none" stroke-dasharray="3.2 1.5"/>
<line x1="46.20" x2="58.80" y1="92.10" y2="92.10" stroke="#000" stroke-width="1.6"/>
<circle cx="52.50" cy="92.10" r="2.30" fill="#000"/>
<text x="63.00" y="85.80" font-size="6.55" text-anchor="start" textLength="40.98" lengthAdjust="spacingAndGlyphs" filter="url(#tb)">1st derivative</text>
<text x="63.00" y="94.70" font-size="6.55" text-anchor="start" textLength="25.79" lengthAdjust="spacingAndGlyphs" filter="url(#tb)">Selected</text>
<rect x="43.80" y="152.80" width="63.20" height="19.60" rx="1.3" fill="#fff" fill-opacity="0.8" stroke="#d9d9d9" stroke-width="0.65"/>
<line x1="46.20" x2="58.80" y1="158.00" y2="158.00" stroke="#555" stroke-width="0.9" fill="none" stroke-dasharray="3.2 1.5"/>
<line x1="46.20" x2="58.80" y1="166.90" y2="166.90" stroke="#000" stroke-width="1.6"/>
<circle cx="52.50" cy="166.90" r="2.30" fill="#000"/>
<text x="63.00" y="160.60" font-size="6.55" text-anchor="start" textLength="43.10" lengthAdjust="spacingAndGlyphs" filter="url(#tb)">2nd derivative</text>
<text x="63.00" y="169.50" font-size="6.55" text-anchor="start" textLength="25.79" lengthAdjust="spacingAndGlyphs" filter="url(#tb)">Selected</text>
<rect x="43.80" y="227.60" width="62.80" height="19.40" rx="1.3" fill="#fff" fill-opacity="0.8" stroke="#d9d9d9" stroke-width="0.65"/>
<line x1="46.20" x2="58.80" y1="232.80" y2="232.80" stroke="#555" stroke-width="0.9" fill="none" stroke-dasharray="3.2 1.5"/>
<line x1="46.20" x2="58.80" y1="241.70" y2="241.70" stroke="#000" stroke-width="1.6"/>
<circle cx="52.50" cy="241.70" r="2.30" fill="#000"/>
<text x="63.00" y="235.40" font-size="6.55" text-anchor="start" textLength="41.77" lengthAdjust="spacingAndGlyphs" filter="url(#tb)">3rd derivative</text>
<text x="63.00" y="244.30" font-size="6.55" text-anchor="start" textLength="25.79" lengthAdjust="spacingAndGlyphs" filter="url(#tb)">Selected</text>
<line x1="38.80" x2="41.00" y1="11.00" y2="11.00" stroke="#000" stroke-width="0.7"/>
<text x="36.80" y="13.50" font-size="6.55" text-anchor="end" textLength="9.46" lengthAdjust="spacingAndGlyphs" filter="url(#tb)">0.5</text>
<line x1="38.80" x2="41.00" y1="64.47" y2="64.47" stroke="#000" stroke-width="0.7"/>
<text x="36.80" y="66.97" font-size="6.55" text-anchor="end" textLength="9.46" lengthAdjust="spacingAndGlyphs" filter="url(#tb)">0.0</text>
<line x1="38.80" x2="41.00" y1="87.65" y2="87.65" stroke="#000" stroke-width="0.7"/>
<text x="36.80" y="90.15" font-size="6.55" text-anchor="end" textLength="13.25" lengthAdjust="spacingAndGlyphs" filter="url(#tb)">0.01</text>
<line x1="38.80" x2="41.00" y1="112.61" y2="112.61" stroke="#000" stroke-width="0.7"/>
<text x="36.80" y="115.11" font-size="6.55" text-anchor="end" textLength="13.25" lengthAdjust="spacingAndGlyphs" filter="url(#tb)">0.00</text>
<line x1="38.80" x2="41.00" y1="137.56" y2="137.56" stroke="#000" stroke-width="0.7"/>
<text x="36.80" y="140.06" font-size="6.55" text-anchor="end" textLength="18.23" lengthAdjust="spacingAndGlyphs" filter="url(#tb)">&#8722;0.01</text>
<line x1="38.80" x2="41.00" y1="167.32" y2="167.32" stroke="#000" stroke-width="0.7"/>
<text x="36.80" y="169.82" font-size="6.55" text-anchor="end" textLength="3.79" lengthAdjust="spacingAndGlyphs" filter="url(#tb)">0</text>
<line x1="38.80" x2="41.00" y1="196.11" y2="196.11" stroke="#000" stroke-width="0.7"/>
<text x="35.90" y="196.31" font-size="4.84" text-anchor="end" textLength="5.40" lengthAdjust="spacingAndGlyphs" filter="url(#tb)">&#8722;4</text>
<text x="30.10" y="198.61" font-size="6.55" text-anchor="end" textLength="7.19" lengthAdjust="spacingAndGlyphs" filter="url(#tb)">10</text>
<text x="18.90" y="198.61" font-size="8.18" text-anchor="middle" style="stroke-width:0.05px" filter="url(#tb)">&#215;</text>
<text x="15.10" y="198.61" font-size="6.55" text-anchor="end" textLength="8.33" lengthAdjust="spacingAndGlyphs" filter="url(#tb)">&#8722;5</text>
<line x1="38.80" x2="41.00" y1="231.15" y2="231.15" stroke="#000" stroke-width="0.7"/>
<text x="35.90" y="231.35" font-size="4.84" text-anchor="end" textLength="5.40" lengthAdjust="spacingAndGlyphs" filter="url(#tb)">&#8722;5</text>
<text x="30.10" y="233.65" font-size="6.55" text-anchor="end" textLength="7.19" lengthAdjust="spacingAndGlyphs" filter="url(#tb)">10</text>
<text x="18.90" y="233.65" font-size="8.18" text-anchor="middle" style="stroke-width:0.05px" filter="url(#tb)">&#215;</text>
<text x="15.10" y="233.65" font-size="6.55" text-anchor="end" textLength="3.60" lengthAdjust="spacingAndGlyphs" filter="url(#tb)">5</text>
<line x1="38.80" x2="41.00" y1="262.35" y2="262.35" stroke="#000" stroke-width="0.7"/>
<text x="36.80" y="264.85" font-size="6.55" text-anchor="end" textLength="3.79" lengthAdjust="spacingAndGlyphs" filter="url(#tb)">0</text>
<line x1="38.80" x2="41.00" y1="293.54" y2="293.54" stroke="#000" stroke-width="0.7"/>
<text x="35.90" y="293.74" font-size="4.84" text-anchor="end" textLength="5.40" lengthAdjust="spacingAndGlyphs" filter="url(#tb)">&#8722;5</text>
<text x="30.10" y="296.04" font-size="6.55" text-anchor="end" textLength="7.19" lengthAdjust="spacingAndGlyphs" filter="url(#tb)">10</text>
<text x="18.90" y="296.04" font-size="8.18" text-anchor="middle" style="stroke-width:0.05px" filter="url(#tb)">&#215;</text>
<text x="15.10" y="296.04" font-size="6.55" text-anchor="end" textLength="8.33" lengthAdjust="spacingAndGlyphs" filter="url(#tb)">&#8722;5</text>
<line x1="42.49" x2="42.49" y1="299.78" y2="301.98" stroke="#000" stroke-width="0.7"/>
<text x="42.49" y="308.88" font-size="6.55" text-anchor="middle" textLength="16.34" lengthAdjust="spacingAndGlyphs" filter="url(#tb)">&#8722;500</text>
<line x1="117.05" x2="117.05" y1="299.78" y2="301.98" stroke="#000" stroke-width="0.7"/>
<text x="117.05" y="308.88" font-size="6.55" text-anchor="middle" textLength="16.34" lengthAdjust="spacingAndGlyphs" filter="url(#tb)">&#8722;250</text>
<line x1="191.60" x2="191.60" y1="299.78" y2="301.98" stroke="#000" stroke-width="0.7"/>
<text x="191.60" y="308.88" font-size="6.55" text-anchor="middle" textLength="3.79" lengthAdjust="spacingAndGlyphs" filter="url(#tb)">0</text>
<line x1="266.15" x2="266.15" y1="299.78" y2="301.98" stroke="#000" stroke-width="0.7"/>
<text x="266.15" y="308.88" font-size="6.55" text-anchor="middle" textLength="11.36" lengthAdjust="spacingAndGlyphs" filter="url(#tb)">250</text>
<line x1="340.71" x2="340.71" y1="299.78" y2="301.98" stroke="#000" stroke-width="0.7"/>
<text x="340.71" y="308.88" font-size="6.55" text-anchor="middle" textLength="11.36" lengthAdjust="spacingAndGlyphs" filter="url(#tb)">500</text>
<text x="191.60" y="316.68" font-size="6.55" text-anchor="middle" textLength="65.08" lengthAdjust="spacingAndGlyphs" filter="url(#tb)">Radial Velocity (km/s)</text>
<text x="285.70" y="12.60" font-size="9.40" font-style="italic" textLength="6.00" lengthAdjust="spacingAndGlyphs">&#963;</text>
<line x1="294.40" x2="300.90" y1="8.45" y2="8.45" stroke="#000" stroke-width="0.8"/>
<line x1="294.40" x2="300.90" y1="10.40" y2="10.40" stroke="#000" stroke-width="0.8"/>
<text x="303.20" y="12.60" font-size="9.40" textLength="11.60" lengthAdjust="spacingAndGlyphs">13</text>
<text x="317.30" y="12.60" font-size="9.40" textLength="23.30" lengthAdjust="spacingAndGlyphs">km/s</text>
<clipPath id="cR0"><rect x="400.00" y="5.20" width="296.25" height="73.74"/></clipPath>
<clipPath id="cR1"><rect x="400.00" y="78.94" width="296.25" height="73.74"/></clipPath>
<clipPath id="cR2"><rect x="400.00" y="152.68" width="296.25" height="73.74"/></clipPath>
<clipPath id="cR3"><rect x="400.00" y="226.42" width="296.25" height="73.74"/></clipPath>
<g clip-path="url(#cR0)">
<path d="M400.0,77.3 L400.2,77.3 L400.3,77.3 L400.5,77.3 L400.7,77.3 L400.8,77.3 L401.0,77.3 L401.2,77.3 L401.3,77.3 L401.5,77.3 L401.7,77.3 L401.8,77.3 L402.0,77.3 L402.2,77.3 L402.3,77.3 L402.5,77.3 L402.7,77.3 L402.8,77.3 L403.0,77.3 L403.2,77.2 L403.3,77.2 L403.5,77.2 L403.7,77.2 L403.8,77.1 L404.0,77.1 L404.2,77.1 L404.3,77.0 L404.5,77.0 L404.7,76.9 L404.8,76.9 L405.0,76.9 L405.2,76.8 L405.3,76.8 L405.5,76.7 L405.7,76.7 L405.8,76.6 L406.0,76.6 L406.2,76.5 L406.3,76.4 L406.5,76.4 L406.7,76.3 L406.8,76.3 L407.0,76.2 L407.2,76.2 L407.3,76.1 L407.5,76.1 L407.7,76.1 L407.8,76.0 L408.0,76.0 L408.2,75.9 L408.3,75.9 L408.5,75.9 L408.7,75.8 L408.8,75.8 L409.0,75.7 L409.2,75.7 L409.3,75.7 L409.5,75.6 L409.7,75.6 L409.8,75.5 L410.0,75.4 L410.2,75.4 L410.3,75.3 L410.5,75.2 L410.7,75.1 L410.8,75.0 L411.0,74.9 L411.2,74.8 L411.3,74.7 L411.5,74.6 L411.7,74.5 L411.8,74.3 L412.0,74.2 L412.2,74.0 L412.3,73.8 L412.5,73.7 L412.7,73.5 L412.8,73.3 L413.0,73.1 L413.2,72.9 L413.3,72.7 L413.5,72.5 L413.7,72.3 L413.8,72.1 L414.0,71.9 L414.2,71.7 L414.3,71.5 L414.5,71.3 L414.7,71.1 L414.8,70.9 L415.0,70.7 L415.2,70.5 L415.3,70.3 L415.5,70.2 L415.7,70.0 L415.8,69.8 L416.0,69.7 L416.2,69.5 L416.3,69.4 L416.5,69.3 L416.7,69.1 L416.8,69.0 L417.0,69.0 L417.2,68.9 L417.3,68.8 L417.5,68.7 L417.7,68.7 L417.8,68.7 L418.0,68.6 L418.2,68.6 L418.3,68.6 L418.5,68.6 L418.7,68.6 L418.8,68.6 L419.0,68.6 L419.2,68.6 L419.3,68.6 L419.5,68.6 L419.7,68.7 L419.9,68.7 L420.0,68.7 L420.2,68.8 L420.4,68.8 L420.5,68.8 L420.7,68.9 L420.9,68.9 L421.0,68.9 L421.2,69.0 L421.4,69.0 L421.5,69.0 L421.7,69.1 L421.9,69.1 L422.0,69.1 L422.2,69.2 L422.4,69.2 L422.5,69.2 L422.7,69.2 L422.9,69.2 L423.0,69.3 L423.2,69.3 L423.4,69.3 L423.5,69.3 L423.7,69.3 L423.9,69.3 L424.0,69.3 L424.2,69.3 L424.4,69.3 L424.5,69.3 L424.7,69.3 L424.9,69.3 L425.0,69.3 L425.2,69.3 L425.4,69.2 L425.5,69.2 L425.7,69.2 L425.9,69.2 L426.0,69.1 L426.2,69.1 L426.4,69.1 L426.5,69.1 L426.7,69.0 L426.9,69.0 L427.0,69.0 L427.2,68.9 L427.4,68.9 L427.5,68.9 L427.7,68.9 L427.9,68.8 L428.0,68.8 L428.2,68.8 L428.4,68.7 L428.5,68.7 L428.7,68.7 L428.9,68.7 L429.0,68.7 L429.2,68.6 L429.4,68.6 L429.5,68.6 L429.7,68.6 L429.9,68.6 L430.0,68.6 L430.2,68.6 L430.4,68.6 L430.5,68.6 L430.7,68.6 L430.9,68.6 L431.0,68.7 L431.2,68.7 L431.4,68.7 L431.5,68.8 L431.7,68.8 L431.9,68.8 L432.0,68.9 L432.2,69.0 L432.4,69.0 L432.5,69.1 L432.7,69.2 L432.9,69.3 L433.0,69.4 L433.2,69.5 L433.4,69.7 L433.5,69.8 L433.7,69.9 L433.9,70.1 L434.0,70.2 L434.2,70.4 L434.4,70.5 L434.5,70.7 L434.7,70.8 L434.9,70.9 L435.0,71.0 L435.2,71.1 L435.4,71.1 L435.5,71.1 L435.7,71.1 L435.9,71.1 L436.0,71.1 L436.2,71.0 L436.4,70.9 L436.5,70.8 L436.7,70.8 L436.9,70.7 L437.0,70.6 L437.2,70.5 L437.4,70.4 L437.5,70.3 L437.7,70.2 L437.9,70.1 L438.0,70.0 L438.2,70.0 L438.4,69.9 L438.5,69.9 L438.7,69.9 L438.9,69.9 L439.0,70.0 L439.2,70.0 L439.4,70.1 L439.5,70.2 L439.7,70.3 L439.9,70.5 L440.0,70.6 L440.2,70.8 L440.4,70.9 L440.5,71.1 L440.7,71.3 L440.9,71.5 L441.0,71.7 L441.2,71.9 L441.4,72.0 L441.5,72.2 L441.7,72.4 L441.9,72.6 L442.0,72.8 L442.2,73.0 L442.4,73.2 L442.5,73.3 L442.7,73.5 L442.9,73.7 L443.0,73.8 L443.2,74.0 L443.4,74.1 L443.5,74.2 L443.7,74.4 L443.9,74.5 L444.0,74.6 L444.2,74.7 L444.4,74.8 L444.5,74.9 L444.7,75.0 L444.9,75.1 L445.0,75.2 L445.2,75.3 L445.4,75.4 L445.5,75.4 L445.7,75.5 L445.9,75.5 L446.0,75.6 L446.2,75.6 L446.4,75.7 L446.5,75.7 L446.7,75.7 L446.9,75.7 L447.0,75.7 L447.2,75.7 L447.4,75.7 L447.5,75.7 L447.7,75.7 L447.9,75.7 L448.0,75.6 L448.2,75.6 L448.4,75.6 L448.5,75.5 L448.7,75.5 L448.9,75.4 L449.0,75.4 L449.2,75.3 L449.4,75.2 L449.5,75.2 L449.7,75.1 L449.9,75.0 L450.0,75.0 L450.2,74.9 L450.4,74.8 L450.5,74.8 L450.7,74.7 L450.9,74.6 L451.0,74.5 L451.2,74.5 L451.4,74.4 L451.5,74.3 L451.7,74.2 L451.9,74.2 L452.0,74.1 L452.2,74.0 L452.4,73.9 L452.5,73.8 L452.7,73.8 L452.9,73.7 L453.0,73.6 L453.2,73.5 L453.4,73.4 L453.5,73.4 L453.7,73.3 L453.9,73.2 L454.0,73.1 L454.2,73.0 L454.4,72.9 L454.5,72.8 L454.7,72.7 L454.9,72.6 L455.0,72.5 L455.2,72.4 L455.4,72.2 L455.5,72.1 L455.7,72.0 L455.9,71.9 L456.0,71.7 L456.2,71.6 L456.4,71.5 L456.5,71.3 L456.7,71.2 L456.9,71.0 L457.0,70.9 L457.2,70.7 L457.4,70.5 L457.5,70.4 L457.7,70.2 L457.9,70.1 L458.0,69.9 L458.2,69.7 L458.4,69.6 L458.5,69.4 L458.7,69.3 L458.9,69.1 L459.0,69.0 L459.2,68.8 L459.4,68.7 L459.6,68.6 L459.7,68.5 L459.9,68.3 L460.1,68.2 L460.2,68.1 L460.4,68.0 L460.6,67.9 L460.7,67.9 L460.9,67.8 L461.1,67.7 L461.2,67.7 L461.4,67.6 L461.6,67.5 L461.7,67.5 L461.9,67.4 L462.1,67.4 L462.2,67.4 L462.4,67.3 L462.6,67.3 L462.7,67.3 L462.9,67.2 L463.1,67.2 L463.2,67.2 L463.4,67.2 L463.6,67.2 L463.7,67.1 L463.9,67.1 L464.1,67.1 L464.2,67.1 L464.4,67.1 L464.6,67.0 L464.7,67.0 L464.9,67.0 L465.1,67.0 L465.2,67.0 L465.4,66.9 L465.6,66.9 L465.7,66.9 L465.9,66.8 L466.1,66.8 L466.2,66.8 L466.4,66.7 L466.6,66.7 L466.7,66.6 L466.9,66.6 L467.1,66.5 L467.2,66.5 L467.4,66.4 L467.6,66.4 L467.7,66.3 L467.9,66.2 L468.1,66.2 L468.2,66.1 L468.4,66.0 L468.6,66.0 L468.7,65.9 L468.9,65.8 L469.1,65.8 L469.2,65.7 L469.4,65.6 L469.6,65.6 L469.7,65.5 L469.9,65.4 L470.1,65.4 L470.2,65.3 L470.4,65.2 L470.6,65.2 L470.7,65.1 L470.9,65.1 L471.1,65.0 L471.2,64.9 L471.4,64.9 L471.6,64.8 L471.7,64.8 L471.9,64.7 L472.1,64.7 L472.2,64.6 L472.4,64.6 L472.6,64.5 L472.7,64.5 L472.9,64.5 L473.1,64.4 L473.2,64.4 L473.4,64.4 L473.6,64.3 L473.7,64.3 L473.9,64.3 L474.1,64.3 L474.2,64.3 L474.4,64.3 L474.6,64.3 L474.7,64.2 L474.9,64.3 L475.1,64.3 L475.2,64.3 L475.4,64.3 L475.6,64.3 L475.7,64.3 L475.9,64.4 L476.1,64.4 L476.2,64.4 L476.4,64.5 L476.6,64.5 L476.7,64.6 L476.9,64.6 L477.1,64.7 L477.2,64.7 L477.4,64.8 L477.6,64.9 L477.7,64.9 L477.9,65.0 L478.1,65.1 L478.2,65.1 L478.4,65.2 L478.6,65.3 L478.7,65.3 L478.9,65.4 L479.1,65.5 L479.2,65.6 L479.4,65.7 L479.6,65.7 L479.7,65.8 L479.9,65.9 L480.1,66.0 L480.2,66.0 L480.4,66.1 L480.6,66.2 L480.7,66.3 L480.9,66.3 L481.1,66.4 L481.2,66.5 L481.4,66.6 L481.6,66.6 L481.7,66.7 L481.9,66.8 L482.1,66.8 L482.2,66.9 L482.4,66.9 L482.6,67.0 L482.7,67.0 L482.9,67.1 L483.1,67.1 L483.2,67.2 L483.4,67.2 L483.6,67.3 L483.7,67.3 L483.9,67.3 L484.1,67.4 L484.2,67.4 L484.4,67.4 L484.6,67.5 L484.7,67.5 L484.9,67.5 L485.1,67.5 L485.2,67.5 L485.4,67.5 L485.6,67.5 L485.7,67.5 L485.9,67.5 L486.1,67.5 L486.2,67.5 L486.4,67.5 L486.6,67.5 L486.7,67.5 L486.9,67.4 L487.1,67.4 L487.2,67.4 L487.4,67.3 L487.6,67.3 L487.7,67.2 L487.9,67.2 L488.1,67.1 L488.2,67.1 L488.4,67.0 L488.6,67.0 L488.7,66.9 L488.9,66.8 L489.1,66.8 L489.2,66.7 L489.4,66.6 L489.6,66.6 L489.7,66.5 L489.9,66.4 L490.1,66.3 L490.2,66.3 L490.4,66.2 L490.6,66.1 L490.7,66.1 L490.9,66.0 L491.1,65.9 L491.2,65.8 L491.4,65.8 L491.6,65.7 L491.7,65.6 L491.9,65.6 L492.1,65.5 L492.2,65.4 L492.4,65.4 L492.6,65.3 L492.7,65.2 L492.9,65.2 L493.1,65.1 L493.2,65.1 L493.4,65.0 L493.6,65.0 L493.7,64.9 L493.9,64.9 L494.1,64.8 L494.2,64.8 L494.4,64.7 L494.6,64.7 L494.7,64.6 L494.9,64.6 L495.1,64.5 L495.2,64.5 L495.4,64.4 L495.6,64.4 L495.7,64.4 L495.9,64.3 L496.1,64.3 L496.2,64.2 L496.4,64.2 L496.6,64.2 L496.7,64.1 L496.9,64.1 L497.1,64.1 L497.2,64.0 L497.4,64.0 L497.6,63.9 L497.7,63.9 L497.9,63.9 L498.1,63.8 L498.2,63.8 L498.4,63.8 L498.6,63.7 L498.8,63.7 L498.9,63.6 L499.1,63.6 L499.3,63.5 L499.4,63.5 L499.6,63.4 L499.8,63.4 L499.9,63.3 L500.1,63.2 L500.3,63.1 L500.4,63.1 L500.6,63.0 L500.8,62.9 L500.9,62.8 L501.1,62.7 L501.3,62.6 L501.4,62.5 L501.6,62.4 L501.8,62.3 L501.9,62.2 L502.1,62.1 L502.3,62.0 L502.4,62.0 L502.6,61.9 L502.8,61.8 L502.9,61.8 L503.1,61.8 L503.3,61.7 L503.4,61.7 L503.6,61.7 L503.8,61.8 L503.9,61.8 L504.1,61.8 L504.3,61.9 L504.4,61.9 L504.6,62.0 L504.8,62.1 L504.9,62.2 L505.1,62.3 L505.3,62.4 L505.4,62.5 L505.6,62.6 L505.8,62.7 L505.9,62.9 L506.1,63.0 L506.3,63.1 L506.4,63.3 L506.6,63.4 L506.8,63.5 L506.9,63.7 L507.1,63.8 L507.3,63.9 L507.4,64.1 L507.6,64.2 L507.8,64.3 L507.9,64.4 L508.1,64.5 L508.3,64.6 L508.4,64.7 L508.6,64.8 L508.8,64.9 L508.9,64.9 L509.1,65.0 L509.3,65.0 L509.4,65.0 L509.6,65.1 L509.8,65.1 L509.9,65.1 L510.1,65.0 L510.3,65.0 L510.4,65.0 L510.6,64.9 L510.8,64.9 L510.9,64.8 L511.1,64.7 L511.3,64.6 L511.4,64.5 L511.6,64.4 L511.8,64.3 L511.9,64.2 L512.1,64.0 L512.3,63.9 L512.4,63.7 L512.6,63.5 L512.8,63.3 L512.9,63.2 L513.1,63.0 L513.3,62.8 L513.4,62.5 L513.6,62.3 L513.8,62.1 L513.9,61.9 L514.1,61.7 L514.3,61.5 L514.4,61.2 L514.6,61.0 L514.8,60.8 L514.9,60.6 L515.1,60.4 L515.3,60.2 L515.4,59.9 L515.6,59.7 L515.8,59.4 L515.9,59.1 L516.1,58.8 L516.3,58.5 L516.4,58.2 L516.6,57.8 L516.8,57.5 L516.9,57.1 L517.1,56.7 L517.3,56.3 L517.4,55.9 L517.6,55.5 L517.8,55.1 L517.9,54.7 L518.1,54.2 L518.3,53.7 L518.4,53.2 L518.6,52.7 L518.8,52.2 L518.9,51.7 L519.1,51.1 L519.3,50.6 L519.4,50.0 L519.6,49.5 L519.8,49.0 L519.9,48.5 L520.1,48.1 L520.3,47.6 L520.4,47.2 L520.6,46.8 L520.8,46.4 L520.9,46.0 L521.1,45.6 L521.3,45.3 L521.4,45.0 L521.6,44.6 L521.8,44.3 L521.9,44.0 L522.1,43.8 L522.3,43.5 L522.4,43.3 L522.6,43.1 L522.8,43.0 L522.9,42.9 L523.1,42.7 L523.3,42.7 L523.4,42.6 L523.6,42.5 L523.8,42.5 L523.9,42.5 L524.1,42.5 L524.3,42.6 L524.4,42.7 L524.6,42.7 L524.8,42.8 L524.9,43.0 L525.1,43.1 L525.3,43.3 L525.4,43.4 L525.6,43.6 L525.8,43.8 L525.9,44.1 L526.1,44.3 L526.3,44.6 L526.4,44.8 L526.6,45.1 L526.8,45.4 L526.9,45.7 L527.1,46.0 L527.3,46.3 L527.4,46.6 L527.6,46.9 L527.8,47.2 L527.9,47.6 L528.1,47.9 L528.3,48.2 L528.4,48.6 L528.6,48.9 L528.8,49.3 L528.9,49.7 L529.1,50.1 L529.3,50.5 L529.4,51.0 L529.6,51.4 L529.8,51.9 L529.9,52.3 L530.1,52.8 L530.3,53.2 L530.4,53.7 L530.6,54.1 L530.8,54.6 L530.9,55.0 L531.1,55.4 L531.3,55.7 L531.4,56.1 L531.6,56.5 L531.8,56.8 L531.9,57.2 L532.1,57.5 L532.3,57.8 L532.4,58.1 L532.6,58.4 L532.8,58.7 L532.9,59.0 L533.1,59.3 L533.3,59.6 L533.4,59.8 L533.6,60.1 L533.8,60.4 L533.9,60.6 L534.1,60.8 L534.3,61.0 L534.4,61.3 L534.6,61.4 L534.8,61.6 L534.9,61.8 L535.1,61.9 L535.3,62.1 L535.4,62.2 L535.6,62.3 L535.8,62.4 L535.9,62.5 L536.1,62.5 L536.3,62.6 L536.4,62.6 L536.6,62.7 L536.8,62.7 L536.9,62.7 L537.1,62.7 L537.3,62.7 L537.4,62.7 L537.6,62.7 L537.8,62.7 L537.9,62.7 L538.1,62.7 L538.3,62.7 L538.5,62.7 L538.6,62.7 L538.8,62.7 L539.0,62.7 L539.1,62.8 L539.3,62.8 L539.5,62.8 L539.6,62.8 L539.8,62.8 L540.0,62.9 L540.1,62.9 L540.3,63.0 L540.5,63.0 L540.6,63.1 L540.8,63.2 L541.0,63.2 L541.1,63.3 L541.3,63.4 L541.5,63.4 L541.6,63.5 L541.8,63.5 L542.0,63.6 L542.1,63.6 L542.3,63.6 L542.5,63.6 L542.6,63.6 L542.8,63.6 L543.0,63.5 L543.1,63.5 L543.3,63.4 L543.5,63.3 L543.6,63.2 L543.8,63.1 L544.0,62.9 L544.1,62.8 L544.3,62.6 L544.5,62.5 L544.6,62.3 L544.8,62.1 L545.0,62.0 L545.1,61.8 L545.3,61.6 L545.5,61.5 L545.6,61.3 L545.8,61.2 L546.0,61.1 L546.1,60.9 L546.3,60.8 L546.5,60.7 L546.6,60.6 L546.8,60.5 L547.0,60.4 L547.1,60.3 L547.3,60.2 L547.5,60.2 L547.6,60.1 L547.8,60.0 L548.0,60.0 L548.1,59.9 L548.3,59.9 L548.5,59.8 L548.6,59.8 L548.8,59.7 L549.0,59.7 L549.1,59.6 L549.3,59.5 L549.5,59.5 L549.6,59.4 L549.8,59.3 L550.0,59.2 L550.1,59.2 L550.3,59.0 L550.5,58.9 L550.6,58.8 L550.8,58.7 L551.0,58.5 L551.1,58.3 L551.3,58.1 L551.5,57.9 L551.6,57.7 L551.8,57.4 L552.0,57.1 L552.1,56.8 L552.3,56.5 L552.5,56.1 L552.6,55.8 L552.8,55.4 L553.0,55.0 L553.1,54.6 L553.3,54.2 L553.5,53.7 L553.6,53.3 L553.8,52.8 L554.0,52.3 L554.1,51.8 L554.3,51.3 L554.5,50.8 L554.6,50.2 L554.8,49.6 L555.0,49.0 L555.1,48.4 L555.3,47.8 L555.5,47.1 L555.6,46.4 L555.8,45.7 L556.0,45.0 L556.1,44.2 L556.3,43.5 L556.5,42.7 L556.6,41.9 L556.8,41.2 L557.0,40.4 L557.1,39.6 L557.3,38.9 L557.5,38.1 L557.6,37.4 L557.8,36.7 L558.0,36.0 L558.1,35.3 L558.3,34.6 L558.5,34.0 L558.6,33.3 L558.8,32.7 L559.0,32.1 L559.1,31.4 L559.3,30.8 L559.5,30.1 L559.6,29.5 L559.8,28.8 L560.0,28.1 L560.1,27.3 L560.3,26.5 L560.5,25.7 L560.6,24.9 L560.8,24.0 L561.0,23.1 L561.1,22.3 L561.3,21.4 L561.5,20.6 L561.6,19.8 L561.8,19.1 L562.0,18.4 L562.1,17.8 L562.3,17.2 L562.5,16.7 L562.6,16.2 L562.8,15.7 L563.0,15.3 L563.1,15.0 L563.3,14.6 L563.5,14.3 L563.6,14.1 L563.8,13.9 L564.0,13.8 L564.1,13.7 L564.3,13.6 L564.5,13.6 L564.6,13.6 L564.8,13.7 L565.0,13.7 L565.1,13.9 L565.3,14.0 L565.5,14.2 L565.6,14.5 L565.8,14.7 L566.0,15.0 L566.1,15.4 L566.3,15.8 L566.5,16.2 L566.6,16.7 L566.8,17.2 L567.0,17.8 L567.1,18.4 L567.3,19.1 L567.5,19.8 L567.6,20.5 L567.8,21.3 L568.0,22.1 L568.1,22.8 L568.3,23.7 L568.5,24.5 L568.6,25.4 L568.8,26.4 L569.0,27.4 L569.1,28.4 L569.3,29.3 L569.5,30.3 L569.6,31.2 L569.8,32.1 L570.0,33.0 L570.1,33.9 L570.3,34.7 L570.5,35.5 L570.6,36.3 L570.8,37.1 L571.0,37.8 L571.1,38.5 L571.3,39.3 L571.5,40.0 L571.6,40.7 L571.8,41.4 L572.0,42.1 L572.1,42.8 L572.3,43.4 L572.5,44.1 L572.6,44.8 L572.8,45.5 L573.0,46.2 L573.1,46.9 L573.3,47.6 L573.5,48.3 L573.6,49.0 L573.8,49.7 L574.0,50.4 L574.1,51.0 L574.3,51.6 L574.5,52.2 L574.6,52.8 L574.8,53.4 L575.0,53.9 L575.1,54.4 L575.3,54.8 L575.5,55.2 L575.6,55.6 L575.8,55.9 L576.0,56.2 L576.1,56.5 L576.3,56.8 L576.5,57.0 L576.6,57.3 L576.8,57.5 L577.0,57.7 L577.1,57.9 L577.3,58.1 L577.5,58.3 L577.6,58.4 L577.8,58.6 L578.0,58.8 L578.2,58.9 L578.3,59.1 L578.5,59.3 L578.7,59.4 L578.8,59.6 L579.0,59.7 L579.2,59.9 L579.3,60.0 L579.5,60.1 L579.7,60.3 L579.8,60.4 L580.0,60.5 L580.2,60.6 L580.3,60.8 L580.5,60.9 L580.7,61.0 L580.8,61.1 L581.0,61.2 L581.2,61.3 L581.3,61.3 L581.5,61.4 L581.7,61.5 L581.8,61.6 L582.0,61.6 L582.2,61.7 L582.3,61.8 L582.5,61.8 L582.7,61.9 L582.8,62.0 L583.0,62.0 L583.2,62.1 L583.3,62.1 L583.5,62.1 L583.7,62.2 L583.8,62.2 L584.0,62.3 L584.2,62.3 L584.3,62.3 L584.5,62.4 L584.7,62.4 L584.8,62.4 L585.0,62.5 L585.2,62.5 L585.3,62.5 L585.5,62.6 L585.7,62.6 L585.8,62.6 L586.0,62.6 L586.2,62.7 L586.3,62.7 L586.5,62.8 L586.7,62.8 L586.8,62.9 L587.0,63.0 L587.2,63.1 L587.3,63.2 L587.5,63.3 L587.7,63.5 L587.8,63.6 L588.0,63.8 L588.2,63.9 L588.3,64.1 L588.5,64.2 L588.7,64.4 L588.8,64.6 L589.0,64.7 L589.2,64.9 L589.3,65.0 L589.5,65.2 L589.7,65.3 L589.8,65.5 L590.0,65.6 L590.2,65.7 L590.3,65.9 L590.5,66.0 L590.7,66.1 L590.8,66.2 L591.0,66.3 L591.2,66.4 L591.3,66.5 L591.5,66.6 L591.7,66.7 L591.8,66.8 L592.0,66.9 L592.2,67.0 L592.3,67.0 L592.5,67.1 L592.7,67.2 L592.8,67.2 L593.0,67.3 L593.2,67.3 L593.3,67.3 L593.5,67.4 L593.7,67.4 L593.8,67.4 L594.0,67.4 L594.2,67.5 L594.3,67.5 L594.5,67.5 L594.7,67.5 L594.8,67.4 L595.0,67.4 L595.2,67.4 L595.3,67.4 L595.5,67.4 L595.7,67.3 L595.8,67.3 L596.0,67.3 L596.2,67.2 L596.3,67.2 L596.5,67.1 L596.7,67.1 L596.8,67.0 L597.0,66.9 L597.2,66.9 L597.3,66.8 L597.5,66.7 L597.7,66.7 L597.8,66.6 L598.0,66.5 L598.2,66.4 L598.3,66.4 L598.5,66.3 L598.7,66.2 L598.8,66.1 L599.0,66.0 L599.2,65.9 L599.3,65.8 L599.5,65.7 L599.7,65.6 L599.8,65.6 L600.0,65.5 L600.2,65.4 L600.3,65.3 L600.5,65.2 L600.7,65.1 L600.8,65.0 L601.0,65.0 L601.2,64.9 L601.3,64.8 L601.5,64.8 L601.7,64.7 L601.8,64.7 L602.0,64.6 L602.2,64.6 L602.3,64.6 L602.5,64.5 L602.7,64.5 L602.8,64.5 L603.0,64.5 L603.2,64.6 L603.3,64.6 L603.5,64.6 L603.7,64.7 L603.8,64.7 L604.0,64.8 L604.2,64.9 L604.3,65.0 L604.5,65.1 L604.7,65.2 L604.8,65.3 L605.0,65.4 L605.2,65.6 L605.3,65.7 L605.5,65.9 L605.7,66.0 L605.8,66.1 L606.0,66.3 L606.2,66.4 L606.3,66.6 L606.5,66.7 L606.7,66.9 L606.8,67.0 L607.0,67.1 L607.2,67.3 L607.3,67.4 L607.5,67.5 L607.7,67.6 L607.8,67.7 L608.0,67.8 L608.2,67.9 L608.3,68.0 L608.5,68.1 L608.7,68.1 L608.8,68.2 L609.0,68.2 L609.2,68.2 L609.3,68.3 L609.5,68.3 L609.7,68.3 L609.8,68.3 L610.0,68.3 L610.2,68.2 L610.3,68.2 L610.5,68.2 L610.7,68.2 L610.8,68.1 L611.0,68.1 L611.2,68.0 L611.3,68.0 L611.5,68.0 L611.7,67.9 L611.8,67.9 L612.0,67.8 L612.2,67.8 L612.3,67.7 L612.5,67.7 L612.7,67.6 L612.8,67.6 L613.0,67.5 L613.2,67.5 L613.3,67.4 L613.5,67.4 L613.7,67.3 L613.8,67.3 L614.0,67.3 L614.2,67.2 L614.3,67.2 L614.5,67.2 L614.7,67.1 L614.8,67.1 L615.0,67.1 L615.2,67.0 L615.3,67.0 L615.5,66.9 L615.7,66.9 L615.8,66.9 L616.0,66.8 L616.2,66.8 L616.3,66.8 L616.5,66.7 L616.7,66.7 L616.8,66.6 L617.0,66.6 L617.2,66.6 L617.4,66.5 L617.5,66.5 L617.7,66.4 L617.9,66.4 L618.0,66.3 L618.2,66.3 L618.4,66.3 L618.5,66.2 L618.7,66.2 L618.9,66.1 L619.0,66.1 L619.2,66.1 L619.4,66.0 L619.5,66.0 L619.7,65.9 L619.9,65.9 L620.0,65.9 L620.2,65.9 L620.4,65.8 L620.5,65.8 L620.7,65.8 L620.9,65.8 L621.0,65.8 L621.2,65.8 L621.4,65.8 L621.5,65.8 L621.7,65.8 L621.9,65.8 L622.0,65.8 L622.2,65.8 L622.4,65.8 L622.5,65.8 L622.7,65.8 L622.9,65.8 L623.0,65.8 L623.2,65.8 L623.4,65.8 L623.5,65.9 L623.7,65.9 L623.9,65.9 L624.0,65.9 L624.2,65.9 L624.4,65.9 L624.5,65.9 L624.7,66.0 L624.9,66.0 L625.0,66.0 L625.2,66.0 L625.4,66.0 L625.5,66.0 L625.7,66.0 L625.9,66.0 L626.0,66.0 L626.2,66.0 L626.4,65.9 L626.5,65.9 L626.7,65.9 L626.9,65.9 L627.0,65.9 L627.2,65.9 L627.4,65.8 L627.5,65.8 L627.7,65.8 L627.9,65.8 L628.0,65.8 L628.2,65.8 L628.4,65.8 L628.5,65.8 L628.7,65.8 L628.9,65.8 L629.0,65.9 L629.2,65.9 L629.4,65.9 L629.5,66.0 L629.7,66.0 L629.9,66.1 L630.0,66.2 L630.2,66.3 L630.4,66.4 L630.5,66.4 L630.7,66.5 L630.9,66.6 L631.0,66.8 L631.2,66.9 L631.4,67.0 L631.5,67.1 L631.7,67.2 L631.9,67.3 L632.0,67.5 L632.2,67.6 L632.4,67.7 L632.5,67.8 L632.7,68.0 L632.9,68.1 L633.0,68.2 L633.2,68.3 L633.4,68.4 L633.5,68.5 L633.7,68.7 L633.9,68.8 L634.0,68.9 L634.2,69.0 L634.4,69.1 L634.5,69.2 L634.7,69.3 L634.9,69.4 L635.0,69.5 L635.2,69.7 L635.4,69.8 L635.5,69.9 L635.7,70.0 L635.9,70.1 L636.0,70.2 L636.2,70.4 L636.4,70.5 L636.5,70.6 L636.7,70.7 L636.9,70.9 L637.0,71.0 L637.2,71.1 L637.4,71.3 L637.5,71.4 L637.7,71.5 L637.9,71.7 L638.0,71.8 L638.2,72.0 L638.4,72.1 L638.5,72.2 L638.7,72.3 L638.9,72.5 L639.0,72.6 L639.2,72.7 L639.4,72.8 L639.5,72.9 L639.7,73.0 L639.9,73.0 L640.0,73.1 L640.2,73.2 L640.4,73.2 L640.5,73.2 L640.7,73.2 L640.9,73.2 L641.0,73.2 L641.2,73.2 L641.4,73.1 L641.5,73.1 L641.7,73.0 L641.9,72.9 L642.0,72.8 L642.2,72.6 L642.4,72.5 L642.5,72.3 L642.7,72.2 L642.9,72.0 L643.0,71.9 L643.2,71.7 L643.4,71.5 L643.5,71.3 L643.7,71.1 L643.9,71.0 L644.0,70.8 L644.2,70.6 L644.4,70.4 L644.5,70.3 L644.7,70.1 L644.9,69.9 L645.0,69.8 L645.2,69.6 L645.4,69.5 L645.5,69.4 L645.7,69.3 L645.9,69.1 L646.0,69.0 L646.2,68.9 L646.4,68.8 L646.5,68.8 L646.7,68.7 L646.9,68.6 L647.0,68.5 L647.2,68.4 L647.4,68.4 L647.5,68.3 L647.7,68.2 L647.9,68.2 L648.0,68.1 L648.2,68.0 L648.4,68.0 L648.5,67.9 L648.7,67.9 L648.9,67.8 L649.0,67.7 L649.2,67.7 L649.4,67.6 L649.5,67.5 L649.7,67.5 L649.9,67.4 L650.0,67.3 L650.2,67.2 L650.4,67.1 L650.5,67.0 L650.7,66.9 L650.9,66.8 L651.0,66.7 L651.2,66.6 L651.4,66.5 L651.5,66.4 L651.7,66.3 L651.9,66.2 L652.0,66.1 L652.2,66.0 L652.4,65.9 L652.5,65.8 L652.7,65.7 L652.9,65.6 L653.0,65.5 L653.2,65.4 L653.4,65.3 L653.5,65.3 L653.7,65.2 L653.9,65.2 L654.0,65.1 L654.2,65.1 L654.4,65.1 L654.5,65.1 L654.7,65.1 L654.9,65.1 L655.0,65.1 L655.2,65.1 L655.4,65.1 L655.5,65.2 L655.7,65.2 L655.9,65.3 L656.0,65.3 L656.2,65.4 L656.4,65.4 L656.5,65.5 L656.7,65.5 L656.9,65.6 L657.1,65.7 L657.2,65.7 L657.4,65.8 L657.6,65.9 L657.7,65.9 L657.9,66.0 L658.1,66.0 L658.2,66.1 L658.4,66.1 L658.6,66.2 L658.7,66.2 L658.9,66.2 L659.1,66.2 L659.2,66.3 L659.4,66.3 L659.6,66.3 L659.7,66.3 L659.9,66.3 L660.1,66.3 L660.2,66.4 L660.4,66.4 L660.6,66.4 L660.7,66.4 L660.9,66.4 L661.1,66.5 L661.2,66.5 L661.4,66.5 L661.6,66.6 L661.7,66.6 L661.9,66.7 L662.1,66.7 L662.2,66.8 L662.4,66.9 L662.6,67.0 L662.7,67.1 L662.9,67.2 L663.1,67.3 L663.2,67.4 L663.4,67.6 L663.6,67.7 L663.7,67.9 L663.9,68.0 L664.1,68.1 L664.2,68.3 L664.4,68.4 L664.6,68.6 L664.7,68.7 L664.9,68.9 L665.1,69.0 L665.2,69.2 L665.4,69.3 L665.6,69.5 L665.7,69.6 L665.9,69.7 L666.1,69.8 L666.2,70.0 L666.4,70.1 L666.6,70.2 L666.7,70.3 L666.9,70.4 L667.1,70.5 L667.2,70.6 L667.4,70.7 L667.6,70.8 L667.7,70.9 L667.9,71.0 L668.1,71.1 L668.2,71.2 L668.4,71.3 L668.6,71.4 L668.7,71.5 L668.9,71.6 L669.1,71.7 L669.2,71.7 L669.4,71.8 L669.6,71.9 L669.7,72.0 L669.9,72.1 L670.1,72.2 L670.2,72.2 L670.4,72.3 L670.6,72.4 L670.7,72.5 L670.9,72.5 L671.1,72.6 L671.2,72.7 L671.4,72.8 L671.6,72.9 L671.7,72.9 L671.9,73.0 L672.1,73.1 L672.2,73.2 L672.4,73.2 L672.6,73.3 L672.7,73.4 L672.9,73.5 L673.1,73.6 L673.2,73.7 L673.4,73.7 L673.6,73.8 L673.7,73.9 L673.9,74.0 L674.1,74.1 L674.2,74.2 L674.4,74.3 L674.6,74.3 L674.7,74.4 L674.9,74.5 L675.1,74.6 L675.2,74.7 L675.4,74.8 L675.6,74.9 L675.7,75.0 L675.9,75.1 L676.1,75.3 L676.2,75.4 L676.4,75.5 L676.6,75.6 L676.7,75.7 L676.9,75.8 L677.1,75.9 L677.2,76.0 L677.4,76.1 L677.6,76.2 L677.7,76.3 L677.9,76.4 L678.1,76.6 L678.2,76.7 L678.4,76.8 L678.6,76.9 L678.7,77.0 L678.9,77.1 L679.1,77.1 L679.2,77.2 L679.4,77.3 L679.6,77.4 L679.7,77.5 L679.9,77.6 L680.1,77.6 L680.2,77.7 L680.4,77.8 L680.6,77.8 L680.7,77.9 L680.9,78.0 L681.1,78.0 L681.2,78.1 L681.4,78.1 L681.6,78.1 L681.7,78.1 L681.9,78.2 L682.1,78.2 L682.2,78.2 L682.4,78.2 L682.6,78.2 L682.7,78.2 L682.9,78.2 L683.1,78.1 L683.2,78.1 L683.4,78.1 L683.6,78.0 L683.7,78.0 L683.9,78.0 L684.1,77.9 L684.2,77.8 L684.4,77.8 L684.6,77.7 L684.7,77.7 L684.9,77.6 L685.1,77.5 L685.2,77.4 L685.4,77.4 L685.6,77.3 L685.7,77.2 L685.9,77.1 L686.1,77.0 L686.2,76.9 L686.4,76.9 L686.6,76.8 L686.7,76.7 L686.9,76.6 L687.1,76.5 L687.2,76.4 L687.4,76.3 L687.6,76.2 L687.7,76.1 L687.9,76.0 L688.1,75.8 L688.2,75.7 L688.4,75.6 L688.6,75.5 L688.7,75.4 L688.9,75.3 L689.1,75.1 L689.2,75.0 L689.4,74.9 L689.6,74.8 L689.7,74.6 L689.9,74.5 L690.1,74.4 L690.2,74.2 L690.4,74.1 L690.6,73.9 L690.7,73.8 L690.9,73.6 L691.1,73.5 L691.2,73.3 L691.4,73.1 L691.6,73.0 L691.7,72.8 L691.9,72.6 L692.1,72.4 L692.2,72.3 L692.4,72.1 L692.6,71.9 L692.7,71.7 L692.9,71.5 L693.1,71.4 L693.2,71.2 L693.4,71.0 L693.6,70.8 L693.7,70.6 L693.9,70.4 L694.1,70.2 L694.2,70.0 L694.4,69.8 L694.6,69.6 L694.7,69.4 L694.9,69.1 L695.1,68.9 L695.2,68.7 L695.4,68.5 L695.6,68.3 L695.7,68.1 L695.9,67.9 L696.1,67.7 L696.2,67.4" stroke="#555" stroke-width="0.9" fill="none" stroke-dasharray="3.2 1.5"/>
<line x1="400.00" x2="696.25" y1="68.41" y2="68.41" stroke="#000" stroke-width="1.1" fill="none" stroke-dasharray="3.3 1.6"/>
<line x1="400.00" x2="696.25" y1="63.35" y2="63.35" stroke="#f00" stroke-width="1.0"/>
<path d="M500.42,63.06 L500.58,62.98 L500.75,62.88 L500.92,62.79 L501.09,62.69 L501.25,62.59 L501.42,62.49 L501.59,62.39 L501.75,62.29 L501.92,62.20 L502.09,62.11 L502.25,62.03 L502.42,61.96 L502.59,61.89 L502.75,61.84 L502.92,61.79 L503.09,61.76 L503.25,61.74 L503.42,61.73 L503.59,61.73 L503.75,61.75 L503.92,61.79 L504.09,61.83 L504.25,61.88 L504.42,61.95 L504.59,62.02 L504.76,62.10 L504.92,62.20 L505.09,62.29 L505.26,62.40 L505.42,62.51 L505.59,62.63 L505.76,62.75 L505.92,62.88 L506.09,63.01 L506.26,63.14" stroke="#000" stroke-width="2.6" fill="none" stroke-linejoin="round" stroke-linecap="round"/>
<path d="M512.26,63.86 L512.43,63.70 L512.60,63.52 L512.76,63.34 L512.93,63.15 L513.10,62.96 L513.26,62.75 L513.43,62.55 L513.60,62.34 L513.76,62.12 L513.93,61.90 L514.10,61.68 L514.26,61.47 L514.43,61.25 L514.60,61.03 L514.76,60.81 L514.93,60.60 L515.10,60.38 L515.26,60.15 L515.43,59.92 L515.60,59.67 L515.76,59.41 L515.93,59.13 L516.10,58.83 L516.26,58.51 L516.43,58.18 L516.60,57.83 L516.77,57.46 L516.93,57.09 L517.10,56.71 L517.27,56.33 L517.43,55.94 L517.60,55.53 L517.77,55.12 L517.93,54.68 L518.10,54.22 L518.27,53.74 L518.43,53.24 L518.60,52.72 L518.77,52.19 L518.93,51.66 L519.10,51.11 L519.27,50.58 L519.43,50.05 L519.60,49.53 L519.77,49.02 L519.93,48.54 L520.10,48.07 L520.27,47.63 L520.43,47.20 L520.60,46.78 L520.77,46.39 L520.94,46.00 L521.10,45.64 L521.27,45.29 L521.44,44.95 L521.60,44.63 L521.77,44.33 L521.94,44.05 L522.10,43.79 L522.27,43.55 L522.44,43.34 L522.60,43.15 L522.77,42.99 L522.94,42.85 L523.10,42.74 L523.27,42.65 L523.44,42.59 L523.60,42.55 L523.77,42.53 L523.94,42.53 L524.10,42.55 L524.27,42.59 L524.44,42.65 L524.61,42.74 L524.77,42.84 L524.94,42.96 L525.11,43.10 L525.27,43.26 L525.44,43.44 L525.61,43.64 L525.77,43.85 L525.94,44.07 L526.11,44.31 L526.27,44.57 L526.44,44.84 L526.61,45.12 L526.77,45.41 L526.94,45.70 L527.11,46.01 L527.27,46.31 L527.44,46.62 L527.61,46.93 L527.77,47.25 L527.94,47.56 L528.11,47.88 L528.27,48.21 L528.44,48.55 L528.61,48.91 L528.78,49.29 L528.94,49.68 L529.11,50.10 L529.28,50.53 L529.44,50.97 L529.61,51.42 L529.78,51.88 L529.94,52.34 L530.11,52.80 L530.28,53.25 L530.44,53.70 L530.61,54.13 L530.78,54.55 L530.94,54.96 L531.11,55.36 L531.28,55.74 L531.44,56.11 L531.61,56.47 L531.78,56.82 L531.94,57.16 L532.11,57.49 L532.28,57.82 L532.45,58.13 L532.61,58.43 L532.78,58.73 L532.95,59.02 L533.11,59.30 L533.28,59.58 L533.45,59.85 L533.61,60.11 L533.78,60.36 L533.95,60.60 L534.11,60.83 L534.28,61.05 L534.45,61.26 L534.61,61.45 L534.78,61.63 L534.95,61.80 L535.11,61.95 L535.28,62.08 L535.45,62.20 L535.61,62.31 L535.78,62.40 L535.95,62.47 L536.11,62.53 L536.28,62.58 L536.45,62.62 L536.62,62.66 L536.78,62.68 L536.95,62.70 L537.12,62.71 L537.28,62.71 L537.45,62.72 L537.62,62.72 L537.78,62.72 L537.95,62.72 L538.12,62.72 L538.28,62.72 L538.45,62.72 L538.62,62.72 L538.78,62.73 L538.95,62.74 L539.12,62.75 L539.28,62.77 L539.45,62.79 L539.62,62.82 L539.78,62.85 L539.95,62.89 L540.12,62.93 L540.29,62.98 L540.45,63.04 L540.62,63.10 L540.79,63.17 L540.95,63.23 L541.12,63.29 L541.29,63.36" stroke="#000" stroke-width="2.6" fill="none" stroke-linejoin="round" stroke-linecap="round"/>
<path d="M543.12,63.49 L543.29,63.42 L543.45,63.32 L543.62,63.21 L543.79,63.08 L543.95,62.94 L544.12,62.79 L544.29,62.62 L544.46,62.46 L544.62,62.29 L544.79,62.12 L544.96,61.95 L545.12,61.79 L545.29,61.63 L545.46,61.48 L545.62,61.34 L545.79,61.20 L545.96,61.07 L546.12,60.95 L546.29,60.83 L546.46,60.72 L546.62,60.61 L546.79,60.51 L546.96,60.42 L547.12,60.33 L547.29,60.25 L547.46,60.17 L547.62,60.10 L547.79,60.04 L547.96,59.98 L548.12,59.92 L548.29,59.87 L548.46,59.82 L548.63,59.77 L548.79,59.71 L548.96,59.66 L549.13,59.61 L549.29,59.55 L549.46,59.48 L549.63,59.41 L549.79,59.33 L549.96,59.25 L550.13,59.15 L550.29,59.05 L550.46,58.93 L550.63,58.80 L550.79,58.65 L550.96,58.49 L551.13,58.31 L551.29,58.11 L551.46,57.89 L551.63,57.65 L551.79,57.39 L551.96,57.11 L552.13,56.80 L552.30,56.48 L552.46,56.13 L552.63,55.77 L552.80,55.39 L552.96,54.99 L553.13,54.58 L553.30,54.16 L553.46,53.72 L553.63,53.27 L553.80,52.81 L553.96,52.33 L554.13,51.83 L554.30,51.31 L554.46,50.78 L554.63,50.22 L554.80,49.64 L554.96,49.03 L555.13,48.40 L555.30,47.75 L555.46,47.08 L555.63,46.39 L555.80,45.68 L555.96,44.96 L556.13,44.22 L556.30,43.47 L556.47,42.71 L556.63,41.95 L556.80,41.18 L556.97,40.41 L557.13,39.65 L557.30,38.89 L557.47,38.14 L557.63,37.40 L557.80,36.69 L557.97,35.99 L558.13,35.31 L558.30,34.64 L558.47,33.99 L558.63,33.35 L558.80,32.71 L558.97,32.08 L559.13,31.44 L559.30,30.80 L559.47,30.15 L559.63,29.48 L559.80,28.79 L559.97,28.07 L560.14,27.31 L560.30,26.52 L560.47,25.70 L560.64,24.86 L560.80,24.00 L560.97,23.14 L561.14,22.28 L561.30,21.43 L561.47,20.61 L561.64,19.82 L561.80,19.08 L561.97,18.39 L562.14,17.76 L562.30,17.18 L562.47,16.65 L562.64,16.17 L562.80,15.73 L562.97,15.32 L563.14,14.95 L563.30,14.63 L563.47,14.34 L563.64,14.10 L563.80,13.90 L563.97,13.76 L564.14,13.65 L564.31,13.59 L564.47,13.57 L564.64,13.59 L564.81,13.65 L564.97,13.74 L565.14,13.87 L565.31,14.03 L565.47,14.23 L565.64,14.45 L565.81,14.72 L565.97,15.03 L566.14,15.38 L566.31,15.78 L566.47,16.22 L566.64,16.71 L566.81,17.24 L566.97,17.82 L567.14,18.44 L567.31,19.10 L567.47,19.80 L567.64,20.53 L567.81,21.28 L567.98,22.06 L568.14,22.85 L568.31,23.66 L568.48,24.52 L568.64,25.42 L568.81,26.38 L568.98,27.37 L569.14,28.36 L569.31,29.34 L569.48,30.30 L569.64,31.23 L569.81,32.14 L569.98,33.03 L570.14,33.89 L570.31,34.72 L570.48,35.53 L570.64,36.31 L570.81,37.08 L570.98,37.82 L571.14,38.55 L571.31,39.27 L571.48,39.97 L571.64,40.67 L571.81,41.37 L571.98,42.06 L572.15,42.75 L572.31,43.45 L572.48,44.14 L572.65,44.84 L572.81,45.54 L572.98,46.24 L573.15,46.94 L573.31,47.64 L573.48,48.33 L573.65,49.02 L573.81,49.69 L573.98,50.36 L574.15,51.00 L574.31,51.63 L574.48,52.24 L574.65,52.81 L574.81,53.36 L574.98,53.88 L575.15,54.35 L575.31,54.79 L575.48,55.20 L575.65,55.57 L575.82,55.91 L575.98,56.23 L576.15,56.52 L576.32,56.79 L576.48,57.03 L576.65,57.26 L576.82,57.48 L576.98,57.68 L577.15,57.88 L577.32,58.07 L577.48,58.25 L577.65,58.43 L577.82,58.61 L577.98,58.78 L578.15,58.95 L578.32,59.11 L578.48,59.27 L578.65,59.43 L578.82,59.58 L578.98,59.73 L579.15,59.87 L579.32,60.01 L579.48,60.14 L579.65,60.28 L579.82,60.40 L579.99,60.52 L580.15,60.64 L580.32,60.75 L580.49,60.86 L580.65,60.97 L580.82,61.07 L580.99,61.16 L581.15,61.25 L581.32,61.34 L581.49,61.42 L581.65,61.50 L581.82,61.58 L581.99,61.65 L582.15,61.71 L582.32,61.78 L582.49,61.84 L582.65,61.90 L582.82,61.95 L582.99,62.00 L583.15,62.05 L583.32,62.10 L583.49,62.15 L583.65,62.19 L583.82,62.23 L583.99,62.27 L584.16,62.30 L584.32,62.34 L584.49,62.37 L584.66,62.41 L584.82,62.44 L584.99,62.47 L585.16,62.50 L585.32,62.52 L585.49,62.55 L585.66,62.58 L585.82,62.61 L585.99,62.65 L586.16,62.69 L586.32,62.73 L586.49,62.79 L586.66,62.85 L586.82,62.92 L586.99,63.01 L587.16,63.10" stroke="#000" stroke-width="2.6" fill="none" stroke-linejoin="round" stroke-linecap="round"/>
</g>
<g clip-path="url(#cR1)">
<path d="M399.8,120.2 L400.0,119.9 L400.1,119.6 L400.3,119.2 L400.5,118.9 L400.6,118.6 L400.8,118.3 L401.0,118.0 L401.1,117.7 L401.3,117.4 L401.5,117.2 L401.6,116.9 L401.8,116.6 L402.0,116.4 L402.1,116.2 L402.3,115.9 L402.5,115.7 L402.6,115.5 L402.8,115.3 L403.0,115.1 L403.1,115.0 L403.3,114.8 L403.5,114.6 L403.6,114.5 L403.8,114.3 L404.0,114.1 L404.1,113.9 L404.3,113.7 L404.5,113.5 L404.6,113.2 L404.8,113.0 L405.0,112.7 L405.1,112.4 L405.3,112.1 L405.5,111.7 L405.6,111.3 L405.8,110.9 L406.0,110.5 L406.1,110.0 L406.3,109.6 L406.5,109.2 L406.6,108.8 L406.8,108.6 L407.0,108.3 L407.1,108.2 L407.3,108.2 L407.5,108.3 L407.6,108.5 L407.8,108.7 L408.0,109.1 L408.1,109.6 L408.3,110.0 L408.5,110.5 L408.6,111.0 L408.8,111.5 L409.0,111.9 L409.1,112.3 L409.3,112.6 L409.5,112.8 L409.6,113.0 L409.8,113.0 L410.0,113.0 L410.1,112.9 L410.3,112.7 L410.5,112.5 L410.6,112.2 L410.8,111.9 L411.0,111.5 L411.1,111.1 L411.3,110.6 L411.5,110.2 L411.6,109.7 L411.8,109.2 L412.0,108.7 L412.1,108.1 L412.3,107.6 L412.5,107.1 L412.6,106.6 L412.8,106.1 L413.0,105.6 L413.1,105.1 L413.3,104.7 L413.5,104.3 L413.6,103.9 L413.8,103.6 L414.0,103.3 L414.1,103.0 L414.3,102.8 L414.5,102.7 L414.6,102.6 L414.8,102.6 L415.0,102.6 L415.1,102.7 L415.3,102.9 L415.5,103.1 L415.6,103.4 L415.8,103.7 L416.0,104.1 L416.1,104.6 L416.3,105.0 L416.5,105.5 L416.6,106.0 L416.8,106.6 L417.0,107.1 L417.1,107.7 L417.3,108.3 L417.5,108.8 L417.6,109.4 L417.8,110.0 L418.0,110.5 L418.1,111.1 L418.3,111.6 L418.5,112.2 L418.7,112.7 L418.8,113.3 L419.0,113.8 L419.2,114.4 L419.3,114.9 L419.5,115.5 L419.7,116.0 L419.8,116.6 L420.0,117.1 L420.2,117.5 L420.3,117.9 L420.5,118.2 L420.7,118.5 L420.8,118.6 L421.0,118.6 L421.2,118.5 L421.3,118.3 L421.5,117.9 L421.7,117.3 L421.8,116.7 L422.0,116.0 L422.2,115.2 L422.3,114.4 L422.5,113.7 L422.7,112.9 L422.8,112.1 L423.0,111.5 L423.2,110.9 L423.3,110.4 L423.5,110.1 L423.7,109.9 L423.8,109.9 L424.0,110.1 L424.2,110.5 L424.3,111.1 L424.5,111.7 L424.7,112.5 L424.8,113.3 L425.0,114.2 L425.2,115.1 L425.3,116.0 L425.5,116.9 L425.7,117.6 L425.8,118.3 L426.0,118.9 L426.2,119.4 L426.3,119.6 L426.5,119.7 L426.7,119.6 L426.8,119.4 L427.0,119.0 L427.2,118.6 L427.3,118.0 L427.5,117.4 L427.7,116.8 L427.8,116.1 L428.0,115.4 L428.2,114.7 L428.3,114.1 L428.5,113.6 L428.7,113.1 L428.8,112.7 L429.0,112.5 L429.2,112.4 L429.3,112.4 L429.5,112.5 L429.7,112.7 L429.8,113.0 L430.0,113.4 L430.2,113.9 L430.3,114.4 L430.5,115.0 L430.7,115.6 L430.8,116.3 L431.0,117.0 L431.2,117.8 L431.3,118.5 L431.5,119.2 L431.7,120.0 L431.8,120.7 L432.0,121.3 L432.2,122.0 L432.3,122.6 L432.5,123.1 L432.7,123.6 L432.8,124.0 L433.0,124.3 L433.2,124.5 L433.3,124.6 L433.5,124.6 L433.7,124.4 L433.8,124.2 L434.0,123.7 L434.2,123.2 L434.3,122.5 L434.5,121.7 L434.7,120.9 L434.8,120.0 L435.0,119.0 L435.2,118.0 L435.3,117.0 L435.5,116.0 L435.7,115.0 L435.8,114.0 L436.0,113.1 L436.2,112.3 L436.3,111.6 L436.5,111.0 L436.7,110.6 L436.8,110.2 L437.0,110.1 L437.2,110.1 L437.3,110.3 L437.5,110.7 L437.7,111.2 L437.8,111.8 L438.0,112.5 L438.2,113.4 L438.3,114.3 L438.5,115.2 L438.7,116.2 L438.8,117.3 L439.0,118.4 L439.2,119.4 L439.3,120.5 L439.5,121.5 L439.7,122.5 L439.8,123.4 L440.0,124.3 L440.2,125.1 L440.3,125.8 L440.5,126.4 L440.7,126.8 L440.8,127.2 L441.0,127.3 L441.2,127.4 L441.3,127.3 L441.5,127.1 L441.7,126.8 L441.8,126.5 L442.0,126.0 L442.2,125.5 L442.3,124.9 L442.5,124.3 L442.7,123.7 L442.8,123.0 L443.0,122.3 L443.2,121.7 L443.3,121.0 L443.5,120.4 L443.7,119.9 L443.8,119.3 L444.0,118.9 L444.2,118.5 L444.3,118.2 L444.5,117.9 L444.7,117.7 L444.8,117.6 L445.0,117.4 L445.2,117.3 L445.3,117.2 L445.5,117.1 L445.7,117.1 L445.8,117.0 L446.0,116.9 L446.2,116.7 L446.3,116.6 L446.5,116.4 L446.7,116.1 L446.8,115.8 L447.0,115.4 L447.2,115.0 L447.3,114.5 L447.5,113.9 L447.7,113.3 L447.8,112.6 L448.0,112.0 L448.2,111.3 L448.3,110.6 L448.5,110.0 L448.7,109.4 L448.8,108.9 L449.0,108.4 L449.2,108.1 L449.3,107.8 L449.5,107.6 L449.7,107.6 L449.8,107.7 L450.0,107.9 L450.2,108.2 L450.3,108.5 L450.5,108.9 L450.7,109.4 L450.8,109.8 L451.0,110.3 L451.2,110.7 L451.3,111.1 L451.5,111.4 L451.7,111.7 L451.8,111.8 L452.0,112.0 L452.2,112.0 L452.3,112.0 L452.5,111.9 L452.7,111.8 L452.8,111.6 L453.0,111.4 L453.2,111.1 L453.3,110.8 L453.5,110.5 L453.7,110.2 L453.8,109.8 L454.0,109.4 L454.2,109.0 L454.3,108.6 L454.5,108.2 L454.7,107.8 L454.8,107.4 L455.0,107.0 L455.2,106.6 L455.3,106.2 L455.5,105.9 L455.7,105.5 L455.9,105.3 L456.0,105.0 L456.2,104.8 L456.4,104.6 L456.5,104.4 L456.7,104.4 L456.9,104.3 L457.0,104.3 L457.2,104.4 L457.4,104.5 L457.5,104.7 L457.7,104.9 L457.9,105.1 L458.0,105.4 L458.2,105.7 L458.4,106.0 L458.5,106.3 L458.7,106.7 L458.9,107.1 L459.0,107.6 L459.2,108.0 L459.4,108.5 L459.5,109.0 L459.7,109.5 L459.9,110.0 L460.0,110.5 L460.2,111.0 L460.4,111.5 L460.5,112.0 L460.7,112.5 L460.9,113.0 L461.0,113.4 L461.2,113.8 L461.4,114.2 L461.5,114.6 L461.7,114.9 L461.9,115.2 L462.0,115.4 L462.2,115.6 L462.4,115.8 L462.5,115.8 L462.7,115.8 L462.9,115.8 L463.0,115.6 L463.2,115.4 L463.4,115.2 L463.5,114.9 L463.7,114.6 L463.9,114.2 L464.0,113.8 L464.2,113.4 L464.4,113.0 L464.5,112.5 L464.7,112.1 L464.9,111.7 L465.0,111.3 L465.2,110.9 L465.4,110.6 L465.5,110.3 L465.7,110.0 L465.9,109.8 L466.0,109.7 L466.2,109.6 L466.4,109.6 L466.5,109.7 L466.7,109.9 L466.9,110.2 L467.0,110.5 L467.2,110.9 L467.4,111.4 L467.5,111.9 L467.7,112.4 L467.9,113.0 L468.0,113.6 L468.2,114.1 L468.4,114.6 L468.5,115.1 L468.7,115.6 L468.9,116.0 L469.0,116.3 L469.2,116.6 L469.4,116.8 L469.5,116.9 L469.7,116.8 L469.9,116.7 L470.0,116.5 L470.2,116.3 L470.4,116.0 L470.5,115.6 L470.7,115.2 L470.9,114.8 L471.0,114.3 L471.2,113.8 L471.4,113.3 L471.5,112.9 L471.7,112.4 L471.9,111.9 L472.0,111.5 L472.2,111.1 L472.4,110.8 L472.5,110.5 L472.7,110.3 L472.9,110.2 L473.0,110.2 L473.2,110.2 L473.4,110.3 L473.5,110.6 L473.7,110.9 L473.9,111.3 L474.0,111.8 L474.2,112.3 L474.4,112.9 L474.5,113.5 L474.7,114.2 L474.9,114.9 L475.0,115.6 L475.2,116.3 L475.4,117.0 L475.5,117.8 L475.7,118.5 L475.9,119.1 L476.0,119.8 L476.2,120.4 L476.4,121.0 L476.5,121.5 L476.7,121.9 L476.9,122.3 L477.0,122.6 L477.2,122.8 L477.4,122.9 L477.5,122.9 L477.7,122.9 L477.9,122.8 L478.0,122.6 L478.2,122.4 L478.4,122.2 L478.5,121.9 L478.7,121.6 L478.9,121.2 L479.0,120.8 L479.2,120.4 L479.4,120.0 L479.5,119.6 L479.7,119.2 L479.9,118.8 L480.0,118.4 L480.2,118.0 L480.4,117.6 L480.5,117.3 L480.7,117.0 L480.9,116.7 L481.0,116.5 L481.2,116.3 L481.4,116.1 L481.5,116.0 L481.7,115.9 L481.9,115.9 L482.0,115.8 L482.2,115.8 L482.4,115.8 L482.5,115.9 L482.7,115.9 L482.9,116.0 L483.0,116.1 L483.2,116.2 L483.4,116.3 L483.5,116.4 L483.7,116.5 L483.9,116.6 L484.0,116.7 L484.2,116.8 L484.4,116.9 L484.5,117.0 L484.7,117.1 L484.9,117.2 L485.0,117.2 L485.2,117.3 L485.4,117.3 L485.5,117.3 L485.7,117.2 L485.9,117.2 L486.0,117.1 L486.2,117.0 L486.4,116.8 L486.5,116.6 L486.7,116.4 L486.9,116.2 L487.0,115.9 L487.2,115.6 L487.4,115.3 L487.5,114.9 L487.7,114.6 L487.9,114.2 L488.0,113.8 L488.2,113.5 L488.4,113.1 L488.5,112.7 L488.7,112.4 L488.9,112.0 L489.0,111.7 L489.2,111.4 L489.4,111.1 L489.5,110.8 L489.7,110.5 L489.9,110.3 L490.0,110.1 L490.2,110.0 L490.4,109.9 L490.5,109.8 L490.7,109.8 L490.9,109.8 L491.0,109.9 L491.2,110.0 L491.4,110.1 L491.5,110.3 L491.7,110.5 L491.9,110.7 L492.0,111.0 L492.2,111.2 L492.4,111.5 L492.6,111.8 L492.7,112.1 L492.9,112.3 L493.1,112.6 L493.2,112.9 L493.4,113.2 L493.6,113.4 L493.7,113.7 L493.9,113.9 L494.1,114.1 L494.2,114.2 L494.4,114.3 L494.6,114.5 L494.7,114.5 L494.9,114.6 L495.1,114.6 L495.2,114.6 L495.4,114.5 L495.6,114.5 L495.7,114.4 L495.9,114.2 L496.1,114.1 L496.2,113.9 L496.4,113.7 L496.6,113.4 L496.7,113.1 L496.9,112.8 L497.1,112.5 L497.2,112.1 L497.4,111.7 L497.6,111.3 L497.7,110.9 L497.9,110.5 L498.1,110.1 L498.2,109.7 L498.4,109.3 L498.6,109.0 L498.7,108.6 L498.9,108.3 L499.1,108.0 L499.2,107.8 L499.4,107.6 L499.6,107.4 L499.7,107.3 L499.9,107.3 L500.1,107.3 L500.2,107.4 L500.4,107.6 L500.6,107.8 L500.7,108.2 L500.9,108.6 L501.1,109.1 L501.2,109.6 L501.4,110.2 L501.6,110.9 L501.7,111.6 L501.9,112.4 L502.1,113.1 L502.2,113.9 L502.4,114.7 L502.6,115.6 L502.7,116.4 L502.9,117.2 L503.1,118.0 L503.2,118.8 L503.4,119.5 L503.6,120.2 L503.7,120.9 L503.9,121.6 L504.1,122.2 L504.2,122.8 L504.4,123.3 L504.6,123.8 L504.7,124.3 L504.9,124.7 L505.1,125.1 L505.2,125.4 L505.4,125.7 L505.6,125.9 L505.7,126.1 L505.9,126.2 L506.1,126.2 L506.2,126.2 L506.4,126.1 L506.6,125.9 L506.7,125.7 L506.9,125.4 L507.1,125.1 L507.2,124.7 L507.4,124.3 L507.6,123.8 L507.7,123.2 L507.9,122.6 L508.1,122.0 L508.2,121.3 L508.4,120.6 L508.6,119.8 L508.7,119.1 L508.9,118.2 L509.1,117.4 L509.2,116.5 L509.4,115.6 L509.6,114.6 L509.7,113.7 L509.9,112.8 L510.1,111.9 L510.2,111.0 L510.4,110.1 L510.6,109.2 L510.7,108.4 L510.9,107.7 L511.1,107.0 L511.2,106.3 L511.4,105.7 L511.6,105.2 L511.7,104.8 L511.9,104.5 L512.1,104.3 L512.2,104.1 L512.4,104.1 L512.6,104.0 L512.7,104.0 L512.9,104.1 L513.1,104.1 L513.2,104.2 L513.4,104.2 L513.6,104.1 L513.7,104.0 L513.9,103.9 L514.1,103.6 L514.2,103.3 L514.4,102.8 L514.6,102.2 L514.7,101.4 L514.9,100.5 L515.1,99.5 L515.2,98.3 L515.4,97.0 L515.6,95.7 L515.7,94.3 L515.9,92.9 L516.1,91.5 L516.2,90.1 L516.4,88.8 L516.6,87.5 L516.7,86.3 L516.9,85.2 L517.1,84.2 L517.2,83.3 L517.4,82.7 L517.6,82.2 L517.7,81.9 L517.9,81.8 L518.1,81.8 L518.2,82.0 L518.4,82.3 L518.6,82.8 L518.7,83.3 L518.9,84.0 L519.1,84.8 L519.2,85.7 L519.4,86.7 L519.6,87.8 L519.7,88.9 L519.9,90.0 L520.1,91.3 L520.2,92.5 L520.4,93.8 L520.6,95.1 L520.7,96.4 L520.9,97.8 L521.1,99.2 L521.2,100.5 L521.4,101.9 L521.6,103.3 L521.7,104.7 L521.9,106.1 L522.1,107.5 L522.2,108.9 L522.4,110.3 L522.6,111.7 L522.7,113.1 L522.9,114.4 L523.1,115.7 L523.2,117.0 L523.4,118.3 L523.6,119.6 L523.7,120.8 L523.9,122.0 L524.1,123.1 L524.2,124.2 L524.4,125.3 L524.6,126.3 L524.7,127.3 L524.9,128.2 L525.1,129.1 L525.2,129.9 L525.4,130.7 L525.6,131.4 L525.7,132.2 L525.9,132.9 L526.1,133.5 L526.2,134.2 L526.4,134.8 L526.6,135.3 L526.7,135.9 L526.9,136.4 L527.1,136.9 L527.2,137.4 L527.4,137.8 L527.6,138.3 L527.7,138.7 L527.9,139.1 L528.1,139.5 L528.2,139.9 L528.4,140.2 L528.6,140.6 L528.7,140.9 L528.9,141.1 L529.1,141.4 L529.2,141.5 L529.4,141.6 L529.6,141.7 L529.8,141.7 L529.9,141.6 L530.1,141.5 L530.3,141.3 L530.4,141.1 L530.6,140.8 L530.8,140.4 L530.9,140.1 L531.1,139.7 L531.3,139.2 L531.4,138.8 L531.6,138.3 L531.8,137.8 L531.9,137.2 L532.1,136.7 L532.3,136.1 L532.4,135.6 L532.6,135.0 L532.8,134.4 L532.9,133.9 L533.1,133.3 L533.3,132.7 L533.4,132.2 L533.6,131.7 L533.8,131.1 L533.9,130.6 L534.1,130.0 L534.3,129.5 L534.4,129.0 L534.6,128.5 L534.8,128.0 L534.9,127.5 L535.1,127.0 L535.3,126.5 L535.4,126.0 L535.6,125.5 L535.8,125.0 L535.9,124.5 L536.1,124.0 L536.3,123.6 L536.4,123.1 L536.6,122.6 L536.8,122.2 L536.9,121.7 L537.1,121.3 L537.3,120.9 L537.4,120.4 L537.6,120.0 L537.8,119.6 L537.9,119.2 L538.1,118.8 L538.3,118.4 L538.4,118.0 L538.6,117.6 L538.8,117.2 L538.9,116.8 L539.1,116.5 L539.3,116.1 L539.4,115.8 L539.6,115.4 L539.8,115.1 L539.9,114.7 L540.1,114.4 L540.3,114.1 L540.4,113.8 L540.6,113.5 L540.8,113.2 L540.9,112.9 L541.1,112.6 L541.3,112.3 L541.4,112.0 L541.6,111.8 L541.8,111.5 L541.9,111.3 L542.1,111.0 L542.3,110.8 L542.4,110.5 L542.6,110.3 L542.8,110.1 L542.9,109.9 L543.1,109.7 L543.3,109.5 L543.4,109.3 L543.6,109.1 L543.8,108.9 L543.9,108.7 L544.1,108.5 L544.3,108.3 L544.4,108.1 L544.6,107.9 L544.8,107.7 L544.9,107.5 L545.1,107.3 L545.3,107.1 L545.4,106.9 L545.6,106.7 L545.8,106.5 L545.9,106.3 L546.1,106.1 L546.3,105.9 L546.4,105.6 L546.6,105.4 L546.8,105.2 L546.9,104.9 L547.1,104.6 L547.3,104.4 L547.4,104.1 L547.6,103.8 L547.8,103.5 L547.9,103.2 L548.1,102.9 L548.3,102.5 L548.4,102.2 L548.6,101.8 L548.8,101.4 L548.9,101.0 L549.1,100.6 L549.3,100.2 L549.4,99.8 L549.6,99.3 L549.8,98.8 L549.9,98.3 L550.1,97.8 L550.3,97.3 L550.4,96.7 L550.6,96.1 L550.8,95.5 L550.9,94.9 L551.1,94.3 L551.3,93.6 L551.4,92.9 L551.6,92.2 L551.8,91.4 L551.9,90.7 L552.1,89.9 L552.3,89.1 L552.4,88.3 L552.6,87.5 L552.8,86.7 L552.9,85.8 L553.1,85.0 L553.3,84.2 L553.4,83.4 L553.6,82.6 L553.8,81.9 L553.9,81.1 L554.1,80.4 L554.3,79.8 L554.4,79.1 L554.6,78.5 L554.8,77.9 L554.9,77.4 L555.1,76.9 L555.3,76.5 L555.4,76.1 L555.6,75.8 L555.8,75.6 L555.9,75.4 L556.1,75.2 L556.3,75.1 L556.4,75.1 L556.6,75.1 L556.8,75.1 L556.9,75.2 L557.1,75.3 L557.3,75.4 L557.4,75.6 L557.6,75.8 L557.8,76.0 L557.9,76.2 L558.1,76.5 L558.3,76.7 L558.4,77.0 L558.6,77.4 L558.8,77.7 L558.9,78.1 L559.1,78.6 L559.3,79.1 L559.4,79.6 L559.6,80.2 L559.8,80.8 L559.9,81.5 L560.1,82.3 L560.3,83.1 L560.4,84.0 L560.6,84.9 L560.8,85.9 L560.9,87.0 L561.1,88.2 L561.3,89.4 L561.4,90.7 L561.6,92.1 L561.8,93.6 L561.9,95.0 L562.1,96.6 L562.3,98.1 L562.4,99.7 L562.6,101.3 L562.8,102.9 L562.9,104.6 L563.1,106.2 L563.3,107.9 L563.4,109.5 L563.6,111.1 L563.8,112.7 L563.9,114.3 L564.1,115.8 L564.3,117.3 L564.4,118.8 L564.6,120.2 L564.8,121.6 L564.9,123.0 L565.1,124.3 L565.3,125.6 L565.4,126.8 L565.6,128.1 L565.8,129.3 L565.9,130.5 L566.1,131.6 L566.3,132.8 L566.4,133.9 L566.6,135.0 L566.8,136.0 L567.0,137.1 L567.1,138.1 L567.3,139.2 L567.5,140.2 L567.6,141.2 L567.8,142.2 L568.0,143.1 L568.1,144.1 L568.3,145.1 L568.5,146.0 L568.6,146.9 L568.8,147.9 L569.0,148.7 L569.1,149.6 L569.3,150.4 L569.5,151.2 L569.6,152.0 L569.8,152.7 L570.0,153.3 L570.1,153.9 L570.3,154.4 L570.5,154.9 L570.6,155.3 L570.8,155.6 L571.0,155.9 L571.1,156.0 L571.3,156.1 L571.5,156.1 L571.6,156.0 L571.8,155.8 L572.0,155.6 L572.1,155.2 L572.3,154.8 L572.5,154.3 L572.6,153.8 L572.8,153.1 L573.0,152.4 L573.1,151.7 L573.3,150.8 L573.5,149.9 L573.6,148.9 L573.8,147.8 L574.0,146.7 L574.1,145.5 L574.3,144.3 L574.5,143.0 L574.6,141.6 L574.8,140.3 L575.0,138.9 L575.1,137.5 L575.3,136.1 L575.5,134.7 L575.6,133.4 L575.8,132.1 L576.0,130.8 L576.1,129.5 L576.3,128.3 L576.5,127.2 L576.6,126.2 L576.8,125.2 L577.0,124.4 L577.1,123.6 L577.3,122.9 L577.5,122.3 L577.6,121.8 L577.8,121.4 L578.0,121.0 L578.1,120.7 L578.3,120.4 L578.5,120.1 L578.6,120.0 L578.8,119.8 L579.0,119.7 L579.1,119.6 L579.3,119.5 L579.5,119.4 L579.6,119.4 L579.8,119.3 L580.0,119.3 L580.1,119.2 L580.3,119.1 L580.5,119.1 L580.6,119.0 L580.8,118.9 L581.0,118.8 L581.1,118.8 L581.3,118.7 L581.5,118.6 L581.6,118.5 L581.8,118.4 L582.0,118.4 L582.1,118.3 L582.3,118.2 L582.5,118.2 L582.6,118.1 L582.8,118.0 L583.0,118.0 L583.1,118.0 L583.3,117.9 L583.5,117.9 L583.6,117.9 L583.8,117.9 L584.0,117.9 L584.1,117.9 L584.3,118.0 L584.5,118.0 L584.6,118.1 L584.8,118.2 L585.0,118.3 L585.1,118.4 L585.3,118.5 L585.5,118.6 L585.6,118.7 L585.8,118.8 L586.0,118.9 L586.1,119.0 L586.3,119.1 L586.5,119.2 L586.6,119.2 L586.8,119.2 L587.0,119.2 L587.1,119.2 L587.3,119.2 L587.5,119.2 L587.6,119.1 L587.8,119.1 L588.0,119.0 L588.1,119.0 L588.3,118.9 L588.5,118.9 L588.6,118.8 L588.8,118.7 L589.0,118.7 L589.1,118.6 L589.3,118.6 L589.5,118.5 L589.6,118.5 L589.8,118.5 L590.0,118.5 L590.1,118.5 L590.3,118.5 L590.5,118.5 L590.6,118.5 L590.8,118.6 L591.0,118.7 L591.1,118.8 L591.3,118.9 L591.5,119.0 L591.6,119.2 L591.8,119.4 L592.0,119.6 L592.1,119.9 L592.3,120.1 L592.5,120.4 L592.6,120.8 L592.8,121.2 L593.0,121.5 L593.1,121.9 L593.3,122.3 L593.5,122.6 L593.6,122.9 L593.8,123.1 L594.0,123.3 L594.1,123.3 L594.3,123.2 L594.5,123.0 L594.6,122.7 L594.8,122.2 L595.0,121.7 L595.1,121.0 L595.3,120.2 L595.5,119.4 L595.6,118.6 L595.8,117.7 L596.0,116.9 L596.1,116.0 L596.3,115.2 L596.5,114.5 L596.6,113.8 L596.8,113.2 L597.0,112.7 L597.1,112.2 L597.3,111.8 L597.5,111.5 L597.6,111.2 L597.8,110.9 L598.0,110.7 L598.1,110.6 L598.3,110.5 L598.5,110.4 L598.6,110.3 L598.8,110.3 L599.0,110.3 L599.1,110.3 L599.3,110.3 L599.5,110.3 L599.6,110.4 L599.8,110.4 L600.0,110.5 L600.1,110.5 L600.3,110.6 L600.5,110.6 L600.6,110.7 L600.8,110.8 L601.0,110.9 L601.1,111.0 L601.3,111.1 L601.5,111.2 L601.6,111.3 L601.8,111.5 L602.0,111.7 L602.1,111.9 L602.3,112.1 L602.5,112.3 L602.6,112.5 L602.8,112.8 L603.0,113.1 L603.1,113.5 L603.3,113.8 L603.5,114.2 L603.6,114.6 L603.8,115.1 L604.0,115.5 L604.2,116.0 L604.3,116.6 L604.5,117.1 L604.7,117.7 L604.8,118.3 L605.0,119.0 L605.2,119.7 L605.3,120.4 L605.5,121.2 L605.7,121.9 L605.8,122.7 L606.0,123.5 L606.2,124.2 L606.3,124.9 L606.5,125.5 L606.7,126.1 L606.8,126.5 L607.0,126.9 L607.2,127.2 L607.3,127.4 L607.5,127.4 L607.7,127.3 L607.8,127.0 L608.0,126.6 L608.2,126.1 L608.3,125.5 L608.5,124.8 L608.7,124.0 L608.8,123.1 L609.0,122.2 L609.2,121.2 L609.3,120.1 L609.5,119.0 L609.7,117.9 L609.8,116.8 L610.0,115.7 L610.2,114.5 L610.3,113.5 L610.5,112.5 L610.7,111.5 L610.8,110.7 L611.0,110.0 L611.2,109.4 L611.3,109.0 L611.5,108.8 L611.7,108.7 L611.8,108.8 L612.0,109.0 L612.2,109.4 L612.3,109.8 L612.5,110.3 L612.7,110.8 L612.8,111.3 L613.0,111.8 L613.2,112.3 L613.3,112.8 L613.5,113.2 L613.7,113.4 L613.8,113.6 L614.0,113.7 L614.2,113.6 L614.3,113.4 L614.5,113.2 L614.7,112.9 L614.8,112.5 L615.0,112.1 L615.2,111.8 L615.3,111.4 L615.5,111.1 L615.7,110.8 L615.8,110.6 L616.0,110.4 L616.2,110.4 L616.3,110.5 L616.5,110.7 L616.7,111.0 L616.8,111.4 L617.0,111.8 L617.2,112.3 L617.3,112.8 L617.5,113.3 L617.7,113.9 L617.8,114.4 L618.0,114.9 L618.2,115.3 L618.3,115.7 L618.5,116.0 L618.7,116.2 L618.8,116.3 L619.0,116.3 L619.2,116.3 L619.3,116.2 L619.5,116.0 L619.7,115.8 L619.8,115.6 L620.0,115.3 L620.2,115.1 L620.3,114.8 L620.5,114.5 L620.7,114.3 L620.8,114.1 L621.0,113.9 L621.2,113.7 L621.3,113.6 L621.5,113.6 L621.7,113.6 L621.8,113.7 L622.0,113.9 L622.2,114.1 L622.3,114.4 L622.5,114.8 L622.7,115.1 L622.8,115.5 L623.0,115.9 L623.2,116.3 L623.3,116.7 L623.5,117.1 L623.7,117.5 L623.8,117.8 L624.0,118.0 L624.2,118.2 L624.3,118.4 L624.5,118.4 L624.7,118.4 L624.8,118.3 L625.0,118.0 L625.2,117.7 L625.3,117.3 L625.5,116.9 L625.7,116.4 L625.8,115.9 L626.0,115.4 L626.2,114.9 L626.3,114.5 L626.5,114.1 L626.7,113.8 L626.8,113.6 L627.0,113.5 L627.2,113.6 L627.3,113.8 L627.5,114.1 L627.7,114.5 L627.8,115.1 L628.0,115.7 L628.2,116.5 L628.3,117.2 L628.5,118.1 L628.7,118.9 L628.8,119.8 L629.0,120.6 L629.2,121.5 L629.3,122.3 L629.5,123.0 L629.7,123.7 L629.8,124.3 L630.0,124.8 L630.2,125.2 L630.3,125.5 L630.5,125.6 L630.7,125.6 L630.8,125.4 L631.0,125.2 L631.2,124.9 L631.3,124.5 L631.5,124.1 L631.7,123.6 L631.8,123.0 L632.0,122.5 L632.2,121.9 L632.3,121.3 L632.5,120.8 L632.7,120.2 L632.8,119.7 L633.0,119.2 L633.2,118.8 L633.3,118.5 L633.5,118.3 L633.7,118.1 L633.8,118.1 L634.0,118.1 L634.2,118.2 L634.3,118.4 L634.5,118.7 L634.7,118.9 L634.8,119.3 L635.0,119.7 L635.2,120.1 L635.3,120.5 L635.5,120.9 L635.7,121.4 L635.8,121.8 L636.0,122.3 L636.2,122.7 L636.3,123.1 L636.5,123.5 L636.7,123.8 L636.8,124.1 L637.0,124.3 L637.2,124.5 L637.3,124.6 L637.5,124.6 L637.7,124.6 L637.8,124.4 L638.0,124.2 L638.2,124.0 L638.3,123.6 L638.5,123.2 L638.7,122.8 L638.8,122.2 L639.0,121.6 L639.2,121.0 L639.3,120.3 L639.5,119.5 L639.7,118.7 L639.8,117.8 L640.0,116.9 L640.2,115.9 L640.3,114.9 L640.5,113.8 L640.7,112.8 L640.9,111.7 L641.0,110.6 L641.2,109.6 L641.4,108.6 L641.5,107.6 L641.7,106.7 L641.9,106.0 L642.0,105.3 L642.2,104.7 L642.4,104.3 L642.5,104.1 L642.7,104.0 L642.9,104.1 L643.0,104.4 L643.2,104.8 L643.4,105.3 L643.5,106.0 L643.7,106.7 L643.9,107.4 L644.0,108.2 L644.2,109.0 L644.4,109.8 L644.5,110.6 L644.7,111.3 L644.9,111.8 L645.0,112.3 L645.2,112.7 L645.4,112.9 L645.5,112.9 L645.7,112.9 L645.9,112.7 L646.0,112.4 L646.2,112.0 L646.4,111.6 L646.5,111.1 L646.7,110.6 L646.9,110.1 L647.0,109.5 L647.2,109.0 L647.4,108.5 L647.5,108.1 L647.7,107.7 L647.9,107.4 L648.0,107.2 L648.2,107.0 L648.4,107.0 L648.5,107.0 L648.7,107.0 L648.9,107.1 L649.0,107.2 L649.2,107.4 L649.4,107.6 L649.5,107.9 L649.7,108.1 L649.9,108.4 L650.0,108.6 L650.2,108.9 L650.4,109.1 L650.5,109.4 L650.7,109.6 L650.9,109.8 L651.0,110.0 L651.2,110.2 L651.4,110.4 L651.5,110.6 L651.7,110.8 L651.9,111.0 L652.0,111.3 L652.2,111.6 L652.4,111.9 L652.5,112.3 L652.7,112.6 L652.9,113.1 L653.0,113.6 L653.2,114.1 L653.4,114.7 L653.5,115.3 L653.7,116.0 L653.9,116.6 L654.0,117.2 L654.2,117.8 L654.4,118.4 L654.5,118.9 L654.7,119.4 L654.9,119.8 L655.0,120.2 L655.2,120.4 L655.4,120.5 L655.5,120.5 L655.7,120.4 L655.9,120.2 L656.0,119.8 L656.2,119.4 L656.4,118.8 L656.5,118.2 L656.7,117.6 L656.9,116.9 L657.0,116.2 L657.2,115.5 L657.4,114.8 L657.5,114.2 L657.7,113.5 L657.9,113.0 L658.0,112.5 L658.2,112.1 L658.4,111.8 L658.5,111.6 L658.7,111.5 L658.9,111.6 L659.0,111.9 L659.2,112.3 L659.4,112.9 L659.5,113.6 L659.7,114.4 L659.9,115.3 L660.0,116.4 L660.2,117.4 L660.4,118.6 L660.5,119.7 L660.7,120.9 L660.9,122.0 L661.0,123.1 L661.2,124.2 L661.4,125.2 L661.5,126.2 L661.7,127.0 L661.9,127.7 L662.0,128.3 L662.2,128.8 L662.4,129.0 L662.5,129.1 L662.7,129.0 L662.9,128.7 L663.0,128.2 L663.2,127.6 L663.4,126.9 L663.5,126.0 L663.7,125.1 L663.9,124.1 L664.0,123.0 L664.2,122.0 L664.4,120.8 L664.5,119.7 L664.7,118.6 L664.9,117.6 L665.0,116.6 L665.2,115.6 L665.4,114.8 L665.5,114.0 L665.7,113.4 L665.9,113.0 L666.0,112.6 L666.2,112.5 L666.4,112.5 L666.5,112.7 L666.7,113.0 L666.9,113.4 L667.0,113.9 L667.2,114.5 L667.4,115.2 L667.5,116.0 L667.7,116.8 L667.9,117.6 L668.0,118.5 L668.2,119.4 L668.4,120.3 L668.5,121.1 L668.7,121.9 L668.9,122.7 L669.0,123.5 L669.2,124.1 L669.4,124.7 L669.5,125.2 L669.7,125.5 L669.9,125.8 L670.0,125.9 L670.2,125.9 L670.4,125.8 L670.5,125.6 L670.7,125.4 L670.9,125.0 L671.0,124.6 L671.2,124.1 L671.4,123.6 L671.5,123.1 L671.7,122.5 L671.9,121.9 L672.0,121.3 L672.2,120.7 L672.4,120.2 L672.5,119.7 L672.7,119.2 L672.9,118.8 L673.0,118.4 L673.2,118.1 L673.4,117.8 L673.5,117.6 L673.7,117.5 L673.9,117.3 L674.0,117.3 L674.2,117.3 L674.4,117.3 L674.5,117.4 L674.7,117.5 L674.9,117.6 L675.0,117.8 L675.2,117.9 L675.4,118.2 L675.5,118.4 L675.7,118.6 L675.9,118.9 L676.0,119.2 L676.2,119.5 L676.4,119.7 L676.5,120.0 L676.7,120.3 L676.9,120.6 L677.0,120.9 L677.2,121.2 L677.4,121.5 L677.5,121.8 L677.7,122.0 L677.9,122.3 L678.1,122.5 L678.2,122.7 L678.4,122.9 L678.6,123.1 L678.7,123.2 L678.9,123.3 L679.1,123.4 L679.2,123.5 L679.4,123.5 L679.6,123.5 L679.7,123.4 L679.9,123.3 L680.1,123.2 L680.2,123.0 L680.4,122.7 L680.6,122.4 L680.7,122.1 L680.9,121.8 L681.1,121.4 L681.2,121.0 L681.4,120.6 L681.6,120.1 L681.7,119.7 L681.9,119.2 L682.1,118.7 L682.2,118.2 L682.4,117.8 L682.6,117.3 L682.7,116.8 L682.9,116.4 L683.1,115.9 L683.2,115.5 L683.4,115.1 L683.6,114.7 L683.7,114.4 L683.9,114.0 L684.1,113.7 L684.2,113.4 L684.4,113.1 L684.6,112.8 L684.7,112.6 L684.9,112.3 L685.1,112.0 L685.2,111.8 L685.4,111.5 L685.6,111.3 L685.7,111.0 L685.9,110.7 L686.1,110.4 L686.2,110.1 L686.4,109.8 L686.6,109.5 L686.7,109.1 L686.9,108.8 L687.1,108.4 L687.2,108.0 L687.4,107.6 L687.6,107.2 L687.7,106.8 L687.9,106.3 L688.1,105.9 L688.2,105.5 L688.4,105.0 L688.6,104.6 L688.7,104.1 L688.9,103.7 L689.1,103.3 L689.2,102.9 L689.4,102.5 L689.6,102.1 L689.7,101.8 L689.9,101.5 L690.1,101.1 L690.2,100.9 L690.4,100.6 L690.6,100.4 L690.7,100.2 L690.9,100.0 L691.1,99.9 L691.2,99.8 L691.4,99.7 L691.6,99.7 L691.7,99.7 L691.9,99.8 L692.1,99.9 L692.2,100.1 L692.4,100.3 L692.6,100.5 L692.7,100.7 L692.9,101.0 L693.1,101.3 L693.2,101.6 L693.4,101.9 L693.6,102.2 L693.7,102.6 L693.9,102.9 L694.1,103.3 L694.2,103.6 L694.4,104.0 L694.6,104.3 L694.7,104.6 L694.9,105.0 L695.1,105.3 L695.2,105.5 L695.4,105.8 L695.6,106.0 L695.7,106.3 L695.9,106.5 L696.1,106.6 L696.2,106.8 L696.4,107.0" stroke="#555" stroke-width="0.9" fill="none" stroke-dasharray="3.2 1.5"/>
<line x1="400.00" x2="696.25" y1="115.81" y2="115.81" stroke="#000" stroke-width="1.1" fill="none" stroke-dasharray="3.3 1.6"/>
<path d="M520.20,107.50 L520.37,107.94 L520.53,108.38 L520.70,108.83 L520.87,109.27 L521.04,109.71 L521.20,110.15 L521.37,110.60 L521.54,111.04 L521.71,111.48 L521.87,111.92 L522.04,112.37 L522.21,112.81 L522.37,113.25 L522.54,113.69 L522.71,114.14 L522.88,114.58 L523.04,115.02 L523.21,115.46 L523.38,115.90 L523.54,116.35 L523.71,116.79 L523.88,117.23 L524.05,117.66 L524.21,118.10 L524.38,118.53 L524.55,118.96 L524.72,119.38 L524.88,119.80 L525.05,120.21 L525.22,120.61 L525.38,121.01 L525.55,121.40 L525.72,121.78 L525.89,122.15 L526.05,122.52 L526.22,122.87 L526.39,123.21 L526.55,123.54 L526.72,123.86 L526.89,124.16 L527.06,124.45 L527.22,124.73 L527.39,125.00 L527.56,125.25 L527.73,125.49 L527.89,125.71 L528.06,125.93 L528.23,126.13 L528.39,126.31 L528.56,126.49 L528.73,126.65 L528.90,126.79 L529.06,126.93 L529.23,127.05 L529.40,127.15 L529.56,127.25 L529.73,127.33 L529.90,127.39 L530.07,127.45 L530.23,127.49 L530.40,127.51 L530.57,127.53 L530.74,127.53 L530.90,127.51 L531.07,127.49 L531.24,127.45 L531.40,127.39 L531.57,127.33 L531.74,127.25 L531.91,127.16 L532.07,127.06 L532.24,126.95 L532.41,126.83 L532.58,126.70 L532.74,126.56 L532.91,126.41 L533.08,126.26 L533.24,126.09 L533.41,125.92 L533.58,125.74 L533.75,125.56 L533.91,125.37 L534.08,125.17 L534.25,124.97 L534.41,124.76 L534.58,124.55 L534.75,124.33 L534.92,124.11 L535.08,123.89 L535.25,123.66 L535.42,123.44 L535.59,123.21 L535.75,122.97 L535.92,122.74 L536.09,122.50 L536.25,122.26 L536.42,122.02 L536.59,121.78 L536.76,121.53 L536.92,121.29 L537.09,121.04 L537.26,120.79 L537.42,120.54 L537.59,120.29 L537.76,120.03 L537.93,119.78 L538.09,119.52 L538.26,119.27 L538.43,119.01 L538.60,118.76 L538.76,118.50 L538.93,118.24 L539.10,117.98 L539.26,117.73 L539.43,117.47 L539.60,117.21 L539.77,116.95 L539.93,116.70 L540.10,116.44 L540.27,116.18 L540.43,115.93 L540.60,115.67 L540.77,115.42 L540.94,115.16 L541.10,114.91 L541.27,114.65 L541.44,114.40 L541.61,114.15 L541.77,113.89 L541.94,113.64 L542.11,113.39 L542.27,113.13 L542.44,112.88 L542.61,112.63 L542.78,112.38 L542.94,112.13 L543.11,111.88 L543.28,111.63 L543.44,111.38 L543.61,111.13 L543.78,110.88 L543.95,110.63 L544.11,110.38 L544.28,110.13 L544.45,109.88 L544.62,109.63 L544.78,109.38 L544.95,109.13 L545.12,108.88 L545.28,108.63 L545.45,108.37 L545.62,108.12 L545.79,107.86 L545.95,107.60 L546.12,107.34 L546.29,107.08 L546.46,106.81 L546.62,106.53 L546.79,106.26 L546.96,105.98 L547.12,105.69 L547.29,105.40 L547.46,105.10 L547.63,104.80 L547.79,104.49 L547.96,104.18 L548.13,103.85 L548.29,103.52 L548.46,103.19 L548.63,102.84 L548.80,102.49 L548.96,102.13 L549.13,101.76 L549.30,101.38 L549.47,100.99 L549.63,100.59 L549.80,100.19 L549.97,99.78 L550.13,99.37 L550.30,98.95 L550.47,98.53 L550.64,98.11 L550.80,97.68 L550.97,97.26 L551.14,96.84 L551.30,96.43 L551.47,96.01 L551.64,95.60 L551.81,95.20 L551.97,94.80 L552.14,94.41 L552.31,94.03 L552.48,93.66 L552.64,93.31 L552.81,92.96 L552.98,92.62 L553.14,92.30 L553.31,92.00 L553.48,91.71 L553.65,91.44 L553.81,91.18 L553.98,90.94 L554.15,90.72 L554.31,90.52 L554.48,90.34 L554.65,90.18 L554.82,90.04 L554.98,89.92 L555.15,89.82 L555.32,89.75 L555.49,89.69 L555.65,89.67 L555.82,89.66 L555.99,89.69 L556.15,89.74 L556.32,89.81 L556.49,89.91 L556.66,90.04 L556.82,90.20 L556.99,90.38 L557.16,90.59 L557.33,90.83 L557.49,91.09 L557.66,91.39 L557.83,91.71 L557.99,92.05 L558.16,92.43 L558.33,92.83 L558.50,93.25 L558.66,93.71 L558.83,94.19 L559.00,94.71 L559.16,95.24 L559.33,95.81 L559.50,96.40 L559.67,97.02 L559.83,97.67 L560.00,98.33 L560.17,99.02 L560.34,99.73 L560.50,100.46 L560.67,101.21 L560.84,101.98 L561.00,102.76 L561.17,103.56 L561.34,104.37 L561.51,105.19 L561.67,106.02 L561.84,106.86 L562.01,107.71 L562.17,108.57 L562.34,109.43 L562.51,110.30 L562.68,111.17 L562.84,112.04 L563.01,112.91 L563.18,113.78 L563.35,114.65 L563.51,115.51 L563.68,116.37 L563.85,117.22 L564.01,118.07 L564.18,118.90 L564.35,119.72 L564.52,120.54 L564.68,121.33 L564.85,122.11 L565.02,122.88 L565.18,123.63 L565.35,124.36 L565.52,125.07 L565.69,125.77 L565.85,126.46 L566.02,127.13 L566.19,127.79 L566.36,128.43 L566.52,129.07 L566.69,129.69 L566.86,130.30 L567.02,130.90 L567.19,131.50 L567.36,132.08 L567.53,132.66 L567.69,133.23 L567.86,133.80 L568.03,134.36 L568.19,134.92 L568.36,135.47 L568.53,136.02 L568.70,136.56 L568.86,137.11 L569.03,137.65 L569.20,138.19 L569.37,138.73 L569.53,139.26 L569.70,139.80" stroke="#000" stroke-width="2.6" fill="none" stroke-linejoin="round" stroke-linecap="round"/>
</g>
<g clip-path="url(#cR2)">
<path d="M398.0,170.0 L398.2,165.8 L398.4,161.8 L398.6,158.0 L398.8,154.7 L399.0,151.7 L399.2,149.1 L399.4,147.0 L399.6,145.5 L399.8,144.6 L400.0,144.2 L400.2,144.6 L400.4,145.6 L400.6,147.1 L400.8,149.1 L401.0,151.4 L401.2,154.0 L401.4,156.7 L401.6,159.5 L401.8,162.2 L402.0,164.8 L402.2,167.1 L402.4,169.1 L402.6,170.7 L402.8,171.6 L403.0,172.0 L403.2,171.3 L403.4,169.4 L403.6,166.5 L403.8,163.0 L404.0,159.3 L404.2,155.5 L404.4,152.1 L404.6,149.2 L404.8,147.3 L405.0,146.6 L405.2,146.9 L405.4,147.8 L405.6,149.3 L405.8,151.3 L406.0,153.7 L406.2,156.3 L406.4,159.3 L406.6,162.4 L406.8,165.6 L407.0,168.9 L407.2,172.1 L407.4,175.3 L407.6,178.2 L407.8,180.9 L408.0,183.3 L408.2,185.2 L408.4,186.7 L408.6,187.7 L408.8,188.0 L409.0,187.3 L409.2,185.5 L409.4,182.7 L409.6,179.2 L409.8,175.1 L410.0,170.6 L410.2,166.0 L410.4,161.4 L410.6,157.1 L410.8,153.2 L411.0,150.0 L411.2,147.7 L411.4,146.4 L411.6,146.3 L411.8,147.1 L412.0,148.4 L412.2,150.4 L412.4,152.8 L412.6,155.7 L412.8,159.0 L413.0,162.5 L413.2,166.3 L413.4,170.2 L413.6,174.1 L413.8,178.1 L414.0,182.0 L414.2,185.7 L414.4,189.3 L414.6,192.5 L414.8,195.4 L415.0,197.9 L415.2,199.8 L415.4,201.2 L415.6,201.9 L415.8,201.7 L416.0,199.3 L416.2,195.0 L416.4,189.6 L416.6,183.5 L416.8,177.4 L417.0,172.0 L417.2,167.7 L417.4,165.3 L417.6,165.1 L417.8,166.0 L418.0,167.5 L418.2,169.5 L418.4,171.8 L418.6,174.2 L418.8,176.5 L419.0,178.5 L419.2,180.0 L419.4,180.9 L419.6,180.7 L419.8,178.9 L420.0,175.6 L420.2,171.2 L420.4,166.2 L420.6,161.0 L420.8,156.0 L421.0,151.6 L421.2,148.3 L421.4,146.4 L421.6,146.4 L421.8,148.3 L422.0,151.8 L422.2,156.6 L422.4,162.6 L422.6,169.3 L422.8,176.6 L423.0,184.1 L423.2,191.6 L423.4,198.9 L423.6,205.6 L423.8,211.5 L424.0,216.4 L424.2,219.9 L424.4,221.8 L424.6,221.4 L424.8,217.0 L425.0,209.8 L425.2,201.4 L425.4,193.4 L425.6,187.4 L425.8,185.0 L426.0,186.0 L426.2,188.3 L426.4,190.9 L426.6,192.7 L426.8,192.9 L427.0,192.0 L427.2,190.5 L427.4,188.6 L427.6,186.5 L427.8,184.4 L428.0,182.5 L428.2,181.0 L428.4,180.1 L428.6,180.1 L428.8,181.1 L429.0,182.8 L429.2,185.1 L429.4,187.7 L429.6,190.3 L429.8,192.9 L430.0,195.2 L430.2,196.9 L430.4,197.9 L430.6,197.7 L430.8,195.6 L431.0,192.0 L431.2,187.6 L431.4,183.1 L431.6,179.0 L431.8,176.1 L432.0,175.0 L432.2,175.2 L432.4,175.7 L432.6,176.4 L432.8,177.3 L433.0,178.2 L433.2,179.2 L433.4,180.0 L433.6,180.6 L433.8,181.0 L434.0,180.7 L434.2,178.7 L434.4,175.0 L434.6,170.1 L434.8,164.4 L435.0,158.4 L435.2,152.5 L435.4,147.2 L435.6,142.8 L435.8,139.9 L436.0,138.8 L436.2,140.3 L436.4,144.5 L436.6,150.9 L436.8,158.9 L437.0,168.1 L437.2,177.9 L437.4,187.9 L437.6,197.4 L437.8,206.1 L438.0,213.4 L438.2,218.7 L438.4,221.6 L438.6,221.7 L438.8,219.8 L439.0,216.2 L439.2,211.1 L439.4,205.0 L439.6,198.0 L439.8,190.4 L440.0,182.5 L440.2,174.7 L440.4,167.1 L440.6,160.1 L440.8,154.0 L441.0,148.9 L441.2,145.3 L441.4,143.3 L441.6,143.2 L441.8,143.9 L442.0,145.2 L442.2,147.1 L442.4,149.3 L442.6,151.9 L442.8,154.7 L443.0,157.5 L443.2,160.4 L443.4,163.2 L443.6,165.8 L443.8,168.0 L444.0,169.9 L444.2,171.2 L444.4,171.9 L444.6,171.9 L444.8,170.8 L445.0,168.9 L445.2,166.4 L445.4,163.3 L445.6,159.9 L445.8,156.4 L446.0,152.9 L446.2,149.7 L446.4,146.9 L446.6,144.6 L446.8,143.1 L447.0,142.6 L447.2,142.9 L447.4,143.7 L447.6,145.1 L447.8,146.9 L448.0,149.1 L448.2,151.6 L448.4,154.4 L448.6,157.5 L448.8,160.7 L449.0,164.0 L449.2,167.4 L449.4,170.9 L449.6,174.2 L449.8,177.5 L450.0,180.7 L450.2,183.6 L450.4,186.3 L450.6,188.7 L450.8,190.7 L451.0,192.2 L451.2,193.3 L451.4,193.9 L451.6,193.9 L451.8,193.0 L452.0,191.4 L452.2,189.1 L452.4,186.2 L452.6,182.9 L452.8,179.3 L453.0,175.4 L453.2,171.4 L453.4,167.3 L453.6,163.4 L453.8,159.6 L454.0,156.1 L454.2,153.0 L454.4,150.4 L454.6,148.4 L454.8,147.2 L455.0,146.7 L455.2,147.1 L455.4,148.1 L455.6,149.8 L455.8,151.9 L456.0,154.5 L456.2,157.5 L456.4,160.8 L456.6,164.4 L456.8,168.1 L457.0,171.9 L457.2,175.7 L457.4,179.5 L457.6,183.1 L457.8,186.6 L458.0,189.7 L458.2,192.5 L458.4,194.9 L458.6,196.9 L458.8,198.2 L459.0,198.9 L459.2,198.9 L459.4,198.0 L459.6,196.5 L459.8,194.2 L460.0,191.4 L460.2,188.1 L460.4,184.4 L460.6,180.4 L460.8,176.2 L461.0,171.8 L461.2,167.5 L461.4,163.2 L461.6,159.1 L461.8,155.3 L462.0,151.8 L462.2,148.7 L462.4,146.1 L462.6,144.2 L462.8,143.0 L463.0,142.5 L463.2,142.8 L463.4,143.8 L463.6,145.2 L463.8,147.0 L464.0,149.1 L464.2,151.5 L464.4,154.0 L464.6,156.5 L464.8,159.0 L465.0,161.4 L465.2,163.5 L465.4,165.4 L465.6,166.8 L465.8,167.7 L466.0,168.0 L466.2,167.2 L466.4,165.2 L466.6,162.8 L466.8,160.8 L467.0,160.0 L467.2,161.1 L467.4,164.3 L467.6,168.9 L467.8,174.7 L468.0,181.2 L468.2,187.8 L468.4,194.3 L468.6,200.1 L468.8,204.7 L469.0,207.9 L469.2,209.0 L469.4,208.1 L469.6,205.7 L469.8,201.9 L470.0,197.1 L470.2,191.6 L470.4,185.5 L470.6,179.1 L470.8,172.7 L471.0,166.6 L471.2,161.1 L471.4,156.3 L471.6,152.5 L471.8,150.1 L472.0,149.2 L472.2,149.9 L472.4,151.7 L472.6,154.6 L472.8,158.4 L473.0,162.9 L473.2,168.0 L473.4,173.5 L473.6,179.2 L473.8,185.0 L474.0,190.7 L474.2,196.2 L474.4,201.3 L474.6,205.8 L474.8,209.6 L475.0,212.5 L475.2,214.3 L475.4,215.0 L475.6,213.9 L475.8,210.9 L476.0,206.2 L476.2,200.3 L476.4,193.6 L476.6,186.2 L476.8,178.8 L477.0,171.4 L477.2,164.7 L477.4,158.8 L477.6,154.1 L477.8,151.1 L478.0,150.0 L478.2,150.3 L478.4,151.1 L478.6,152.3 L478.8,153.8 L479.0,155.6 L479.2,157.5 L479.4,159.5 L479.6,161.5 L479.8,163.3 L480.0,165.0 L480.2,166.4 L480.4,167.4 L480.6,167.9 L480.8,167.9 L481.0,167.4 L481.2,166.5 L481.4,165.3 L481.6,164.0 L481.8,162.7 L482.0,161.5 L482.2,160.6 L482.4,160.1 L482.6,160.0 L482.8,160.4 L483.0,160.9 L483.2,161.7 L483.4,162.5 L483.6,163.3 L483.8,164.1 L484.0,164.6 L484.2,165.0 L484.4,164.9 L484.6,164.3 L484.8,163.2 L485.0,161.8 L485.2,160.5 L485.4,159.2 L485.6,158.3 L485.8,158.0 L486.0,158.3 L486.2,158.9 L486.4,159.9 L486.6,161.2 L486.8,162.5 L487.0,163.8 L487.2,165.1 L487.4,166.1 L487.6,166.7 L487.8,167.0 L488.0,166.4 L488.2,164.9 L488.4,162.7 L488.6,160.2 L488.8,157.5 L489.0,155.1 L489.2,153.2 L489.4,152.1 L489.6,152.3 L489.8,154.3 L490.0,157.7 L490.2,161.9 L490.4,166.3 L490.6,170.1 L490.8,172.9 L491.0,174.0 L491.2,173.3 L491.4,171.7 L491.6,169.5 L491.8,167.3 L492.0,165.7 L492.2,165.0 L492.4,165.3 L492.6,166.0 L492.8,167.0 L493.0,168.0 L493.2,168.7 L493.4,169.0 L493.6,168.4 L493.8,166.8 L494.0,164.7 L494.2,162.3 L494.4,160.2 L494.6,158.6 L494.8,158.0 L495.0,158.8 L495.2,160.9 L495.4,164.0 L495.6,167.6 L495.8,171.3 L496.0,174.6 L496.2,177.3 L496.4,178.8 L496.6,178.9 L496.8,178.2 L497.0,176.9 L497.2,175.0 L497.4,172.7 L497.6,170.2 L497.8,167.4 L498.0,164.5 L498.2,161.7 L498.4,158.9 L498.6,156.3 L498.8,154.1 L499.0,152.2 L499.2,150.9 L499.4,150.2 L499.6,150.2 L499.8,151.2 L500.0,153.2 L500.2,155.9 L500.4,159.3 L500.6,163.2 L500.8,167.5 L501.0,172.1 L501.2,176.8 L501.4,181.6 L501.6,186.3 L501.8,190.8 L502.0,194.9 L502.2,198.6 L502.4,201.6 L502.6,204.0 L502.8,205.5 L503.0,206.0 L503.2,205.5 L503.4,204.2 L503.6,202.0 L503.8,199.2 L504.0,195.8 L504.2,191.8 L504.4,187.5 L504.6,182.9 L504.8,178.1 L505.0,173.2 L505.2,168.3 L505.4,163.5 L505.6,158.9 L505.8,154.6 L506.0,150.7 L506.2,147.3 L506.4,144.5 L506.6,142.3 L506.8,141.0 L507.0,140.5 L507.2,140.7 L507.4,141.4 L507.6,142.5 L507.8,143.9 L508.0,145.5 L508.2,147.3 L508.4,149.3 L508.6,151.2 L508.8,153.1 L509.0,154.9 L509.2,156.6 L509.4,158.0 L509.6,159.1 L509.8,159.8 L510.0,160.0 L510.2,159.6 L510.4,158.6 L510.6,157.2 L510.8,155.6 L511.0,154.1 L511.2,152.8 L511.4,152.1 L511.6,152.1 L511.8,153.0 L512.0,154.5 L512.2,156.4 L512.4,158.5 L512.6,160.6 L512.8,162.3 L513.0,163.5 L513.2,164.0 L513.4,163.7 L513.6,162.9 L513.8,161.7 L514.0,160.3 L514.2,158.6 L514.4,156.8 L514.6,155.1 L514.8,153.5 L515.0,152.2 L515.2,151.2 L515.4,150.6 L515.6,150.7 L515.8,151.4 L516.0,152.7 L516.2,154.6 L516.4,157.0 L516.6,159.8 L516.8,163.0 L517.0,166.6 L517.2,170.4 L517.4,174.4 L517.6,178.6 L517.8,182.9 L518.0,187.2 L518.2,191.4 L518.4,195.6 L518.6,199.5 L518.8,203.3 L519.0,206.8 L519.2,210.0 L519.4,212.7 L519.6,215.0 L519.8,217.1 L520.0,219.1 L520.2,221.2 L520.4,223.3 L520.6,225.4 L520.8,227.5 L521.0,229.5 L521.2,231.5 L521.4,233.4 L521.6,235.3 L521.8,237.2 L522.0,238.9 L522.2,240.6 L522.4,242.1 L522.6,243.6 L522.8,244.9 L523.0,246.1 L523.2,247.2 L523.4,248.1 L523.6,248.8 L523.8,249.4 L524.0,249.8 L524.2,250.0 L524.4,250.0 L524.6,249.7 L524.8,249.3 L525.0,248.7 L525.2,247.9 L525.4,246.8 L525.6,245.7 L525.8,244.3 L526.0,242.9 L526.2,241.2 L526.4,239.5 L526.6,237.6 L526.8,235.7 L527.0,233.6 L527.2,231.5 L527.4,229.2 L527.6,227.0 L527.8,224.6 L528.0,222.3 L528.2,219.9 L528.4,217.4 L528.6,215.0 L528.8,212.1 L529.0,208.3 L529.2,203.8 L529.4,198.7 L529.6,193.1 L529.8,187.2 L530.0,181.0 L530.2,174.9 L530.4,168.8 L530.6,162.9 L530.8,157.3 L531.0,152.3 L531.2,147.8 L531.4,144.1 L531.6,141.3 L531.8,139.6 L532.0,138.9 L532.2,139.3 L532.4,140.4 L532.6,142.0 L532.8,144.0 L533.0,146.3 L533.2,148.8 L533.4,151.4 L533.6,153.8 L533.8,156.0 L534.0,157.8 L534.2,159.2 L534.4,159.9 L534.6,159.8 L534.8,158.3 L535.0,156.0 L535.2,153.7 L535.4,152.2 L535.6,152.2 L535.8,153.6 L536.0,156.3 L536.2,160.1 L536.4,164.6 L536.6,169.7 L536.8,175.2 L537.0,180.9 L537.2,186.5 L537.4,191.9 L537.6,196.8 L537.8,200.9 L538.0,204.1 L538.2,206.3 L538.4,207.0 L538.6,206.2 L538.8,204.0 L539.0,200.5 L539.2,196.0 L539.4,190.8 L539.6,184.9 L539.8,178.7 L540.0,172.3 L540.2,165.9 L540.4,159.9 L540.6,154.3 L540.8,149.4 L541.0,145.4 L541.2,142.5 L541.4,141.0 L541.6,140.9 L541.8,141.6 L542.0,142.9 L542.2,144.8 L542.4,147.0 L542.6,149.5 L542.8,152.3 L543.0,155.1 L543.2,157.9 L543.4,160.5 L543.6,162.9 L543.8,165.0 L544.0,166.6 L544.2,167.6 L544.4,168.0 L544.6,167.6 L544.8,166.4 L545.0,164.9 L545.2,163.1 L545.4,161.6 L545.6,160.4 L545.8,160.0 L546.0,161.1 L546.2,163.8 L546.4,167.5 L546.6,171.5 L546.8,175.2 L547.0,177.9 L547.2,179.0 L547.4,178.4 L547.6,176.9 L547.8,174.5 L548.0,171.5 L548.2,168.0 L548.4,164.1 L548.6,160.1 L548.8,156.1 L549.0,152.3 L549.2,148.7 L549.4,145.7 L549.6,143.3 L549.8,141.8 L550.0,141.3 L550.2,141.4 L550.4,141.6 L550.6,142.1 L550.8,142.8 L551.0,143.6 L551.2,144.6 L551.4,145.7 L551.6,147.0 L551.8,148.4 L552.0,149.9 L552.2,151.6 L552.4,153.3 L552.6,155.2 L552.8,157.1 L553.0,159.2 L553.2,161.3 L553.4,163.5 L553.6,165.7 L553.8,168.0 L554.0,170.3 L554.2,172.7 L554.4,175.1 L554.6,177.5 L554.8,179.9 L555.0,182.3 L555.2,184.7 L555.4,187.1 L555.6,189.5 L555.8,191.8 L556.0,194.1 L556.2,196.4 L556.4,198.6 L556.6,200.7 L556.8,202.7 L557.0,204.7 L557.2,206.6 L557.4,208.3 L557.6,210.0 L557.8,211.6 L558.0,213.3 L558.2,215.1 L558.4,216.9 L558.6,218.7 L558.8,220.6 L559.0,222.5 L559.2,224.4 L559.4,226.3 L559.6,228.3 L559.8,230.2 L560.0,232.1 L560.2,234.1 L560.4,236.0 L560.6,237.8 L560.8,239.7 L561.0,241.5 L561.2,243.2 L561.4,245.0 L561.6,246.6 L561.8,248.2 L562.0,249.7 L562.2,251.1 L562.4,252.5 L562.6,253.8 L562.8,254.9 L563.0,256.0 L563.2,256.9 L563.4,257.8 L563.6,258.5 L563.8,259.1 L564.0,259.5 L564.2,259.8 L564.4,260.0 L564.6,260.0 L564.8,259.9 L565.0,259.7 L565.2,259.3 L565.4,258.9 L565.6,258.4 L565.8,257.7 L566.0,257.0 L566.2,256.2 L566.4,255.3 L566.6,254.2 L566.8,253.2 L567.0,252.0 L567.2,250.7 L567.4,249.4 L567.6,248.0 L567.8,246.5 L568.0,244.9 L568.2,243.3 L568.4,241.6 L568.6,239.8 L568.8,238.0 L569.0,236.2 L569.2,234.2 L569.4,232.2 L569.6,230.2 L569.8,228.1 L570.0,226.0 L570.2,223.8 L570.4,221.6 L570.6,219.3 L570.8,217.1 L571.0,214.7 L571.2,212.4 L571.4,210.0 L571.6,207.0 L571.8,202.8 L572.0,197.7 L572.2,191.9 L572.4,185.7 L572.6,179.3 L572.8,173.0 L573.0,167.0 L573.2,161.6 L573.4,156.9 L573.6,153.3 L573.8,150.9 L574.0,150.1 L574.2,150.4 L574.4,151.1 L574.6,152.3 L574.8,153.7 L575.0,155.3 L575.2,157.1 L575.4,158.9 L575.6,160.6 L575.8,162.2 L576.0,163.5 L576.2,164.4 L576.4,164.9 L576.6,165.0 L576.8,164.7 L577.0,164.2 L577.2,163.5 L577.4,162.6 L577.6,161.6 L577.8,160.5 L578.0,159.4 L578.2,158.2 L578.4,157.0 L578.6,155.9 L578.8,154.9 L579.0,153.9 L579.2,153.1 L579.4,152.5 L579.6,152.1 L579.8,152.0 L580.0,152.3 L580.2,153.0 L580.4,154.2 L580.6,155.6 L580.8,157.3 L581.0,159.0 L581.2,160.7 L581.4,162.4 L581.6,163.8 L581.8,165.0 L582.0,165.7 L582.2,166.0 L582.4,165.8 L582.6,165.2 L582.8,164.4 L583.0,163.5 L583.2,162.5 L583.4,161.6 L583.6,160.8 L583.8,160.2 L584.0,160.0 L584.2,160.2 L584.4,160.9 L584.6,161.8 L584.8,162.9 L585.0,164.1 L585.2,165.2 L585.4,166.1 L585.6,166.8 L585.8,167.0 L586.0,166.5 L586.2,165.2 L586.4,163.5 L586.6,161.8 L586.8,160.5 L587.0,160.0 L587.2,160.4 L587.4,161.3 L587.6,162.5 L587.8,163.7 L588.0,164.6 L588.2,165.0 L588.4,164.6 L588.6,163.4 L588.8,161.6 L589.0,159.6 L589.2,157.4 L589.4,155.4 L589.6,153.6 L589.8,152.4 L590.0,152.0 L590.2,152.8 L590.4,155.0 L590.6,158.2 L590.8,162.2 L591.0,166.7 L591.2,171.3 L591.4,175.8 L591.6,179.8 L591.8,183.0 L592.0,185.2 L592.2,186.0 L592.4,185.5 L592.6,184.3 L592.8,182.3 L593.0,179.7 L593.2,176.7 L593.4,173.4 L593.6,169.8 L593.8,166.2 L594.0,162.6 L594.2,159.1 L594.4,155.9 L594.6,153.1 L594.8,150.8 L595.0,149.2 L595.2,148.3 L595.4,148.2 L595.6,148.5 L595.8,149.0 L596.0,149.8 L596.2,150.7 L596.4,151.7 L596.6,152.9 L596.8,154.1 L597.0,155.4 L597.2,156.8 L597.4,158.1 L597.6,159.3 L597.8,160.5 L598.0,161.5 L598.2,162.4 L598.4,163.2 L598.6,163.7 L598.8,164.0 L599.0,163.9 L599.2,163.1 L599.4,161.7 L599.6,159.8 L599.8,157.5 L600.0,154.9 L600.2,152.2 L600.4,149.5 L600.6,147.0 L600.8,144.7 L601.0,142.8 L601.2,141.3 L601.4,140.6 L601.6,140.7 L601.8,142.0 L602.0,144.6 L602.2,148.2 L602.4,152.7 L602.6,157.8 L602.8,163.5 L603.0,169.5 L603.2,175.7 L603.4,181.9 L603.6,188.0 L603.8,193.6 L604.0,198.8 L604.2,203.3 L604.4,206.9 L604.6,209.4 L604.8,210.8 L605.0,210.8 L605.2,209.0 L605.4,205.8 L605.6,201.4 L605.8,196.0 L606.0,189.9 L606.2,183.3 L606.4,176.6 L606.6,169.9 L606.8,163.5 L607.0,157.7 L607.2,152.7 L607.4,148.9 L607.6,146.4 L607.8,145.5 L608.0,145.8 L608.2,146.6 L608.4,147.9 L608.6,149.6 L608.8,151.7 L609.0,154.1 L609.2,156.9 L609.4,159.9 L609.6,163.1 L609.8,166.4 L610.0,169.9 L610.2,173.5 L610.4,177.0 L610.6,180.6 L610.8,184.1 L611.0,187.4 L611.2,190.6 L611.4,193.6 L611.6,196.4 L611.8,198.8 L612.0,200.9 L612.2,202.6 L612.4,203.9 L612.6,204.7 L612.8,205.0 L613.0,203.8 L613.2,200.4 L613.4,195.3 L613.6,189.0 L613.8,181.7 L614.0,174.1 L614.2,166.4 L614.4,159.2 L614.6,152.8 L614.8,147.7 L615.0,144.4 L615.2,143.2 L615.4,144.0 L615.6,146.4 L615.8,150.0 L616.0,154.6 L616.2,160.0 L616.4,165.9 L616.6,172.1 L616.8,178.2 L617.0,184.1 L617.2,189.5 L617.4,194.2 L617.6,197.8 L617.8,200.2 L618.0,201.0 L618.2,200.1 L618.4,197.4 L618.6,193.5 L618.8,188.5 L619.0,182.8 L619.2,176.7 L619.4,170.5 L619.6,164.5 L619.8,159.1 L620.0,154.6 L620.2,151.3 L620.4,149.5 L620.6,149.5 L620.8,151.4 L621.0,154.8 L621.2,159.3 L621.4,164.5 L621.6,170.0 L621.8,175.4 L622.0,180.3 L622.2,184.3 L622.4,187.0 L622.6,188.0 L622.8,187.4 L623.0,185.7 L623.2,183.0 L623.4,179.6 L623.6,175.7 L623.8,171.5 L624.0,167.1 L624.2,162.8 L624.4,158.7 L624.6,155.0 L624.8,152.0 L625.0,149.8 L625.2,148.6 L625.4,148.5 L625.6,149.3 L625.8,150.7 L626.0,152.8 L626.2,155.4 L626.4,158.5 L626.6,161.9 L626.8,165.7 L627.0,169.7 L627.2,173.9 L627.4,178.1 L627.6,182.4 L627.8,186.7 L628.0,190.8 L628.2,194.7 L628.4,198.3 L628.6,201.6 L628.8,204.4 L629.0,206.7 L629.2,208.5 L629.4,209.6 L629.6,210.0 L629.8,209.0 L630.0,206.4 L630.2,202.3 L630.4,197.1 L630.6,191.0 L630.8,184.3 L631.0,177.4 L631.2,170.4 L631.4,163.7 L631.6,157.7 L631.8,152.4 L632.0,148.3 L632.2,145.7 L632.4,144.7 L632.6,145.2 L632.8,146.5 L633.0,148.6 L633.2,151.3 L633.4,154.5 L633.6,158.1 L633.8,161.9 L634.0,165.9 L634.2,169.8 L634.4,173.6 L634.6,177.2 L634.8,180.4 L635.0,183.1 L635.2,185.2 L635.4,186.5 L635.6,187.0 L635.8,186.6 L636.0,185.4 L636.2,183.5 L636.4,181.0 L636.6,178.0 L636.8,174.6 L637.0,171.0 L637.2,167.2 L637.4,163.3 L637.6,159.4 L637.8,155.7 L638.0,152.2 L638.2,149.0 L638.4,146.3 L638.6,144.1 L638.8,142.5 L639.0,141.7 L639.2,141.7 L639.4,142.4 L639.6,143.9 L639.8,145.9 L640.0,148.5 L640.2,151.6 L640.4,155.2 L640.6,159.1 L640.8,163.3 L641.0,167.7 L641.2,172.2 L641.4,176.9 L641.6,181.6 L641.8,186.3 L642.0,190.9 L642.2,195.3 L642.4,199.5 L642.6,203.4 L642.8,206.9 L643.0,210.0 L643.2,212.7 L643.4,214.7 L643.6,216.2 L643.8,216.9 L644.0,216.8 L644.2,215.6 L644.4,213.2 L644.6,209.8 L644.8,205.6 L645.0,200.8 L645.2,195.4 L645.4,189.6 L645.6,183.6 L645.8,177.6 L646.0,171.6 L646.2,165.8 L646.4,160.4 L646.6,155.6 L646.8,151.4 L647.0,148.0 L647.2,145.6 L647.4,144.4 L647.6,144.3 L647.8,145.0 L648.0,146.3 L648.2,148.1 L648.4,150.3 L648.6,152.8 L648.8,155.5 L649.0,158.4 L649.2,161.3 L649.4,164.1 L649.6,166.7 L649.8,169.1 L650.0,171.1 L650.2,172.6 L650.4,173.6 L650.6,174.0 L650.8,173.7 L651.0,172.8 L651.2,171.5 L651.4,169.9 L651.6,168.0 L651.8,166.0 L652.0,164.0 L652.2,162.1 L652.4,160.5 L652.6,159.2 L652.8,158.3 L653.0,158.0 L653.2,158.7 L653.4,160.5 L653.6,163.4 L653.8,167.0 L654.0,171.2 L654.2,175.7 L654.4,180.3 L654.6,184.8 L654.8,189.0 L655.0,192.6 L655.2,195.5 L655.4,197.3 L655.6,198.0 L655.8,197.2 L656.0,194.9 L656.2,191.4 L656.4,187.0 L656.6,182.0 L656.8,176.5 L657.0,170.9 L657.2,165.4 L657.4,160.4 L657.6,156.0 L657.8,152.5 L658.0,150.2 L658.2,149.4 L658.4,150.7 L658.6,154.2 L658.8,159.6 L659.0,166.4 L659.2,174.4 L659.4,183.0 L659.6,191.9 L659.8,200.8 L660.0,209.1 L660.2,216.6 L660.4,222.7 L660.6,227.2 L660.8,229.7 L661.0,229.7 L661.2,227.3 L661.4,222.9 L661.6,216.8 L661.8,209.4 L662.0,201.1 L662.2,192.1 L662.4,182.8 L662.6,173.7 L662.8,164.9 L663.0,157.0 L663.2,150.2 L663.4,144.9 L663.6,141.5 L663.8,140.3 L664.0,141.1 L664.2,143.5 L664.4,147.2 L664.6,152.0 L664.8,157.6 L665.0,163.9 L665.2,170.7 L665.4,177.6 L665.6,184.6 L665.8,191.4 L666.0,197.7 L666.2,203.3 L666.4,208.1 L666.6,211.8 L666.8,214.2 L667.0,215.0 L667.2,214.0 L667.4,211.3 L667.6,207.2 L667.8,201.9 L668.0,195.8 L668.2,189.0 L668.4,182.0 L668.6,175.0 L668.8,168.2 L669.0,162.1 L669.2,156.8 L669.4,152.7 L669.6,150.0 L669.8,149.0 L670.0,149.3 L670.2,150.0 L670.4,151.0 L670.6,152.4 L670.8,154.0 L671.0,155.7 L671.2,157.4 L671.4,159.2 L671.6,160.9 L671.8,162.3 L672.0,163.6 L672.2,164.5 L672.4,164.9 L672.6,164.9 L672.8,163.9 L673.0,162.5 L673.2,161.1 L673.4,160.1 L673.6,160.1 L673.8,161.0 L674.0,162.6 L674.2,164.7 L674.4,167.0 L674.6,169.3 L674.8,171.4 L675.0,173.0 L675.2,173.9 L675.4,174.0 L675.6,173.6 L675.8,173.0 L676.0,172.1 L676.2,171.2 L676.4,170.1 L676.6,168.9 L676.8,167.8 L677.0,166.9 L677.2,166.0 L677.4,165.4 L677.6,165.0 L677.8,165.2 L678.0,166.5 L678.2,168.6 L678.4,171.1 L678.6,173.5 L678.8,175.3 L679.0,176.0 L679.2,175.5 L679.4,174.1 L679.6,172.0 L679.8,169.3 L680.0,166.3 L680.2,163.2 L680.4,160.1 L680.6,157.3 L680.8,154.9 L681.0,153.1 L681.2,152.1 L681.4,152.1 L681.6,153.1 L681.8,154.9 L682.0,157.2 L682.2,159.8 L682.4,162.5 L682.6,165.0 L682.8,167.1 L683.0,168.5 L683.2,169.0 L683.4,168.7 L683.6,167.8 L683.8,166.4 L684.0,164.6 L684.2,162.5 L684.4,160.2 L684.6,157.8 L684.8,155.4 L685.0,153.0 L685.2,150.8 L685.4,148.9 L685.6,147.3 L685.8,146.1 L686.0,145.5 L686.2,145.4 L686.4,145.8 L686.6,146.4 L686.8,147.3 L687.0,148.5 L687.2,150.0 L687.4,151.6 L687.6,153.5 L687.8,155.5 L688.0,157.6 L688.2,159.9 L688.4,162.3 L688.6,164.8 L688.8,167.3 L689.0,169.9 L689.2,172.5 L689.4,175.1 L689.6,177.6 L689.8,180.1 L690.0,182.5 L690.2,184.8 L690.4,186.9 L690.6,188.9 L690.8,190.8 L691.0,192.4 L691.2,193.9 L691.4,195.1 L691.6,196.0 L691.8,196.6 L692.0,197.0 L692.2,196.7 L692.4,194.7 L692.6,191.0 L692.8,186.0 L693.0,180.1 L693.2,173.6 L693.4,167.0 L693.6,160.5 L693.8,154.6 L694.0,149.6 L694.2,145.9 L694.4,143.9 L694.6,143.6 L694.8,143.7 L695.0,143.7 L695.2,143.8 L695.4,144.1 L695.6,144.5 L695.8,145.0 L696.0,145.7 L696.2,146.7 L696.4,147.9 L696.6,149.3 L696.8,151.1 L697.0,153.2 L697.2,155.7 L697.4,158.6 L697.6,162.0 L697.8,165.7" stroke="#555" stroke-width="0.9" fill="none" stroke-dasharray="3.2 1.5"/>
<line x1="400.00" x2="696.25" y1="163.21" y2="163.21" stroke="#000" stroke-width="1.1" fill="none" stroke-dasharray="3.3 1.6"/>
<line x1="400.00" x2="696.25" y1="179.44" y2="179.44" stroke="#f00" stroke-width="1.0"/>
<path d="M519.8,179.4 L520.0,180.0 L520.2,180.4 L520.4,180.9 L520.6,181.3 L520.9,181.8 L521.1,182.1 L521.3,182.5 L521.5,182.8 L521.7,183.1 L521.9,183.3 L522.1,183.6 L522.3,183.8 L522.5,184.0 L522.7,184.1 L523.0,184.2 L523.2,184.3 L523.4,184.4 L523.6,184.4 L523.8,184.4 L524.0,184.4 L524.2,184.3 L524.4,184.3 L524.6,184.2 L524.8,184.0 L525.1,183.9 L525.3,183.7 L525.5,183.6 L525.7,183.3 L525.9,183.1 L526.1,182.8 L526.3,182.6 L526.5,182.3 L526.7,181.9 L526.9,181.6 L527.2,181.2 L527.4,180.8 L527.6,180.4 L527.8,179.9 L528.0,179.4" stroke="#000" stroke-width="2.3" fill="none" stroke-linejoin="round" stroke-linecap="round"/>
<path d="M558.3,179.4 L558.6,182.5 L558.9,185.5 L559.2,188.2 L559.5,190.8 L559.9,193.1 L560.2,195.3 L560.5,197.4 L560.8,199.2 L561.1,200.9 L561.4,202.3 L561.7,203.6 L562.0,204.7 L562.3,205.7 L562.6,206.5 L563.0,207.0 L563.3,207.4 L563.6,207.7 L563.9,207.7 L564.2,207.6 L564.5,207.4 L564.8,207.0 L565.1,206.6 L565.4,206.0 L565.7,205.2 L566.1,204.4 L566.4,203.4 L566.7,202.3 L567.0,201.1 L567.3,199.8 L567.6,198.3 L567.9,196.7 L568.2,195.0 L568.5,193.1 L568.8,191.2 L569.2,189.1 L569.5,186.8 L569.8,184.5 L570.1,182.0 L570.4,179.4" stroke="#000" stroke-width="2.3" fill="none" stroke-linejoin="round" stroke-linecap="round"/>
</g>
<g clip-path="url(#cR3)">
<path d="M397.0,209.5 L397.2,219.4 L397.5,246.2 L397.8,281.2 L398.0,313.6 L398.2,333.0 L398.5,335.5 L398.8,333.0 L399.0,328.0 L399.2,320.8 L399.5,311.6 L399.8,300.5 L400.0,288.1 L400.2,274.7 L400.5,260.7 L400.8,246.5 L401.0,232.7 L401.2,219.7 L401.5,207.9 L401.8,197.6 L402.0,189.3 L402.2,183.1 L402.5,179.3 L402.8,177.9 L403.0,181.5 L403.2,192.1 L403.5,208.7 L403.8,229.7 L404.0,253.0 L404.2,276.4 L404.5,297.6 L404.8,314.5 L405.0,325.5 L405.2,329.4 L405.5,326.5 L405.8,317.6 L406.0,303.7 L406.2,286.1 L406.5,266.5 L406.8,246.8 L407.0,229.0 L407.2,214.8 L407.5,205.6 L407.8,202.3 L408.0,211.3 L408.2,237.1 L408.5,272.8 L408.8,308.8 L409.0,335.2 L409.2,345.1 L409.5,334.8 L409.8,306.7 L410.0,269.5 L410.2,234.6 L410.5,212.9 L410.8,209.6 L411.0,212.2 L411.2,217.6 L411.5,225.4 L411.8,235.2 L412.0,246.3 L412.2,258.1 L412.5,269.8 L412.8,280.8 L413.0,290.4 L413.2,297.9 L413.5,303.0 L413.8,305.3 L414.0,302.7 L414.2,289.6 L414.5,268.4 L414.8,243.1 L415.0,218.7 L415.2,200.0 L415.5,190.6 L415.8,192.0 L416.0,203.1 L416.2,222.1 L416.5,246.4 L416.8,272.4 L417.0,296.4 L417.2,315.1 L417.5,325.6 L417.8,327.1 L418.0,324.2 L418.2,318.1 L418.5,309.3 L418.8,298.1 L419.0,285.0 L419.2,270.8 L419.5,256.1 L419.8,241.7 L420.0,228.2 L420.2,216.3 L420.5,206.6 L420.8,199.7 L421.0,195.7 L421.2,195.8 L421.5,212.7 L421.8,246.4 L422.0,286.3 L422.2,320.3 L422.5,338.0 L422.8,338.4 L423.0,335.2 L423.2,329.4 L423.5,321.2 L423.8,310.9 L424.0,299.1 L424.2,286.2 L424.5,272.8 L424.8,259.3 L425.0,246.3 L425.2,234.5 L425.5,224.2 L425.8,216.0 L426.0,210.0 L426.2,206.7 L426.5,206.7 L426.8,220.0 L427.0,246.6 L427.2,279.1 L427.5,308.3 L427.8,326.1 L428.0,328.4 L428.2,321.2 L428.5,306.8 L428.8,286.6 L429.0,262.8 L429.2,237.8 L429.5,214.0 L429.8,194.0 L430.0,179.7 L430.2,172.6 L430.5,172.7 L430.8,176.9 L431.0,184.8 L431.2,196.0 L431.5,210.1 L431.8,226.5 L432.0,244.4 L432.2,263.2 L432.5,282.0 L432.8,300.1 L433.0,316.8 L433.2,331.3 L433.5,343.0 L433.8,351.5 L434.0,356.4 L434.2,357.4 L434.5,354.7 L434.8,348.5 L435.0,339.0 L435.2,326.7 L435.5,312.4 L435.8,296.8 L436.0,280.8 L436.2,265.1 L436.5,250.7 L436.8,238.2 L437.0,228.5 L437.2,221.9 L437.5,218.9 L437.8,219.4 L438.0,222.8 L438.2,229.0 L438.5,237.6 L438.8,248.3 L439.0,260.7 L439.2,274.2 L439.5,288.2 L439.8,302.2 L440.0,315.5 L440.2,327.7 L440.5,338.0 L440.8,346.2 L441.0,351.9 L441.2,354.8 L441.5,354.6 L441.8,349.9 L442.0,340.8 L442.2,327.6 L442.5,311.2 L442.8,292.4 L443.0,272.2 L443.2,251.7 L443.5,231.9 L443.8,214.1 L444.0,199.0 L444.2,187.6 L444.5,180.4 L444.8,177.9 L445.0,180.0 L445.2,186.5 L445.5,197.1 L445.8,211.0 L446.0,227.6 L446.2,245.8 L446.5,264.6 L446.8,282.8 L447.0,299.4 L447.2,313.4 L447.5,324.0 L447.8,330.6 L448.0,332.7 L448.2,330.8 L448.5,325.5 L448.8,317.1 L449.0,306.0 L449.2,292.8 L449.5,278.2 L449.8,263.1 L450.0,248.2 L450.2,234.4 L450.5,222.4 L450.8,212.9 L451.0,206.3 L451.2,203.1 L451.5,205.5 L451.8,221.5 L452.0,247.7 L452.2,276.8 L452.5,300.7 L452.8,312.7 L453.0,312.6 L453.2,309.0 L453.5,302.7 L453.8,293.9 L454.0,283.0 L454.2,270.5 L454.5,256.9 L454.8,242.9 L455.0,229.0 L455.2,215.9 L455.5,204.2 L455.8,194.4 L456.0,186.9 L456.2,182.0 L456.5,180.1 L456.8,184.9 L457.0,202.5 L457.2,229.6 L457.5,261.0 L457.8,290.5 L458.0,312.4 L458.2,322.4 L458.5,320.6 L458.8,311.8 L459.0,297.3 L459.2,278.9 L459.5,259.0 L459.8,240.1 L460.0,224.7 L460.2,214.8 L460.5,211.5 L460.8,213.0 L461.0,217.3 L461.2,224.2 L461.5,233.4 L461.8,244.4 L462.0,256.9 L462.2,270.3 L462.5,283.9 L462.8,297.3 L463.0,309.9 L463.2,321.0 L463.5,330.3 L463.8,337.3 L464.0,341.7 L464.2,343.4 L464.5,342.5 L464.8,339.4 L465.0,334.3 L465.2,327.3 L465.5,318.7 L465.8,308.7 L466.0,297.7 L466.2,286.0 L466.5,274.0 L466.8,262.2 L467.0,250.9 L467.2,240.5 L467.5,231.3 L467.8,223.8 L468.0,218.0 L468.2,214.2 L468.5,212.5 L468.8,213.3 L469.0,217.4 L469.2,224.5 L469.5,234.1 L469.8,245.6 L470.0,258.3 L470.2,271.2 L470.5,283.6 L470.8,294.5 L471.0,303.3 L471.2,309.4 L471.5,312.4 L471.8,312.2 L472.0,309.4 L472.2,304.1 L472.5,296.6 L472.8,287.3 L473.0,276.3 L473.2,264.3 L473.5,251.7 L473.8,238.9 L474.0,226.6 L474.2,215.2 L474.5,205.2 L474.8,196.9 L475.0,190.8 L475.2,187.0 L475.5,185.7 L475.8,190.6 L476.0,204.5 L476.2,225.5 L476.5,251.0 L476.8,277.7 L477.0,302.0 L477.2,320.9 L477.5,331.9 L477.8,334.0 L478.0,332.5 L478.2,329.2 L478.5,324.1 L478.8,317.6 L479.0,309.7 L479.2,300.9 L479.5,291.3 L479.8,281.3 L480.0,271.3 L480.2,261.6 L480.5,252.6 L480.8,244.4 L481.0,237.5 L481.2,232.1 L481.5,228.3 L481.8,226.3 L482.0,227.2 L482.2,238.9 L482.5,259.8 L482.8,283.8 L483.0,303.9 L483.2,314.0 L483.5,313.2 L483.8,306.7 L484.0,295.3 L484.2,280.1 L484.5,262.3 L484.8,243.3 L485.0,224.9 L485.2,208.5 L485.5,195.5 L485.8,187.1 L486.0,183.8 L486.2,186.0 L486.5,193.5 L486.8,205.7 L487.0,221.9 L487.2,241.0 L487.5,261.7 L487.8,282.8 L488.0,302.7 L488.2,320.3 L488.5,334.2 L488.8,343.8 L489.0,348.2 L489.2,344.1 L489.5,322.6 L489.8,288.5 L490.0,250.9 L490.2,219.4 L490.5,202.4 L490.8,203.9 L491.0,222.5 L491.2,253.8 L491.5,290.8 L491.8,325.3 L492.0,349.5 L492.2,358.1 L492.5,356.4 L492.8,351.3 L493.0,343.0 L493.2,332.1 L493.5,318.8 L493.8,303.9 L494.0,287.9 L494.2,271.7 L494.5,255.8 L494.8,241.1 L495.0,228.1 L495.2,217.5 L495.5,209.6 L495.8,205.0 L496.0,203.8 L496.2,217.1 L496.5,247.6 L496.8,286.0 L497.0,320.4 L497.2,340.2 L497.5,342.1 L497.8,340.0 L498.0,336.0 L498.2,330.2 L498.5,322.7 L498.8,313.9 L499.0,304.0 L499.2,293.3 L499.5,282.1 L499.8,270.9 L500.0,260.0 L500.2,249.7 L500.5,240.4 L500.8,232.3 L501.0,225.7 L501.2,220.9 L501.5,217.9 L501.8,217.0 L502.0,223.5 L502.2,241.4 L502.5,266.7 L502.8,293.5 L503.0,315.8 L503.2,328.7 L503.5,329.4 L503.8,319.1 L504.0,299.8 L504.2,274.1 L504.5,246.1 L504.8,219.9 L505.0,199.4 L505.2,187.7 L505.5,186.5 L505.8,195.7 L506.0,213.7 L506.2,237.7 L506.5,263.8 L506.8,287.7 L507.0,305.6 L507.2,314.6 L507.5,311.9 L507.8,293.2 L508.0,263.2 L508.2,230.1 L508.5,203.0 L508.8,189.4 L509.0,190.0 L509.2,196.9 L509.5,208.8 L509.8,224.5 L510.0,242.3 L510.2,260.5 L510.5,277.2 L510.8,290.7 L511.0,299.6 L511.2,303.0 L511.5,301.2 L511.8,295.2 L512.0,285.7 L512.2,273.3 L512.5,259.1 L512.8,244.5 L513.0,230.5 L513.2,218.5 L513.5,209.5 L513.8,204.2 L514.0,203.1 L514.2,206.8 L514.5,215.2 L514.8,227.6 L515.0,243.0 L515.2,260.2 L515.5,277.6 L515.8,294.0 L516.0,308.0 L516.2,318.4 L516.5,324.4 L516.8,324.8 L517.0,308.4 L517.2,275.9 L517.5,236.9 L517.8,202.9 L518.0,183.9 L518.2,183.7 L518.5,193.9 L518.8,212.0 L519.0,235.4 L519.2,260.7 L519.5,284.2 L519.8,302.4 L520.0,312.7 L520.2,312.9 L520.5,296.8 L520.8,267.2 L521.0,231.9 L521.2,200.4 L521.5,181.1 L521.8,178.2 L522.0,183.8 L522.2,195.1 L522.5,211.2 L522.8,230.8 L523.0,252.5 L523.2,274.4 L523.5,294.9 L523.8,312.3 L524.0,325.2 L524.2,332.6 L524.5,333.6 L524.8,323.7 L525.0,303.4 L525.2,277.3 L525.5,250.9 L525.8,230.2 L526.0,219.7 L526.2,220.0 L526.5,225.0 L526.8,234.1 L527.0,246.4 L527.2,261.0 L527.5,276.8 L527.8,292.5 L528.0,307.0 L528.2,319.0 L528.5,327.7 L528.8,332.4 L529.0,332.7 L529.2,329.0 L529.5,321.7 L529.8,311.3 L530.0,298.5 L530.2,284.3 L530.5,269.7 L530.8,255.8 L531.0,243.6 L531.2,234.0 L531.5,227.6 L531.8,225.0 L532.0,226.9 L532.2,234.3 L532.5,246.4 L532.8,262.1 L533.0,279.9 L533.2,298.0 L533.5,314.6 L533.8,328.2 L534.0,337.4 L534.2,341.3 L534.5,339.4 L534.8,331.7 L535.0,318.6 L535.2,301.5 L535.5,281.7 L535.8,260.9 L536.0,241.0 L536.2,223.6 L536.5,210.3 L536.8,202.1 L537.0,199.8 L537.2,203.7 L537.5,213.5 L537.8,228.3 L538.0,246.9 L538.2,267.7 L538.5,289.1 L538.8,309.1 L539.0,326.2 L539.2,338.9 L539.5,346.1 L539.8,347.2 L540.0,342.4 L540.2,332.1 L540.5,317.4 L540.8,299.5 L541.0,280.3 L541.2,261.6 L541.5,245.0 L541.8,232.2 L542.0,224.4 L542.2,222.2 L542.5,225.1 L542.8,232.3 L543.0,242.9 L543.2,256.1 L543.5,270.5 L543.8,284.9 L544.0,297.7 L544.2,307.8 L544.5,314.3 L544.8,316.4 L545.0,309.9 L545.2,292.6 L545.5,269.0 L545.8,245.0 L546.0,227.0 L546.2,219.5 L546.5,220.9 L546.8,226.0 L547.0,234.3 L547.2,245.0 L547.5,257.1 L547.8,269.5 L548.0,280.9 L548.2,290.4 L548.5,297.1 L548.8,300.3 L549.0,299.7 L549.2,295.2 L549.5,287.2 L549.8,276.3 L550.0,263.3 L550.2,249.3 L550.5,235.3 L550.8,222.5 L551.0,211.9 L551.2,204.2 L551.5,200.1 L551.8,201.2 L552.0,216.2 L552.2,242.7 L552.5,273.4 L552.8,299.6 L553.0,314.1 L553.2,315.3 L553.5,313.4 L553.8,309.8 L554.0,304.7 L554.2,298.2 L554.5,290.6 L554.8,282.1 L555.0,273.2 L555.2,264.0 L555.5,255.0 L555.8,246.6 L556.0,238.9 L556.2,232.3 L556.5,227.1 L556.8,223.4 L557.0,221.4 L557.2,221.1 L557.5,222.8 L557.8,226.3 L558.0,231.6 L558.2,238.4 L558.5,246.6 L558.8,255.8 L559.0,265.6 L559.2,275.8 L559.5,285.9 L559.8,295.7 L560.0,304.6 L560.2,312.4 L560.5,318.9 L560.8,323.7 L561.0,326.8 L561.2,327.9 L561.5,327.1 L561.8,324.1 L562.0,319.2 L562.2,312.4 L562.5,304.1 L562.8,294.6 L563.0,284.1 L563.2,273.1 L563.5,262.0 L563.8,251.2 L564.0,241.1 L564.2,232.0 L564.5,224.3 L564.8,218.3 L565.0,214.2 L565.2,212.0 L565.5,212.1 L565.8,214.5 L566.0,219.1 L566.2,225.8 L566.5,234.2 L566.8,243.9 L567.0,254.4 L567.2,265.0 L567.5,275.4 L567.8,285.0 L568.0,293.2 L568.2,299.8 L568.5,304.2 L568.8,306.4 L569.0,306.3 L569.2,304.8 L569.5,302.0 L569.8,298.1 L570.0,293.1 L570.2,287.2 L570.5,280.6 L570.8,273.6 L571.0,266.5 L571.2,259.4 L571.5,252.7 L571.8,246.5 L572.0,241.1 L572.2,236.7 L572.5,233.5 L572.8,231.5 L573.0,230.8 L573.2,232.1 L573.5,235.9 L573.8,241.6 L574.0,248.9 L574.2,256.9 L574.5,264.9 L574.8,272.2 L575.0,278.0 L575.2,281.7 L575.5,283.0 L575.8,280.6 L576.0,274.0 L576.2,264.5 L576.5,254.3 L576.8,245.7 L577.0,240.7 L577.2,240.0 L577.5,241.3 L577.8,244.0 L578.0,247.9 L578.2,252.7 L578.5,258.2 L578.8,263.9 L579.0,269.6 L579.2,274.8 L579.5,279.3 L579.8,282.8 L580.0,284.9 L580.2,285.7 L580.5,285.3 L580.8,284.1 L581.0,282.2 L581.2,279.6 L581.5,276.5 L581.8,272.9 L582.0,269.2 L582.2,265.3 L582.5,261.6 L582.8,258.1 L583.0,255.1 L583.2,252.6 L583.5,250.7 L583.8,249.6 L584.0,249.4 L584.2,250.6 L584.5,253.5 L584.8,257.9 L585.0,263.4 L585.2,269.4 L585.5,275.3 L585.8,280.6 L586.0,284.8 L586.2,287.5 L586.5,288.4 L586.8,286.4 L587.0,281.0 L587.2,273.1 L587.5,264.3 L587.8,256.2 L588.0,250.3 L588.2,247.7 L588.5,249.8 L588.8,258.0 L589.0,270.7 L589.2,285.3 L589.5,299.0 L589.8,308.9 L590.0,313.1 L590.2,310.5 L590.5,301.1 L590.8,286.3 L591.0,268.4 L591.2,250.1 L591.5,234.2 L591.8,223.0 L592.0,218.3 L592.2,219.5 L592.5,224.4 L592.8,232.7 L593.0,243.8 L593.2,257.1 L593.5,271.8 L593.8,287.1 L594.0,302.1 L594.2,315.8 L594.5,327.5 L594.8,336.6 L595.0,342.3 L595.2,344.5 L595.5,336.3 L595.8,310.5 L596.0,274.9 L596.2,240.2 L596.5,216.7 L596.8,211.1 L597.0,214.4 L597.2,222.1 L597.5,233.6 L597.8,248.1 L598.0,264.6 L598.2,282.1 L598.5,299.4 L598.8,315.3 L599.0,328.8 L599.2,339.0 L599.5,345.1 L599.8,346.7 L600.0,333.6 L600.2,303.2 L600.5,264.0 L600.8,226.8 L601.0,202.0 L601.2,195.9 L601.5,197.7 L601.8,201.8 L602.0,208.0 L602.2,216.0 L602.5,225.4 L602.8,235.8 L603.0,246.6 L603.2,257.4 L603.5,267.6 L603.8,276.8 L604.0,284.4 L604.2,290.2 L604.5,293.8 L604.8,295.0 L605.0,294.2 L605.2,291.7 L605.5,287.7 L605.8,282.3 L606.0,275.8 L606.2,268.6 L606.5,260.9 L606.8,253.1 L607.0,245.6 L607.2,238.7 L607.5,232.9 L607.8,228.3 L608.0,225.2 L608.2,223.7 L608.5,225.8 L608.8,238.1 L609.0,258.8 L609.2,283.6 L609.5,307.4 L609.8,325.5 L610.0,334.1 L610.2,332.0 L610.5,321.0 L610.8,302.8 L611.0,280.1 L611.2,256.3 L611.5,235.1 L611.8,219.6 L612.0,212.2 L612.2,213.7 L612.5,222.8 L612.8,237.9 L613.0,256.3 L613.2,274.4 L613.5,289.1 L613.8,297.5 L614.0,298.9 L614.2,297.8 L614.5,295.6 L614.8,292.4 L615.0,288.2 L615.2,283.3 L615.5,277.7 L615.8,271.7 L616.0,265.5 L616.2,259.3 L616.5,253.3 L616.8,247.7 L617.0,242.7 L617.2,238.5 L617.5,235.3 L617.8,233.1 L618.0,232.0 L618.2,233.7 L618.5,245.0 L618.8,263.2 L619.0,282.4 L619.2,296.5 L619.5,301.0 L619.8,300.0 L620.0,297.2 L620.2,292.8 L620.5,287.1 L620.8,280.1 L621.0,272.3 L621.2,263.9 L621.5,255.4 L621.8,247.1 L622.0,239.3 L622.2,232.4 L622.5,226.7 L622.8,222.4 L623.0,219.6 L623.2,218.7 L623.5,222.7 L623.8,235.2 L624.0,254.0 L624.2,275.7 L624.5,296.6 L624.8,313.0 L625.0,322.1 L625.2,323.0 L625.5,320.2 L625.8,314.7 L626.0,306.7 L626.2,296.5 L626.5,284.5 L626.8,271.2 L627.0,257.1 L627.2,242.8 L627.5,228.9 L627.8,215.8 L628.0,204.1 L628.2,194.3 L628.5,186.8 L628.8,181.8 L629.0,179.6 L629.2,183.5 L629.5,201.9 L629.8,231.8 L630.0,268.0 L630.2,303.9 L630.5,333.1 L630.8,350.3 L631.0,352.5 L631.2,340.5 L631.5,317.0 L631.8,286.5 L632.0,255.2 L632.2,229.3 L632.5,213.9 L632.8,211.3 L633.0,214.1 L633.2,219.9 L633.5,228.4 L633.8,239.2 L634.0,251.9 L634.2,265.7 L634.5,280.1 L634.8,294.3 L635.0,307.6 L635.2,319.4 L635.5,329.1 L635.8,336.2 L636.0,340.4 L636.2,341.5 L636.5,336.9 L636.8,325.4 L637.0,308.2 L637.2,286.6 L637.5,262.7 L637.8,238.4 L638.0,216.0 L638.2,197.4 L638.5,184.2 L638.8,177.5 L639.0,177.9 L639.2,184.6 L639.5,197.0 L639.8,214.0 L640.0,234.0 L640.2,255.2 L640.5,275.8 L640.8,293.9 L641.0,307.9 L641.2,316.6 L641.5,319.0 L641.8,311.6 L642.0,293.1 L642.2,266.6 L642.5,236.4 L642.8,207.3 L643.0,184.2 L643.2,170.8 L643.5,169.7 L643.8,185.4 L644.0,215.5 L644.2,252.9 L644.5,288.8 L644.8,314.8 L645.0,324.8 L645.2,322.3 L645.5,314.5 L645.8,301.9 L646.0,285.6 L646.2,266.9 L646.5,247.3 L646.8,228.5 L647.0,211.8 L647.2,198.6 L647.5,190.0 L647.8,186.8 L648.0,192.3 L648.2,210.3 L648.5,237.8 L648.8,270.3 L649.0,302.5 L649.2,329.0 L649.5,345.5 L649.8,349.3 L650.0,341.4 L650.2,323.6 L650.5,298.5 L650.8,269.5 L651.0,240.7 L651.2,216.2 L651.5,199.4 L651.8,192.7 L652.0,193.6 L652.2,197.1 L652.5,202.9 L652.8,210.7 L653.0,220.2 L653.2,231.0 L653.5,242.5 L653.8,254.2 L654.0,265.6 L654.2,276.1 L654.5,285.3 L654.8,292.7 L655.0,298.0 L655.2,300.9 L655.5,300.8 L655.8,291.6 L656.0,273.0 L656.2,248.3 L656.5,221.8 L656.8,198.1 L657.0,181.4 L657.2,174.6 L657.5,180.9 L657.8,202.4 L658.0,235.3 L658.2,273.3 L658.5,309.7 L658.8,337.8 L659.0,352.3 L659.2,353.0 L659.5,349.3 L659.8,342.3 L660.0,332.3 L660.2,319.7 L660.5,305.1 L660.8,288.9 L661.0,271.8 L661.2,254.4 L661.5,237.5 L661.8,221.8 L662.0,207.7 L662.2,196.0 L662.5,186.9 L662.8,181.0 L663.0,178.4 L663.2,179.4 L663.5,184.7 L663.8,194.0 L664.0,206.9 L664.2,222.7 L664.5,240.6 L664.8,259.8 L665.0,279.1 L665.2,297.8 L665.5,314.8 L665.8,329.3 L666.0,340.5 L666.2,348.0 L666.5,351.2 L666.8,347.5 L667.0,331.0 L667.2,304.2 L667.5,271.3 L667.8,237.9 L668.0,209.4 L668.2,190.5 L668.5,184.3 L668.8,186.5 L669.0,192.8 L669.2,202.7 L669.5,215.8 L669.8,231.5 L670.0,248.8 L670.2,267.0 L670.5,285.1 L670.8,302.2 L671.0,317.5 L671.2,330.0 L671.5,339.3 L671.8,344.9 L672.0,346.3 L672.2,342.8 L672.5,334.0 L672.8,320.8 L673.0,304.5 L673.2,286.8 L673.5,269.3 L673.8,253.8 L674.0,241.8 L674.2,234.5 L674.5,232.6 L674.8,236.5 L675.0,245.5 L675.2,258.3 L675.5,272.7 L675.8,286.4 L676.0,297.1 L676.2,303.1 L676.5,303.1 L676.8,296.3 L677.0,283.5 L677.2,267.0 L677.5,249.6 L677.8,234.3 L678.0,223.7 L678.2,219.8 L678.5,224.0 L678.8,236.5 L679.0,255.3 L679.2,277.2 L679.5,298.7 L679.8,316.1 L680.0,326.6 L680.2,328.7 L680.5,325.2 L680.8,317.7 L681.0,306.5 L681.2,292.3 L681.5,276.2 L681.8,259.1 L682.0,242.0 L682.2,226.2 L682.5,212.6 L682.8,202.1 L683.0,195.3 L683.2,192.7 L683.5,195.6 L683.8,205.5 L684.0,221.4 L684.2,241.5 L684.5,263.8 L684.8,286.0 L685.0,305.6 L685.2,320.8 L685.5,329.8 L685.8,331.8 L686.0,329.4 L686.2,323.7 L686.5,315.2 L686.8,304.2 L687.0,291.3 L687.2,277.2 L687.5,262.7 L687.8,248.4 L688.0,235.2 L688.2,223.8 L688.5,214.7 L688.8,208.4 L689.0,205.3 L689.2,205.4 L689.5,208.0 L689.8,213.1 L690.0,220.2 L690.2,229.1 L690.5,239.3 L690.8,250.3 L691.0,261.6 L691.2,272.6 L691.5,282.8 L691.8,291.6 L692.0,298.7 L692.2,303.6 L692.5,306.2 L692.8,306.0 L693.0,301.6 L693.2,293.1 L693.5,281.3 L693.8,267.5 L694.0,253.0 L694.2,239.2 L694.5,227.5 L694.8,219.1 L695.0,214.8 L695.2,214.7 L695.5,216.8 L695.8,220.8 L696.0,226.5 L696.2,233.7 L696.5,242.0 L696.8,251.1 L697.0,260.6 L697.2,270.1 L697.5,279.2 L697.8,287.4 L698.0,294.4 L698.2,299.9 L698.5,303.6 L698.8,305.4" stroke="#666" stroke-width="0.85" fill="none" stroke-dasharray="3.2 1.5"/>
<line x1="400.00" x2="696.25" y1="263.29" y2="263.29" stroke="#000" stroke-width="1.1" fill="none" stroke-dasharray="3.3 1.6"/>
<path d="M520.70,272.90 L520.87,272.25 L521.03,271.59 L521.20,270.94 L521.37,270.29 L521.54,269.64 L521.70,269.00 L521.87,268.36 L522.04,267.72 L522.21,267.09 L522.37,266.47 L522.54,265.85 L522.71,265.24 L522.88,264.64 L523.04,264.05 L523.21,263.47 L523.38,262.90 L523.55,262.34 L523.71,261.80 L523.88,261.26 L524.05,260.74 L524.22,260.23 L524.38,259.73 L524.55,259.24 L524.72,258.77 L524.89,258.31 L525.05,257.86 L525.22,257.42 L525.39,257.00 L525.56,256.58 L525.72,256.18 L525.89,255.80 L526.06,255.42 L526.23,255.06 L526.39,254.71 L526.56,254.38 L526.73,254.06 L526.90,253.75 L527.06,253.45 L527.23,253.17 L527.40,252.90 L527.57,252.65 L527.73,252.41 L527.90,252.19 L528.07,251.98 L528.24,251.79 L528.40,251.61 L528.57,251.45 L528.74,251.31 L528.91,251.18 L529.07,251.08 L529.24,250.99 L529.41,250.91 L529.58,250.86 L529.74,250.82 L529.91,250.80 L530.08,250.80 L530.25,250.82 L530.41,250.86 L530.58,250.92 L530.75,250.99 L530.92,251.08 L531.08,251.18 L531.25,251.30 L531.42,251.43 L531.59,251.58 L531.75,251.74 L531.92,251.91 L532.09,252.09 L532.26,252.29 L532.42,252.49 L532.59,252.70 L532.76,252.93 L532.93,253.16 L533.09,253.39 L533.26,253.64 L533.43,253.89 L533.60,254.15 L533.76,254.41 L533.93,254.67 L534.10,254.94 L534.27,255.21 L534.43,255.49 L534.60,255.76 L534.77,256.04 L534.94,256.32 L535.10,256.59 L535.27,256.87 L535.44,257.14 L535.61,257.42 L535.77,257.68 L535.94,257.95 L536.11,258.21 L536.28,258.47 L536.44,258.72 L536.61,258.96 L536.78,259.20 L536.94,259.43 L537.11,259.65 L537.28,259.86 L537.45,260.06 L537.61,260.26 L537.78,260.44 L537.95,260.62 L538.12,260.79 L538.28,260.94 L538.45,261.09 L538.62,261.22 L538.79,261.34 L538.95,261.45 L539.12,261.55 L539.29,261.64 L539.46,261.72 L539.62,261.78 L539.79,261.83 L539.96,261.87 L540.13,261.89 L540.29,261.90 L540.46,261.90 L540.63,261.88 L540.80,261.85 L540.96,261.81 L541.13,261.76 L541.30,261.69 L541.47,261.62 L541.63,261.55 L541.80,261.46 L541.97,261.37 L542.14,261.28 L542.30,261.19 L542.47,261.09 L542.64,260.99 L542.81,260.89 L542.97,260.80 L543.14,260.70 L543.31,260.61 L543.48,260.53 L543.64,260.45 L543.81,260.37 L543.98,260.31 L544.15,260.25 L544.31,260.20 L544.48,260.16 L544.65,260.13 L544.82,260.11 L544.98,260.10 L545.15,260.10 L545.32,260.10 L545.49,260.11 L545.65,260.13 L545.82,260.16 L545.99,260.20 L546.16,260.25 L546.32,260.30 L546.49,260.36 L546.66,260.43 L546.83,260.51 L546.99,260.60 L547.16,260.69 L547.33,260.79 L547.50,260.90 L547.66,261.02 L547.83,261.15 L548.00,261.29 L548.17,261.44 L548.33,261.61 L548.50,261.78 L548.67,261.97 L548.84,262.17 L549.00,262.38 L549.17,262.61 L549.34,262.86 L549.51,263.12 L549.67,263.39 L549.84,263.68 L550.01,263.99 L550.18,264.32 L550.34,264.66 L550.51,265.02 L550.68,265.40 L550.85,265.80 L551.01,266.22 L551.18,266.66 L551.35,267.11 L551.52,267.58 L551.68,268.06 L551.85,268.56 L552.02,269.07 L552.19,269.60 L552.35,270.14 L552.52,270.69 L552.69,271.25 L552.86,271.83 L553.02,272.41 L553.19,273.00 L553.36,273.61 L553.52,274.22 L553.69,274.84 L553.86,275.47 L554.03,276.10 L554.19,276.74 L554.36,277.39 L554.53,278.03 L554.70,278.68 L554.86,279.32 L555.03,279.96 L555.20,280.59 L555.37,281.21 L555.53,281.82 L555.70,282.42 L555.87,283.00 L556.04,283.56 L556.20,284.10 L556.37,284.62 L556.54,285.11 L556.71,285.58 L556.87,286.02 L557.04,286.44 L557.21,286.82 L557.38,287.18 L557.54,287.50 L557.71,287.80 L557.88,288.06 L558.05,288.29 L558.21,288.49 L558.38,288.65 L558.55,288.78 L558.72,288.87 L558.88,288.92 L559.05,288.94 L559.22,288.92 L559.39,288.87 L559.55,288.78 L559.72,288.65 L559.89,288.49 L560.06,288.29 L560.22,288.05 L560.39,287.78 L560.56,287.47 L560.73,287.13 L560.89,286.76 L561.06,286.35 L561.23,285.90 L561.40,285.42 L561.56,284.90 L561.73,284.34 L561.90,283.75 L562.07,283.11 L562.23,282.44 L562.40,281.73 L562.57,280.97 L562.74,280.18 L562.90,279.34 L563.07,278.46 L563.24,277.53 L563.41,276.56 L563.57,275.55 L563.74,274.49 L563.91,273.39 L564.08,272.26 L564.24,271.09 L564.41,269.90 L564.58,268.69 L564.75,267.45 L564.91,266.20 L565.08,264.94 L565.25,263.67 L565.42,262.40 L565.58,261.13 L565.75,259.86 L565.92,258.61 L566.09,257.37 L566.25,256.14 L566.42,254.93 L566.59,253.73 L566.76,252.55 L566.92,251.37 L567.09,250.21 L567.26,249.06 L567.43,247.91 L567.59,246.78 L567.76,245.65 L567.93,244.53 L568.10,243.41 L568.26,242.30 L568.43,241.20 L568.60,240.10 L568.77,239.00 L568.93,237.90 L569.10,236.80" stroke="#000" stroke-width="2.6" fill="none" stroke-linejoin="round" stroke-linecap="round"/>
</g>
<line x1="523.90" x2="523.90" y1="5.20" y2="300.16" stroke="#000" stroke-width="1.3"/>
<line x1="564.30" x2="564.30" y1="5.20" y2="300.16" stroke="#000" stroke-width="1.3"/>
<rect x="400.00" y="5.20" width="296.25" height="294.96" fill="none" stroke="#000" stroke-width="0.72"/>
<line x1="400.00" x2="696.25" y1="78.94" y2="78.94" stroke="#000" stroke-width="0.75"/>
<line x1="400.00" x2="696.25" y1="152.68" y2="152.68" stroke="#000" stroke-width="0.75"/>
<line x1="400.00" x2="696.25" y1="226.42" y2="226.42" stroke="#000" stroke-width="0.75"/>
<rect x="402.76" y="7.86" width="56.48" height="19.48" rx="1.3" fill="#fff" fill-opacity="0.8" stroke="#d9d9d9" stroke-width="0.65"/>
<line x1="405.12" x2="417.52" y1="12.97" y2="12.97" stroke="#555" stroke-width="0.9" fill="none" stroke-dasharray="3.2 1.5"/>
<line x1="405.12" x2="417.52" y1="21.73" y2="21.73" stroke="#000" stroke-width="1.6"/>
<circle cx="411.32" cy="21.73" r="2.26" fill="#000"/>
<text x="421.65" y="15.53" font-size="6.44" text-anchor="start" textLength="34.69" lengthAdjust="spacingAndGlyphs" filter="url(#tb)">Orginal CCF</text>
<text x="421.65" y="24.29" font-size="6.44" text-anchor="start" textLength="25.38" lengthAdjust="spacingAndGlyphs" filter="url(#tb)">Selected</text>
<rect x="402.76" y="81.72" width="61.99" height="18.89" rx="1.3" fill="#fff" fill-opacity="0.8" stroke="#d9d9d9" stroke-width="0.65"/>
<line x1="405.12" x2="417.52" y1="86.84" y2="86.84" stroke="#555" stroke-width="0.9" fill="none" stroke-dasharray="3.2 1.5"/>
<line x1="405.12" x2="417.52" y1="95.60" y2="95.60" stroke="#000" stroke-width="1.6"/>
<circle cx="411.32" cy="95.60" r="2.26" fill="#000"/>
<text x="421.65" y="89.40" font-size="6.44" text-anchor="start" textLength="40.33" lengthAdjust="spacingAndGlyphs" filter="url(#tb)">1st derivative</text>
<text x="421.65" y="98.16" font-size="6.44" text-anchor="start" textLength="25.38" lengthAdjust="spacingAndGlyphs" filter="url(#tb)">Selected</text>
<rect x="402.76" y="155.40" width="62.19" height="19.29" rx="1.3" fill="#fff" fill-opacity="0.8" stroke="#d9d9d9" stroke-width="0.65"/>
<line x1="405.12" x2="417.52" y1="160.51" y2="160.51" stroke="#555" stroke-width="0.9" fill="none" stroke-dasharray="3.2 1.5"/>
<line x1="405.12" x2="417.52" y1="169.27" y2="169.27" stroke="#000" stroke-width="1.6"/>
<circle cx="411.32" cy="169.27" r="2.26" fill="#000"/>
<text x="421.65" y="163.07" font-size="6.44" text-anchor="start" textLength="42.41" lengthAdjust="spacingAndGlyphs" filter="url(#tb)">2nd derivative</text>
<text x="421.65" y="171.83" font-size="6.44" text-anchor="start" textLength="25.38" lengthAdjust="spacingAndGlyphs" filter="url(#tb)">Selected</text>
<rect x="402.76" y="229.07" width="61.80" height="19.09" rx="1.3" fill="#fff" fill-opacity="0.8" stroke="#d9d9d9" stroke-width="0.65"/>
<line x1="405.12" x2="417.52" y1="234.18" y2="234.18" stroke="#555" stroke-width="0.9" fill="none" stroke-dasharray="3.2 1.5"/>
<line x1="405.12" x2="417.52" y1="242.94" y2="242.94" stroke="#000" stroke-width="1.6"/>
<circle cx="411.32" cy="242.94" r="2.26" fill="#000"/>
<text x="421.65" y="236.74" font-size="6.44" text-anchor="start" textLength="41.10" lengthAdjust="spacingAndGlyphs" filter="url(#tb)">3rd derivative</text>
<text x="421.65" y="245.50" font-size="6.44" text-anchor="start" textLength="25.38" lengthAdjust="spacingAndGlyphs" filter="url(#tb)">Selected</text>
<line x1="397.84" x2="400.00" y1="15.73" y2="15.73" stroke="#000" stroke-width="0.7"/>
<text x="395.87" y="18.19" font-size="6.44" text-anchor="end" textLength="9.31" lengthAdjust="spacingAndGlyphs" filter="url(#tb)">0.5</text>
<line x1="397.84" x2="400.00" y1="68.41" y2="68.41" stroke="#000" stroke-width="0.7"/>
<text x="395.87" y="70.87" font-size="6.44" text-anchor="end" textLength="9.31" lengthAdjust="spacingAndGlyphs" filter="url(#tb)">0.0</text>
<line x1="397.84" x2="400.00" y1="97.38" y2="97.38" stroke="#000" stroke-width="0.7"/>
<text x="395.87" y="99.83" font-size="6.44" text-anchor="end" textLength="16.76" lengthAdjust="spacingAndGlyphs" filter="url(#tb)">0.005</text>
<line x1="397.84" x2="400.00" y1="115.81" y2="115.81" stroke="#000" stroke-width="0.7"/>
<text x="395.87" y="118.27" font-size="6.44" text-anchor="end" textLength="16.76" lengthAdjust="spacingAndGlyphs" filter="url(#tb)">0.000</text>
<line x1="397.84" x2="400.00" y1="134.25" y2="134.25" stroke="#000" stroke-width="0.7"/>
<text x="395.87" y="136.71" font-size="6.44" text-anchor="end" textLength="21.67" lengthAdjust="spacingAndGlyphs" filter="url(#tb)">&#8722;0.005</text>
<line x1="397.84" x2="400.00" y1="163.21" y2="163.21" stroke="#000" stroke-width="0.7"/>
<text x="395.87" y="165.67" font-size="6.44" text-anchor="end" textLength="3.73" lengthAdjust="spacingAndGlyphs" filter="url(#tb)">0</text>
<line x1="397.84" x2="400.00" y1="215.89" y2="215.89" stroke="#000" stroke-width="0.7"/>
<text x="394.98" y="216.08" font-size="4.76" text-anchor="end" textLength="5.31" lengthAdjust="spacingAndGlyphs" filter="url(#tb)">&#8722;4</text>
<text x="389.27" y="218.35" font-size="6.44" text-anchor="end" textLength="7.08" lengthAdjust="spacingAndGlyphs" filter="url(#tb)">10</text>
<text x="378.25" y="218.35" font-size="8.05" text-anchor="middle" style="stroke-width:0.05px" filter="url(#tb)">&#215;</text>
<text x="374.51" y="218.35" font-size="6.44" text-anchor="end" textLength="8.20" lengthAdjust="spacingAndGlyphs" filter="url(#tb)">&#8722;5</text>
<line x1="397.84" x2="400.00" y1="232.56" y2="232.56" stroke="#000" stroke-width="0.7"/>
<text x="394.98" y="232.76" font-size="4.76" text-anchor="end" textLength="5.31" lengthAdjust="spacingAndGlyphs" filter="url(#tb)">&#8722;5</text>
<text x="389.27" y="235.02" font-size="6.44" text-anchor="end" textLength="7.08" lengthAdjust="spacingAndGlyphs" filter="url(#tb)">10</text>
<text x="378.25" y="235.02" font-size="8.05" text-anchor="middle" style="stroke-width:0.05px" filter="url(#tb)">&#215;</text>
<text x="374.51" y="235.02" font-size="6.44" text-anchor="end" textLength="8.85" lengthAdjust="spacingAndGlyphs" filter="url(#tb)">2.5</text>
<line x1="397.84" x2="400.00" y1="263.29" y2="263.29" stroke="#000" stroke-width="0.7"/>
<text x="395.87" y="265.75" font-size="6.44" text-anchor="end" textLength="3.73" lengthAdjust="spacingAndGlyphs" filter="url(#tb)">0</text>
<line x1="397.84" x2="400.00" y1="294.01" y2="294.01" stroke="#000" stroke-width="0.7"/>
<text x="394.98" y="294.21" font-size="4.76" text-anchor="end" textLength="5.31" lengthAdjust="spacingAndGlyphs" filter="url(#tb)">&#8722;5</text>
<text x="389.27" y="296.47" font-size="6.44" text-anchor="end" textLength="7.08" lengthAdjust="spacingAndGlyphs" filter="url(#tb)">10</text>
<text x="378.25" y="296.47" font-size="8.05" text-anchor="middle" style="stroke-width:0.05px" filter="url(#tb)">&#215;</text>
<text x="374.51" y="296.47" font-size="6.44" text-anchor="end" textLength="13.51" lengthAdjust="spacingAndGlyphs" filter="url(#tb)">&#8722;2.5</text>
<line x1="401.47" x2="401.47" y1="300.16" y2="302.32" stroke="#000" stroke-width="0.7"/>
<text x="401.47" y="309.11" font-size="6.44" text-anchor="middle" textLength="16.08" lengthAdjust="spacingAndGlyphs" filter="url(#tb)">&#8722;500</text>
<line x1="474.80" x2="474.80" y1="300.16" y2="302.32" stroke="#000" stroke-width="0.7"/>
<text x="474.80" y="309.11" font-size="6.44" text-anchor="middle" textLength="16.08" lengthAdjust="spacingAndGlyphs" filter="url(#tb)">&#8722;250</text>
<line x1="548.12" x2="548.12" y1="300.16" y2="302.32" stroke="#000" stroke-width="0.7"/>
<text x="548.12" y="309.11" font-size="6.44" text-anchor="middle" textLength="3.73" lengthAdjust="spacingAndGlyphs" filter="url(#tb)">0</text>
<line x1="621.45" x2="621.45" y1="300.16" y2="302.32" stroke="#000" stroke-width="0.7"/>
<text x="621.45" y="309.11" font-size="6.44" text-anchor="middle" textLength="11.18" lengthAdjust="spacingAndGlyphs" filter="url(#tb)">250</text>
<line x1="694.78" x2="694.78" y1="300.16" y2="302.32" stroke="#000" stroke-width="0.7"/>
<text x="694.78" y="309.11" font-size="6.44" text-anchor="middle" textLength="11.18" lengthAdjust="spacingAndGlyphs" filter="url(#tb)">500</text>
<text x="548.12" y="316.79" font-size="6.44" text-anchor="middle" textLength="64.04" lengthAdjust="spacingAndGlyphs" filter="url(#tb)">Radial Velocity (km/s)</text>
<text x="640.65" y="17.30" font-size="9.25" font-style="italic" textLength="5.90" lengthAdjust="spacingAndGlyphs">&#963;</text>
<line x1="649.21" x2="655.61" y1="13.22" y2="13.22" stroke="#000" stroke-width="0.8"/>
<line x1="649.21" x2="655.61" y1="15.14" y2="15.14" stroke="#000" stroke-width="0.8"/>
<text x="657.87" y="17.30" font-size="9.25" textLength="11.41" lengthAdjust="spacingAndGlyphs">20</text>
<text x="671.75" y="17.30" font-size="9.25" textLength="22.93" lengthAdjust="spacingAndGlyphs">km/s</text>
</svg></body></html>
